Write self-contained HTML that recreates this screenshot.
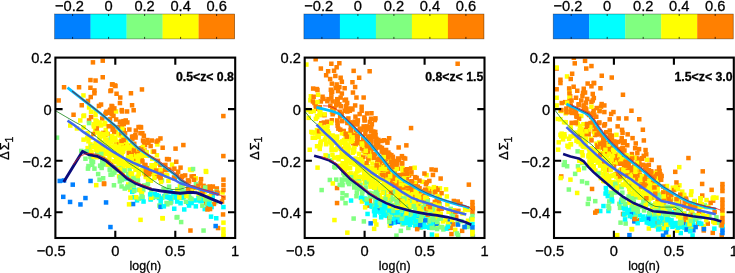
<!DOCTYPE html><html><head><meta charset="utf-8"><title>fig</title><style>
html,body{margin:0;padding:0;background:#fff}body{width:735px;height:273px;position:relative;overflow:hidden}
svg text{font-family:"Liberation Sans",sans-serif;fill:#000;stroke:#000;stroke-width:0.3px}
.t{font-size:14.7px}.z{font-size:12.3px;font-weight:bold}.yl{font-size:13px}.xl{font-size:12.4px}
</style></head><body>
<svg width="735" height="273" viewBox="0 0 735 273" style="position:absolute;left:0;top:0;will-change:transform;opacity:0.9999">
<defs>
<clipPath id="cp0"><rect x="55.4" y="57.6" width="179.8" height="180.4"/></clipPath>
<clipPath id="cp1"><rect x="304.7" y="57.6" width="179.8" height="180.4"/></clipPath>
<clipPath id="cp2"><rect x="554.0" y="57.6" width="179.8" height="180.4"/></clipPath>
</defs>
<rect x="54.6" y="14.0" width="36.2" height="24.9" fill="#0080ff"/>
<rect x="90.6" y="14.0" width="36.2" height="24.9" fill="#00ffff"/>
<rect x="126.6" y="14.0" width="36.2" height="24.9" fill="#80ff80"/>
<rect x="162.6" y="14.0" width="36.2" height="24.9" fill="#ffff00"/>
<rect x="198.6" y="14.0" width="36.2" height="24.9" fill="#ff8000"/>
<rect x="54.6" y="14.0" width="180" height="24.9" fill="none" stroke="#000" stroke-opacity="0.45" stroke-width="0.7"/>
<path d="M72.6 14.0v2M72.6 38.9v-2" stroke="#000" stroke-width="0.7"/>
<path d="M108.6 14.0v2M108.6 38.9v-2" stroke="#000" stroke-width="0.7"/>
<path d="M144.6 14.0v2M144.6 38.9v-2" stroke="#000" stroke-width="0.7"/>
<path d="M180.6 14.0v2M180.6 38.9v-2" stroke="#000" stroke-width="0.7"/>
<path d="M216.6 14.0v2M216.6 38.9v-2" stroke="#000" stroke-width="0.7"/>
<g clip-path="url(#cp0)" shape-rendering="auto">
<rect x="86.8" y="118.2" width="4.5" height="4.5" fill="#ff8000"/>
<rect x="117.7" y="120.1" width="4.5" height="4.5" fill="#ff8000"/>
<rect x="208.5" y="188.0" width="4.5" height="4.5" fill="#ff8000"/>
<rect x="110.3" y="82.2" width="4.5" height="4.5" fill="#ff8000"/>
<rect x="138.8" y="157.0" width="4.5" height="4.5" fill="#ff8000"/>
<rect x="92.9" y="127.9" width="4.5" height="4.5" fill="#ffff00"/>
<rect x="106.2" y="141.9" width="4.5" height="4.5" fill="#ffff00"/>
<rect x="168.5" y="197.7" width="4.5" height="4.5" fill="#80ff80"/>
<rect x="221.2" y="195.4" width="4.5" height="4.5" fill="#ff8000"/>
<rect x="95.1" y="145.0" width="4.5" height="4.5" fill="#ffff00"/>
<rect x="97.6" y="148.2" width="4.5" height="4.5" fill="#ffff00"/>
<rect x="175.1" y="187.2" width="4.5" height="4.5" fill="#80ff80"/>
<rect x="198.8" y="176.9" width="4.5" height="4.5" fill="#ff8000"/>
<rect x="210.6" y="184.3" width="4.5" height="4.5" fill="#ff8000"/>
<rect x="201.3" y="197.4" width="4.5" height="4.5" fill="#ff8000"/>
<rect x="110.0" y="108.5" width="4.5" height="4.5" fill="#ff8000"/>
<rect x="87.4" y="148.5" width="4.5" height="4.5" fill="#ffff00"/>
<rect x="148.6" y="178.5" width="4.5" height="4.5" fill="#ffff00"/>
<rect x="127.6" y="153.3" width="4.5" height="4.5" fill="#ffff00"/>
<rect x="118.5" y="143.3" width="4.5" height="4.5" fill="#ffff00"/>
<rect x="131.7" y="183.4" width="4.5" height="4.5" fill="#80ff80"/>
<rect x="167.2" y="167.3" width="4.5" height="4.5" fill="#ff8000"/>
<rect x="94.1" y="147.8" width="4.5" height="4.5" fill="#ffff00"/>
<rect x="85.0" y="136.1" width="4.5" height="4.5" fill="#ffff00"/>
<rect x="180.4" y="182.7" width="4.5" height="4.5" fill="#ffff00"/>
<rect x="141.0" y="187.8" width="4.5" height="4.5" fill="#80ff80"/>
<rect x="107.5" y="108.5" width="4.5" height="4.5" fill="#ff8000"/>
<rect x="127.8" y="142.8" width="4.5" height="4.5" fill="#ffff00"/>
<rect x="209.4" y="204.8" width="4.5" height="4.5" fill="#00ffff"/>
<rect x="119.2" y="163.9" width="4.5" height="4.5" fill="#ffff00"/>
<rect x="122.6" y="167.8" width="4.5" height="4.5" fill="#ffff00"/>
<rect x="113.9" y="168.1" width="4.5" height="4.5" fill="#80ff80"/>
<rect x="144.8" y="165.9" width="4.5" height="4.5" fill="#ff8000"/>
<rect x="114.3" y="91.5" width="4.5" height="4.5" fill="#ff8000"/>
<rect x="85.3" y="131.1" width="4.5" height="4.5" fill="#ffff00"/>
<rect x="197.2" y="194.4" width="4.5" height="4.5" fill="#ffff00"/>
<rect x="121.2" y="130.8" width="4.5" height="4.5" fill="#ff8000"/>
<rect x="198.3" y="181.1" width="4.5" height="4.5" fill="#ff8000"/>
<rect x="148.9" y="189.1" width="4.5" height="4.5" fill="#80ff80"/>
<rect x="174.4" y="215.2" width="4.5" height="4.5" fill="#80ff80"/>
<rect x="112.2" y="150.3" width="4.5" height="4.5" fill="#ffff00"/>
<rect x="117.2" y="144.1" width="4.5" height="4.5" fill="#ffff00"/>
<rect x="61.8" y="85.0" width="4.5" height="4.5" fill="#ff8000"/>
<rect x="94.4" y="146.4" width="4.5" height="4.5" fill="#ffff00"/>
<rect x="143.6" y="150.8" width="4.5" height="4.5" fill="#ff8000"/>
<rect x="93.5" y="121.9" width="4.5" height="4.5" fill="#ffff00"/>
<rect x="148.6" y="196.2" width="4.5" height="4.5" fill="#80ff80"/>
<rect x="139.2" y="189.7" width="4.5" height="4.5" fill="#80ff80"/>
<rect x="199.1" y="198.1" width="4.5" height="4.5" fill="#00ffff"/>
<rect x="179.0" y="192.6" width="4.5" height="4.5" fill="#00ffff"/>
<rect x="139.0" y="158.3" width="4.5" height="4.5" fill="#ff8000"/>
<rect x="114.8" y="157.6" width="4.5" height="4.5" fill="#ffff00"/>
<rect x="203.9" y="200.8" width="4.5" height="4.5" fill="#ff8000"/>
<rect x="122.5" y="186.3" width="4.5" height="4.5" fill="#80ff80"/>
<rect x="100.0" y="116.3" width="4.5" height="4.5" fill="#ff8000"/>
<rect x="163.2" y="193.5" width="4.5" height="4.5" fill="#00ffff"/>
<rect x="175.0" y="187.5" width="4.5" height="4.5" fill="#00ffff"/>
<rect x="137.9" y="154.0" width="4.5" height="4.5" fill="#ffff00"/>
<rect x="169.8" y="162.4" width="4.5" height="4.5" fill="#ffff00"/>
<rect x="121.5" y="127.8" width="4.5" height="4.5" fill="#ff8000"/>
<rect x="182.9" y="173.2" width="4.5" height="4.5" fill="#ff8000"/>
<rect x="112.2" y="165.3" width="4.5" height="4.5" fill="#80ff80"/>
<rect x="171.8" y="175.2" width="4.5" height="4.5" fill="#ff8000"/>
<rect x="205.3" y="203.4" width="4.5" height="4.5" fill="#00ffff"/>
<rect x="135.1" y="148.6" width="4.5" height="4.5" fill="#ff8000"/>
<rect x="113.8" y="130.1" width="4.5" height="4.5" fill="#ffff00"/>
<rect x="121.4" y="138.4" width="4.5" height="4.5" fill="#ffff00"/>
<rect x="88.2" y="154.7" width="4.5" height="4.5" fill="#80ff80"/>
<rect x="140.1" y="131.0" width="4.5" height="4.5" fill="#ff8000"/>
<rect x="163.9" y="187.6" width="4.5" height="4.5" fill="#00ffff"/>
<rect x="124.0" y="140.9" width="4.5" height="4.5" fill="#ffff00"/>
<rect x="125.1" y="120.2" width="4.5" height="4.5" fill="#ff8000"/>
<rect x="142.6" y="165.9" width="4.5" height="4.5" fill="#ffff00"/>
<rect x="116.4" y="139.6" width="4.5" height="4.5" fill="#ffff00"/>
<rect x="99.4" y="165.7" width="4.5" height="4.5" fill="#80ff80"/>
<rect x="134.4" y="166.1" width="4.5" height="4.5" fill="#80ff80"/>
<rect x="113.9" y="117.2" width="4.5" height="4.5" fill="#ff8000"/>
<rect x="201.2" y="186.0" width="4.5" height="4.5" fill="#ff8000"/>
<rect x="88.3" y="135.3" width="4.5" height="4.5" fill="#ffff00"/>
<rect x="102.9" y="122.0" width="4.5" height="4.5" fill="#ffff00"/>
<rect x="97.9" y="152.0" width="4.5" height="4.5" fill="#ffff00"/>
<rect x="108.2" y="88.8" width="4.5" height="4.5" fill="#ff8000"/>
<rect x="142.1" y="147.9" width="4.5" height="4.5" fill="#ff8000"/>
<rect x="206.1" y="203.3" width="4.5" height="4.5" fill="#ff8000"/>
<rect x="162.1" y="194.1" width="4.5" height="4.5" fill="#00ffff"/>
<rect x="213.2" y="199.9" width="4.5" height="4.5" fill="#80ff80"/>
<rect x="193.1" y="185.9" width="4.5" height="4.5" fill="#ffff00"/>
<rect x="112.0" y="129.6" width="4.5" height="4.5" fill="#ff8000"/>
<rect x="128.0" y="162.8" width="4.5" height="4.5" fill="#ffff00"/>
<rect x="154.7" y="153.0" width="4.5" height="4.5" fill="#ffff00"/>
<rect x="204.5" y="186.7" width="4.5" height="4.5" fill="#ff8000"/>
<rect x="150.0" y="156.6" width="4.5" height="4.5" fill="#ffff00"/>
<rect x="132.1" y="150.9" width="4.5" height="4.5" fill="#ff8000"/>
<rect x="193.7" y="181.8" width="4.5" height="4.5" fill="#80ff80"/>
<rect x="159.7" y="178.2" width="4.5" height="4.5" fill="#80ff80"/>
<rect x="165.8" y="194.8" width="4.5" height="4.5" fill="#00ffff"/>
<rect x="169.0" y="199.3" width="4.5" height="4.5" fill="#00ffff"/>
<rect x="136.6" y="187.4" width="4.5" height="4.5" fill="#80ff80"/>
<rect x="127.2" y="143.9" width="4.5" height="4.5" fill="#ffff00"/>
<rect x="120.0" y="144.9" width="4.5" height="4.5" fill="#ffff00"/>
<rect x="103.2" y="133.1" width="4.5" height="4.5" fill="#ffff00"/>
<rect x="131.6" y="145.6" width="4.5" height="4.5" fill="#ffff00"/>
<rect x="110.0" y="104.2" width="4.5" height="4.5" fill="#ff8000"/>
<rect x="134.5" y="165.0" width="4.5" height="4.5" fill="#ffff00"/>
<rect x="98.8" y="123.2" width="4.5" height="4.5" fill="#ffff00"/>
<rect x="85.7" y="166.4" width="4.5" height="4.5" fill="#80ff80"/>
<rect x="134.8" y="198.1" width="4.5" height="4.5" fill="#00ffff"/>
<rect x="98.3" y="149.7" width="4.5" height="4.5" fill="#ffff00"/>
<rect x="183.2" y="192.5" width="4.5" height="4.5" fill="#00ffff"/>
<rect x="136.6" y="196.4" width="4.5" height="4.5" fill="#80ff80"/>
<rect x="142.8" y="142.8" width="4.5" height="4.5" fill="#ff8000"/>
<rect x="107.5" y="137.4" width="4.5" height="4.5" fill="#ffff00"/>
<rect x="126.0" y="182.2" width="4.5" height="4.5" fill="#ffff00"/>
<rect x="113.5" y="159.8" width="4.5" height="4.5" fill="#ffff00"/>
<rect x="172.0" y="206.5" width="4.5" height="4.5" fill="#00ffff"/>
<rect x="108.4" y="163.0" width="4.5" height="4.5" fill="#80ff80"/>
<rect x="172.4" y="190.8" width="4.5" height="4.5" fill="#80ff80"/>
<rect x="108.3" y="172.5" width="4.5" height="4.5" fill="#80ff80"/>
<rect x="211.7" y="201.7" width="4.5" height="4.5" fill="#ff8000"/>
<rect x="149.2" y="166.4" width="4.5" height="4.5" fill="#ffff00"/>
<rect x="74.7" y="126.2" width="4.5" height="4.5" fill="#ffff00"/>
<rect x="95.0" y="151.6" width="4.5" height="4.5" fill="#80ff80"/>
<rect x="107.9" y="167.8" width="4.5" height="4.5" fill="#80ff80"/>
<rect x="142.1" y="163.3" width="4.5" height="4.5" fill="#ffff00"/>
<rect x="127.8" y="176.5" width="4.5" height="4.5" fill="#ffff00"/>
<rect x="131.8" y="195.1" width="4.5" height="4.5" fill="#00ffff"/>
<rect x="100.5" y="75.0" width="4.5" height="4.5" fill="#ff8000"/>
<rect x="105.3" y="131.8" width="4.5" height="4.5" fill="#ff8000"/>
<rect x="127.4" y="172.0" width="4.5" height="4.5" fill="#ffff00"/>
<rect x="127.4" y="167.4" width="4.5" height="4.5" fill="#80ff80"/>
<rect x="158.4" y="176.4" width="4.5" height="4.5" fill="#ff8000"/>
<rect x="124.9" y="143.4" width="4.5" height="4.5" fill="#ffff00"/>
<rect x="67.8" y="199.7" width="4.5" height="4.5" fill="#0080ff"/>
<rect x="94.7" y="155.0" width="4.5" height="4.5" fill="#ffff00"/>
<rect x="221.2" y="177.4" width="4.5" height="4.5" fill="#ff8000"/>
<rect x="180.4" y="180.8" width="4.5" height="4.5" fill="#ffff00"/>
<rect x="128.5" y="149.4" width="4.5" height="4.5" fill="#ffff00"/>
<rect x="150.5" y="149.4" width="4.5" height="4.5" fill="#ffff00"/>
<rect x="178.9" y="219.8" width="4.5" height="4.5" fill="#80ff80"/>
<rect x="119.1" y="151.0" width="4.5" height="4.5" fill="#ffff00"/>
<rect x="196.4" y="192.7" width="4.5" height="4.5" fill="#ffff00"/>
<rect x="122.8" y="131.1" width="4.5" height="4.5" fill="#ff8000"/>
<rect x="128.7" y="184.9" width="4.5" height="4.5" fill="#80ff80"/>
<rect x="163.4" y="193.6" width="4.5" height="4.5" fill="#80ff80"/>
<rect x="214.0" y="216.0" width="4.5" height="4.5" fill="#00ffff"/>
<rect x="174.9" y="195.6" width="4.5" height="4.5" fill="#00ffff"/>
<rect x="114.8" y="153.4" width="4.5" height="4.5" fill="#ffff00"/>
<rect x="140.5" y="152.4" width="4.5" height="4.5" fill="#ffff00"/>
<rect x="129.1" y="144.4" width="4.5" height="4.5" fill="#ff8000"/>
<rect x="191.5" y="174.0" width="4.5" height="4.5" fill="#ff8000"/>
<rect x="136.0" y="146.9" width="4.5" height="4.5" fill="#ffff00"/>
<rect x="221.2" y="227.1" width="4.5" height="4.5" fill="#ffff00"/>
<rect x="127.9" y="187.6" width="4.5" height="4.5" fill="#ffff00"/>
<rect x="221.2" y="231.1" width="4.5" height="4.5" fill="#ffff00"/>
<rect x="127.6" y="146.4" width="4.5" height="4.5" fill="#ffff00"/>
<rect x="92.2" y="91.0" width="4.5" height="4.5" fill="#ff8000"/>
<rect x="105.4" y="162.6" width="4.5" height="4.5" fill="#80ff80"/>
<rect x="92.2" y="166.4" width="4.5" height="4.5" fill="#80ff80"/>
<rect x="215.3" y="190.8" width="4.5" height="4.5" fill="#ff8000"/>
<rect x="133.6" y="153.7" width="4.5" height="4.5" fill="#ffff00"/>
<rect x="90.8" y="159.5" width="4.5" height="4.5" fill="#80ff80"/>
<rect x="99.3" y="147.5" width="4.5" height="4.5" fill="#ffff00"/>
<rect x="188.7" y="188.3" width="4.5" height="4.5" fill="#ffff00"/>
<rect x="105.2" y="151.5" width="4.5" height="4.5" fill="#ffff00"/>
<rect x="196.3" y="195.9" width="4.5" height="4.5" fill="#00ffff"/>
<rect x="199.5" y="198.4" width="4.5" height="4.5" fill="#00ffff"/>
<rect x="205.2" y="184.8" width="4.5" height="4.5" fill="#ff8000"/>
<rect x="107.4" y="151.1" width="4.5" height="4.5" fill="#ffff00"/>
<rect x="139.4" y="154.9" width="4.5" height="4.5" fill="#ff8000"/>
<rect x="221.2" y="182.8" width="4.5" height="4.5" fill="#ff8000"/>
<rect x="118.9" y="160.8" width="4.5" height="4.5" fill="#ffff00"/>
<rect x="120.2" y="149.5" width="4.5" height="4.5" fill="#ffff00"/>
<rect x="135.1" y="155.8" width="4.5" height="4.5" fill="#ffff00"/>
<rect x="106.6" y="138.2" width="4.5" height="4.5" fill="#ffff00"/>
<rect x="117.8" y="133.2" width="4.5" height="4.5" fill="#ffff00"/>
<rect x="145.8" y="177.3" width="4.5" height="4.5" fill="#ffff00"/>
<rect x="124.8" y="109.2" width="4.5" height="4.5" fill="#ff8000"/>
<rect x="130.1" y="155.4" width="4.5" height="4.5" fill="#ffff00"/>
<rect x="133.2" y="167.6" width="4.5" height="4.5" fill="#ffff00"/>
<rect x="119.6" y="123.8" width="4.5" height="4.5" fill="#ff8000"/>
<rect x="160.1" y="195.6" width="4.5" height="4.5" fill="#80ff80"/>
<rect x="189.4" y="167.8" width="4.5" height="4.5" fill="#ffff00"/>
<rect x="135.7" y="160.4" width="4.5" height="4.5" fill="#ffff00"/>
<rect x="166.2" y="178.6" width="4.5" height="4.5" fill="#ffff00"/>
<rect x="125.4" y="176.7" width="4.5" height="4.5" fill="#80ff80"/>
<rect x="120.6" y="170.2" width="4.5" height="4.5" fill="#ffff00"/>
<rect x="134.6" y="164.5" width="4.5" height="4.5" fill="#ffff00"/>
<rect x="130.6" y="156.1" width="4.5" height="4.5" fill="#ffff00"/>
<rect x="158.7" y="168.5" width="4.5" height="4.5" fill="#ffff00"/>
<rect x="129.1" y="151.7" width="4.5" height="4.5" fill="#ffff00"/>
<rect x="103.1" y="151.7" width="4.5" height="4.5" fill="#ffff00"/>
<rect x="191.0" y="185.3" width="4.5" height="4.5" fill="#ff8000"/>
<rect x="167.0" y="195.3" width="4.5" height="4.5" fill="#00ffff"/>
<rect x="208.8" y="214.4" width="4.5" height="4.5" fill="#00ffff"/>
<rect x="98.4" y="143.2" width="4.5" height="4.5" fill="#ffff00"/>
<rect x="164.0" y="190.9" width="4.5" height="4.5" fill="#80ff80"/>
<rect x="97.2" y="134.2" width="4.5" height="4.5" fill="#ffff00"/>
<rect x="202.3" y="189.9" width="4.5" height="4.5" fill="#ffff00"/>
<rect x="122.4" y="136.6" width="4.5" height="4.5" fill="#ff8000"/>
<rect x="95.9" y="171.8" width="4.5" height="4.5" fill="#80ff80"/>
<rect x="129.8" y="134.5" width="4.5" height="4.5" fill="#ff8000"/>
<rect x="100.5" y="58.4" width="4.5" height="4.5" fill="#ff8000"/>
<rect x="107.2" y="158.1" width="4.5" height="4.5" fill="#ffff00"/>
<rect x="105.7" y="162.2" width="4.5" height="4.5" fill="#ffff00"/>
<rect x="189.4" y="187.5" width="4.5" height="4.5" fill="#ff8000"/>
<rect x="181.4" y="194.7" width="4.5" height="4.5" fill="#00ffff"/>
<rect x="86.2" y="163.8" width="4.5" height="4.5" fill="#80ff80"/>
<rect x="127.1" y="127.3" width="4.5" height="4.5" fill="#ff8000"/>
<rect x="123.2" y="140.2" width="4.5" height="4.5" fill="#ff8000"/>
<rect x="202.5" y="206.8" width="4.5" height="4.5" fill="#00ffff"/>
<rect x="132.0" y="141.6" width="4.5" height="4.5" fill="#ff8000"/>
<rect x="219.8" y="199.3" width="4.5" height="4.5" fill="#ff8000"/>
<rect x="120.1" y="126.4" width="4.5" height="4.5" fill="#ffff00"/>
<rect x="198.5" y="188.8" width="4.5" height="4.5" fill="#ff8000"/>
<rect x="173.3" y="146.4" width="4.5" height="4.5" fill="#ff8000"/>
<rect x="133.4" y="155.1" width="4.5" height="4.5" fill="#ffff00"/>
<rect x="122.2" y="162.3" width="4.5" height="4.5" fill="#ffff00"/>
<rect x="158.4" y="200.8" width="4.5" height="4.5" fill="#00ffff"/>
<rect x="79.0" y="148.7" width="4.5" height="4.5" fill="#80ff80"/>
<rect x="133.1" y="133.0" width="4.5" height="4.5" fill="#ff8000"/>
<rect x="142.4" y="162.8" width="4.5" height="4.5" fill="#ff8000"/>
<rect x="113.9" y="142.2" width="4.5" height="4.5" fill="#ff8000"/>
<rect x="105.6" y="158.2" width="4.5" height="4.5" fill="#ffff00"/>
<rect x="130.8" y="201.8" width="4.5" height="4.5" fill="#0080ff"/>
<rect x="119.1" y="146.8" width="4.5" height="4.5" fill="#ffff00"/>
<rect x="139.7" y="191.1" width="4.5" height="4.5" fill="#ffff00"/>
<rect x="105.2" y="139.0" width="4.5" height="4.5" fill="#ffff00"/>
<rect x="131.7" y="149.2" width="4.5" height="4.5" fill="#ffff00"/>
<rect x="54.8" y="135.4" width="4.5" height="4.5" fill="#80ff80"/>
<rect x="113.4" y="145.1" width="4.5" height="4.5" fill="#ffff00"/>
<rect x="107.5" y="167.3" width="4.5" height="4.5" fill="#80ff80"/>
<rect x="119.6" y="177.8" width="4.5" height="4.5" fill="#80ff80"/>
<rect x="81.3" y="137.4" width="4.5" height="4.5" fill="#ffff00"/>
<rect x="107.1" y="137.9" width="4.5" height="4.5" fill="#ffff00"/>
<rect x="110.1" y="151.5" width="4.5" height="4.5" fill="#ffff00"/>
<rect x="98.8" y="102.3" width="4.5" height="4.5" fill="#ff8000"/>
<rect x="207.7" y="199.1" width="4.5" height="4.5" fill="#80ff80"/>
<rect x="147.0" y="168.1" width="4.5" height="4.5" fill="#ffff00"/>
<rect x="150.6" y="171.8" width="4.5" height="4.5" fill="#ffff00"/>
<rect x="109.8" y="82.2" width="4.5" height="4.5" fill="#ff8000"/>
<rect x="179.0" y="195.8" width="4.5" height="4.5" fill="#80ff80"/>
<rect x="126.5" y="146.0" width="4.5" height="4.5" fill="#ffff00"/>
<rect x="109.8" y="133.8" width="4.5" height="4.5" fill="#ffff00"/>
<rect x="85.9" y="148.3" width="4.5" height="4.5" fill="#ffff00"/>
<rect x="109.3" y="103.7" width="4.5" height="4.5" fill="#ff8000"/>
<rect x="94.0" y="182.9" width="4.5" height="4.5" fill="#ffff00"/>
<rect x="117.8" y="159.7" width="4.5" height="4.5" fill="#ffff00"/>
<rect x="117.7" y="100.8" width="4.5" height="4.5" fill="#ff8000"/>
<rect x="95.1" y="145.9" width="4.5" height="4.5" fill="#ffff00"/>
<rect x="140.1" y="195.4" width="4.5" height="4.5" fill="#00ffff"/>
<rect x="119.7" y="156.1" width="4.5" height="4.5" fill="#ffff00"/>
<rect x="111.5" y="137.2" width="4.5" height="4.5" fill="#ffff00"/>
<rect x="135.4" y="174.4" width="4.5" height="4.5" fill="#ffff00"/>
<rect x="189.4" y="174.2" width="4.5" height="4.5" fill="#ff8000"/>
<rect x="198.3" y="198.9" width="4.5" height="4.5" fill="#00ffff"/>
<rect x="178.3" y="165.4" width="4.5" height="4.5" fill="#ff8000"/>
<rect x="214.6" y="186.2" width="4.5" height="4.5" fill="#ff8000"/>
<rect x="191.8" y="198.2" width="4.5" height="4.5" fill="#00ffff"/>
<rect x="205.0" y="201.2" width="4.5" height="4.5" fill="#80ff80"/>
<rect x="96.1" y="144.2" width="4.5" height="4.5" fill="#ffff00"/>
<rect x="108.4" y="144.4" width="4.5" height="4.5" fill="#ffff00"/>
<rect x="130.7" y="150.0" width="4.5" height="4.5" fill="#ff8000"/>
<rect x="103.5" y="127.7" width="4.5" height="4.5" fill="#ffff00"/>
<rect x="112.7" y="153.3" width="4.5" height="4.5" fill="#ffff00"/>
<rect x="209.2" y="190.2" width="4.5" height="4.5" fill="#ff8000"/>
<rect x="113.2" y="83.8" width="4.5" height="4.5" fill="#ff8000"/>
<rect x="125.9" y="185.3" width="4.5" height="4.5" fill="#80ff80"/>
<rect x="145.2" y="137.8" width="4.5" height="4.5" fill="#ff8000"/>
<rect x="174.8" y="172.9" width="4.5" height="4.5" fill="#ff8000"/>
<rect x="139.4" y="167.7" width="4.5" height="4.5" fill="#ffff00"/>
<rect x="146.5" y="172.9" width="4.5" height="4.5" fill="#ffff00"/>
<rect x="98.3" y="163.7" width="4.5" height="4.5" fill="#80ff80"/>
<rect x="139.5" y="146.4" width="4.5" height="4.5" fill="#ffff00"/>
<rect x="165.1" y="194.8" width="4.5" height="4.5" fill="#00ffff"/>
<rect x="172.1" y="166.4" width="4.5" height="4.5" fill="#ff8000"/>
<rect x="93.4" y="141.0" width="4.5" height="4.5" fill="#ffff00"/>
<rect x="108.0" y="107.5" width="4.5" height="4.5" fill="#ff8000"/>
<rect x="101.4" y="134.1" width="4.5" height="4.5" fill="#ffff00"/>
<rect x="178.9" y="190.0" width="4.5" height="4.5" fill="#80ff80"/>
<rect x="164.9" y="173.4" width="4.5" height="4.5" fill="#ffff00"/>
<rect x="85.4" y="145.9" width="4.5" height="4.5" fill="#ffff00"/>
<rect x="138.3" y="124.8" width="4.5" height="4.5" fill="#ff8000"/>
<rect x="141.4" y="148.1" width="4.5" height="4.5" fill="#ffff00"/>
<rect x="220.8" y="212.2" width="4.5" height="4.5" fill="#ff8000"/>
<rect x="148.4" y="143.8" width="4.5" height="4.5" fill="#ff8000"/>
<rect x="131.1" y="164.4" width="4.5" height="4.5" fill="#ffff00"/>
<rect x="109.1" y="152.5" width="4.5" height="4.5" fill="#ffff00"/>
<rect x="123.6" y="141.0" width="4.5" height="4.5" fill="#ffff00"/>
<rect x="109.5" y="112.0" width="4.5" height="4.5" fill="#ff8000"/>
<rect x="88.3" y="178.7" width="4.5" height="4.5" fill="#0080ff"/>
<rect x="128.4" y="180.7" width="4.5" height="4.5" fill="#80ff80"/>
<rect x="120.6" y="142.3" width="4.5" height="4.5" fill="#ff8000"/>
<rect x="131.7" y="134.4" width="4.5" height="4.5" fill="#ff8000"/>
<rect x="70.5" y="182.4" width="4.5" height="4.5" fill="#0080ff"/>
<rect x="121.3" y="118.9" width="4.5" height="4.5" fill="#ff8000"/>
<rect x="134.3" y="176.5" width="4.5" height="4.5" fill="#ffff00"/>
<rect x="123.6" y="159.7" width="4.5" height="4.5" fill="#ffff00"/>
<rect x="130.7" y="175.5" width="4.5" height="4.5" fill="#ffff00"/>
<rect x="117.6" y="179.2" width="4.5" height="4.5" fill="#80ff80"/>
<rect x="100.8" y="142.5" width="4.5" height="4.5" fill="#ffff00"/>
<rect x="118.0" y="95.3" width="4.5" height="4.5" fill="#ff8000"/>
<rect x="143.6" y="174.2" width="4.5" height="4.5" fill="#ffff00"/>
<rect x="129.7" y="171.6" width="4.5" height="4.5" fill="#ffff00"/>
<rect x="97.9" y="163.5" width="4.5" height="4.5" fill="#80ff80"/>
<rect x="108.8" y="144.4" width="4.5" height="4.5" fill="#ffff00"/>
<rect x="200.4" y="188.7" width="4.5" height="4.5" fill="#ff8000"/>
<rect x="121.4" y="130.9" width="4.5" height="4.5" fill="#ff8000"/>
<rect x="118.3" y="119.4" width="4.5" height="4.5" fill="#ff8000"/>
<rect x="130.5" y="156.0" width="4.5" height="4.5" fill="#ffff00"/>
<rect x="199.0" y="187.7" width="4.5" height="4.5" fill="#80ff80"/>
<rect x="126.8" y="202.1" width="4.5" height="4.5" fill="#ffff00"/>
<rect x="179.5" y="188.4" width="4.5" height="4.5" fill="#80ff80"/>
<rect x="164.2" y="173.4" width="4.5" height="4.5" fill="#ffff00"/>
<rect x="135.5" y="175.3" width="4.5" height="4.5" fill="#ffff00"/>
<rect x="110.8" y="107.3" width="4.5" height="4.5" fill="#ff8000"/>
<rect x="133.5" y="157.6" width="4.5" height="4.5" fill="#ffff00"/>
<rect x="175.1" y="214.8" width="4.5" height="4.5" fill="#80ff80"/>
<rect x="177.9" y="195.5" width="4.5" height="4.5" fill="#80ff80"/>
<rect x="122.3" y="136.1" width="4.5" height="4.5" fill="#ff8000"/>
<rect x="178.3" y="194.4" width="4.5" height="4.5" fill="#00ffff"/>
<rect x="203.9" y="169.6" width="4.5" height="4.5" fill="#ffff00"/>
<rect x="130.2" y="142.1" width="4.5" height="4.5" fill="#ff8000"/>
<rect x="90.7" y="60.1" width="4.5" height="4.5" fill="#ff8000"/>
<rect x="113.8" y="109.2" width="4.5" height="4.5" fill="#ffff00"/>
<rect x="61.8" y="178.2" width="4.5" height="4.5" fill="#0080ff"/>
<rect x="107.7" y="117.1" width="4.5" height="4.5" fill="#ff8000"/>
<rect x="220.3" y="190.2" width="4.5" height="4.5" fill="#ffff00"/>
<rect x="207.2" y="187.8" width="4.5" height="4.5" fill="#ff8000"/>
<rect x="92.2" y="143.4" width="4.5" height="4.5" fill="#ffff00"/>
<rect x="214.4" y="189.4" width="4.5" height="4.5" fill="#80ff80"/>
<rect x="81.2" y="113.8" width="4.5" height="4.5" fill="#ffff00"/>
<rect x="130.8" y="134.5" width="4.5" height="4.5" fill="#ff8000"/>
<rect x="174.9" y="199.3" width="4.5" height="4.5" fill="#00ffff"/>
<rect x="140.1" y="194.9" width="4.5" height="4.5" fill="#80ff80"/>
<rect x="164.8" y="156.8" width="4.5" height="4.5" fill="#ff8000"/>
<rect x="103.1" y="137.4" width="4.5" height="4.5" fill="#ffff00"/>
<rect x="100.1" y="160.0" width="4.5" height="4.5" fill="#80ff80"/>
<rect x="111.7" y="183.0" width="4.5" height="4.5" fill="#80ff80"/>
<rect x="132.7" y="155.5" width="4.5" height="4.5" fill="#ff8000"/>
<rect x="127.2" y="149.5" width="4.5" height="4.5" fill="#ffff00"/>
<rect x="130.0" y="189.6" width="4.5" height="4.5" fill="#00ffff"/>
<rect x="119.6" y="140.6" width="4.5" height="4.5" fill="#ffff00"/>
<rect x="136.5" y="170.1" width="4.5" height="4.5" fill="#ffff00"/>
<rect x="165.3" y="167.6" width="4.5" height="4.5" fill="#ff8000"/>
<rect x="157.2" y="203.3" width="4.5" height="4.5" fill="#80ff80"/>
<rect x="121.8" y="175.9" width="4.5" height="4.5" fill="#80ff80"/>
<rect x="105.5" y="110.4" width="4.5" height="4.5" fill="#ff8000"/>
<rect x="90.0" y="162.5" width="4.5" height="4.5" fill="#80ff80"/>
<rect x="201.5" y="187.8" width="4.5" height="4.5" fill="#ffff00"/>
<rect x="144.4" y="153.3" width="4.5" height="4.5" fill="#ff8000"/>
<rect x="157.7" y="167.6" width="4.5" height="4.5" fill="#ffff00"/>
<rect x="88.5" y="94.8" width="4.5" height="4.5" fill="#ff8000"/>
<rect x="132.9" y="156.8" width="4.5" height="4.5" fill="#ff8000"/>
<rect x="210.4" y="193.6" width="4.5" height="4.5" fill="#ff8000"/>
<rect x="155.1" y="159.2" width="4.5" height="4.5" fill="#ff8000"/>
<rect x="153.9" y="161.3" width="4.5" height="4.5" fill="#ffff00"/>
<rect x="88.8" y="109.5" width="4.5" height="4.5" fill="#ffff00"/>
<rect x="152.3" y="193.2" width="4.5" height="4.5" fill="#80ff80"/>
<rect x="88.2" y="142.1" width="4.5" height="4.5" fill="#ffff00"/>
<rect x="186.8" y="193.7" width="4.5" height="4.5" fill="#80ff80"/>
<rect x="101.8" y="181.2" width="4.5" height="4.5" fill="#ff8000"/>
<rect x="149.6" y="138.3" width="4.5" height="4.5" fill="#ff8000"/>
<rect x="108.2" y="224.8" width="4.5" height="4.5" fill="#0080ff"/>
<rect x="181.1" y="142.8" width="4.5" height="4.5" fill="#ff8000"/>
<rect x="123.5" y="118.2" width="4.5" height="4.5" fill="#ff8000"/>
<rect x="100.9" y="162.3" width="4.5" height="4.5" fill="#80ff80"/>
<rect x="86.8" y="105.2" width="4.5" height="4.5" fill="#ffff00"/>
<rect x="97.4" y="120.2" width="4.5" height="4.5" fill="#ffff00"/>
<rect x="121.1" y="165.0" width="4.5" height="4.5" fill="#ffff00"/>
<rect x="131.5" y="177.8" width="4.5" height="4.5" fill="#80ff80"/>
<rect x="132.4" y="153.3" width="4.5" height="4.5" fill="#ffff00"/>
<rect x="92.2" y="88.2" width="4.5" height="4.5" fill="#ff8000"/>
<rect x="93.3" y="118.2" width="4.5" height="4.5" fill="#ffff00"/>
<rect x="113.2" y="166.4" width="4.5" height="4.5" fill="#ffff00"/>
<rect x="199.7" y="193.5" width="4.5" height="4.5" fill="#80ff80"/>
<rect x="101.5" y="149.7" width="4.5" height="4.5" fill="#ffff00"/>
<rect x="149.3" y="163.0" width="4.5" height="4.5" fill="#ffff00"/>
<rect x="144.4" y="149.9" width="4.5" height="4.5" fill="#ffff00"/>
<rect x="120.6" y="133.1" width="4.5" height="4.5" fill="#ff8000"/>
<rect x="61.0" y="194.6" width="4.5" height="4.5" fill="#0080ff"/>
<rect x="158.8" y="179.7" width="4.5" height="4.5" fill="#ffff00"/>
<rect x="160.4" y="145.5" width="4.5" height="4.5" fill="#ff8000"/>
<rect x="126.5" y="150.8" width="4.5" height="4.5" fill="#ff8000"/>
<rect x="129.6" y="152.4" width="4.5" height="4.5" fill="#ff8000"/>
<rect x="210.4" y="195.2" width="4.5" height="4.5" fill="#00ffff"/>
<rect x="117.3" y="157.8" width="4.5" height="4.5" fill="#ffff00"/>
<rect x="121.1" y="176.7" width="4.5" height="4.5" fill="#80ff80"/>
<rect x="102.3" y="120.6" width="4.5" height="4.5" fill="#ffff00"/>
<rect x="119.3" y="184.2" width="4.5" height="4.5" fill="#80ff80"/>
<rect x="131.9" y="188.0" width="4.5" height="4.5" fill="#00ffff"/>
<rect x="124.9" y="159.2" width="4.5" height="4.5" fill="#ffff00"/>
<rect x="117.1" y="145.9" width="4.5" height="4.5" fill="#ffff00"/>
<rect x="119.5" y="107.9" width="4.5" height="4.5" fill="#ff8000"/>
<rect x="174.0" y="159.5" width="4.5" height="4.5" fill="#ff8000"/>
<rect x="215.8" y="225.8" width="4.5" height="4.5" fill="#ff8000"/>
<rect x="139.0" y="154.4" width="4.5" height="4.5" fill="#ff8000"/>
<rect x="99.3" y="145.7" width="4.5" height="4.5" fill="#ffff00"/>
<rect x="150.6" y="195.4" width="4.5" height="4.5" fill="#00ffff"/>
<rect x="134.0" y="150.2" width="4.5" height="4.5" fill="#ffff00"/>
<rect x="125.9" y="172.0" width="4.5" height="4.5" fill="#80ff80"/>
<rect x="200.1" y="203.4" width="4.5" height="4.5" fill="#80ff80"/>
<rect x="143.7" y="174.8" width="4.5" height="4.5" fill="#ffff00"/>
<rect x="203.6" y="168.8" width="4.5" height="4.5" fill="#ffff00"/>
<rect x="131.7" y="148.4" width="4.5" height="4.5" fill="#ff8000"/>
<rect x="196.1" y="183.6" width="4.5" height="4.5" fill="#ff8000"/>
<rect x="125.7" y="163.6" width="4.5" height="4.5" fill="#ffff00"/>
<rect x="143.5" y="153.5" width="4.5" height="4.5" fill="#ffff00"/>
<rect x="116.3" y="132.1" width="4.5" height="4.5" fill="#ffff00"/>
<rect x="101.0" y="130.7" width="4.5" height="4.5" fill="#ff8000"/>
<rect x="187.8" y="167.3" width="4.5" height="4.5" fill="#ffff00"/>
<rect x="137.1" y="146.6" width="4.5" height="4.5" fill="#ff8000"/>
<rect x="78.0" y="118.2" width="4.5" height="4.5" fill="#ffff00"/>
<rect x="221.1" y="153.8" width="4.5" height="4.5" fill="#ff8000"/>
<rect x="141.8" y="171.0" width="4.5" height="4.5" fill="#ffff00"/>
<rect x="119.3" y="153.2" width="4.5" height="4.5" fill="#ffff00"/>
<rect x="172.5" y="176.0" width="4.5" height="4.5" fill="#ff8000"/>
<rect x="108.8" y="136.2" width="4.5" height="4.5" fill="#80ff80"/>
<rect x="187.9" y="195.9" width="4.5" height="4.5" fill="#80ff80"/>
<rect x="156.5" y="193.8" width="4.5" height="4.5" fill="#00ffff"/>
<rect x="93.3" y="78.3" width="4.5" height="4.5" fill="#ff8000"/>
<rect x="158.2" y="175.2" width="4.5" height="4.5" fill="#ff8000"/>
<rect x="135.7" y="178.3" width="4.5" height="4.5" fill="#80ff80"/>
<rect x="100.5" y="153.9" width="4.5" height="4.5" fill="#ffff00"/>
<rect x="100.7" y="131.8" width="4.5" height="4.5" fill="#ffff00"/>
<rect x="112.1" y="106.1" width="4.5" height="4.5" fill="#ff8000"/>
<rect x="93.3" y="108.5" width="4.5" height="4.5" fill="#ffff00"/>
<rect x="105.1" y="149.9" width="4.5" height="4.5" fill="#ffff00"/>
<rect x="127.1" y="156.9" width="4.5" height="4.5" fill="#ffff00"/>
<rect x="189.1" y="189.1" width="4.5" height="4.5" fill="#ffff00"/>
<rect x="136.5" y="159.5" width="4.5" height="4.5" fill="#ffff00"/>
<rect x="165.1" y="202.1" width="4.5" height="4.5" fill="#80ff80"/>
<rect x="129.0" y="154.0" width="4.5" height="4.5" fill="#ffff00"/>
<rect x="136.3" y="124.8" width="4.5" height="4.5" fill="#ff8000"/>
<rect x="201.3" y="228.3" width="4.5" height="4.5" fill="#80ff80"/>
<rect x="129.0" y="157.8" width="4.5" height="4.5" fill="#ffff00"/>
<rect x="183.1" y="189.3" width="4.5" height="4.5" fill="#80ff80"/>
<rect x="71.3" y="112.5" width="4.5" height="4.5" fill="#ff8000"/>
<rect x="208.2" y="204.2" width="4.5" height="4.5" fill="#00ffff"/>
<rect x="214.6" y="190.2" width="4.5" height="4.5" fill="#ff8000"/>
<rect x="175.1" y="187.8" width="4.5" height="4.5" fill="#ffff00"/>
<rect x="131.4" y="108.0" width="4.5" height="4.5" fill="#ff8000"/>
<rect x="122.0" y="168.4" width="4.5" height="4.5" fill="#80ff80"/>
<rect x="173.2" y="193.0" width="4.5" height="4.5" fill="#80ff80"/>
<rect x="115.0" y="147.6" width="4.5" height="4.5" fill="#ffff00"/>
<rect x="155.7" y="158.6" width="4.5" height="4.5" fill="#ff8000"/>
<rect x="143.9" y="172.1" width="4.5" height="4.5" fill="#ff8000"/>
<rect x="100.9" y="176.0" width="4.5" height="4.5" fill="#80ff80"/>
<rect x="121.8" y="145.2" width="4.5" height="4.5" fill="#ffff00"/>
<rect x="116.6" y="154.7" width="4.5" height="4.5" fill="#ffff00"/>
<rect x="106.5" y="124.0" width="4.5" height="4.5" fill="#ff8000"/>
<rect x="151.8" y="149.3" width="4.5" height="4.5" fill="#ff8000"/>
<rect x="169.1" y="195.4" width="4.5" height="4.5" fill="#00ffff"/>
<rect x="136.2" y="157.5" width="4.5" height="4.5" fill="#ffff00"/>
<rect x="185.9" y="186.4" width="4.5" height="4.5" fill="#ff8000"/>
<rect x="180.5" y="192.6" width="4.5" height="4.5" fill="#80ff80"/>
<rect x="101.3" y="145.7" width="4.5" height="4.5" fill="#ffff00"/>
<rect x="114.9" y="144.9" width="4.5" height="4.5" fill="#ffff00"/>
<rect x="207.2" y="194.3" width="4.5" height="4.5" fill="#ffff00"/>
<rect x="102.4" y="157.4" width="4.5" height="4.5" fill="#ffff00"/>
<rect x="123.0" y="139.6" width="4.5" height="4.5" fill="#ffff00"/>
<rect x="189.4" y="200.8" width="4.5" height="4.5" fill="#00ffff"/>
<rect x="93.3" y="112.8" width="4.5" height="4.5" fill="#ffff00"/>
<rect x="78.2" y="202.2" width="4.5" height="4.5" fill="#0080ff"/>
<rect x="112.8" y="153.3" width="4.5" height="4.5" fill="#ffff00"/>
<rect x="131.2" y="176.2" width="4.5" height="4.5" fill="#80ff80"/>
<rect x="83.2" y="156.5" width="4.5" height="4.5" fill="#80ff80"/>
<rect x="121.5" y="121.8" width="4.5" height="4.5" fill="#ff8000"/>
<rect x="140.2" y="159.2" width="4.5" height="4.5" fill="#ff8000"/>
<rect x="213.4" y="223.8" width="4.5" height="4.5" fill="#0080ff"/>
<rect x="86.8" y="120.8" width="4.5" height="4.5" fill="#80ff80"/>
<rect x="124.3" y="175.8" width="4.5" height="4.5" fill="#00ffff"/>
<rect x="97.3" y="177.4" width="4.5" height="4.5" fill="#80ff80"/>
<rect x="118.9" y="172.2" width="4.5" height="4.5" fill="#ffff00"/>
<rect x="119.3" y="138.6" width="4.5" height="4.5" fill="#ff8000"/>
<rect x="148.4" y="197.3" width="4.5" height="4.5" fill="#00ffff"/>
<rect x="188.2" y="228.3" width="4.5" height="4.5" fill="#ff8000"/>
<rect x="185.7" y="178.1" width="4.5" height="4.5" fill="#ff8000"/>
<rect x="112.1" y="137.3" width="4.5" height="4.5" fill="#ffff00"/>
<rect x="155.8" y="138.3" width="4.5" height="4.5" fill="#ff8000"/>
<rect x="141.3" y="199.3" width="4.5" height="4.5" fill="#00ffff"/>
<rect x="137.6" y="187.9" width="4.5" height="4.5" fill="#ffff00"/>
<rect x="110.4" y="127.4" width="4.5" height="4.5" fill="#ff8000"/>
<rect x="117.2" y="144.6" width="4.5" height="4.5" fill="#ffff00"/>
<rect x="205.2" y="207.2" width="4.5" height="4.5" fill="#ff8000"/>
<rect x="112.7" y="83.2" width="4.5" height="4.5" fill="#ff8000"/>
<rect x="152.5" y="163.0" width="4.5" height="4.5" fill="#ffff00"/>
<rect x="84.4" y="149.2" width="4.5" height="4.5" fill="#80ff80"/>
<rect x="125.8" y="155.1" width="4.5" height="4.5" fill="#ffff00"/>
<rect x="171.2" y="193.0" width="4.5" height="4.5" fill="#00ffff"/>
<rect x="133.6" y="128.3" width="4.5" height="4.5" fill="#ff8000"/>
<rect x="126.5" y="158.2" width="4.5" height="4.5" fill="#ffff00"/>
<rect x="139.7" y="87.2" width="4.5" height="4.5" fill="#ff8000"/>
<rect x="118.4" y="165.7" width="4.5" height="4.5" fill="#80ff80"/>
<rect x="186.8" y="203.3" width="4.5" height="4.5" fill="#00ffff"/>
<rect x="170.5" y="195.5" width="4.5" height="4.5" fill="#80ff80"/>
<rect x="105.9" y="147.6" width="4.5" height="4.5" fill="#ffff00"/>
<rect x="158.2" y="136.2" width="4.5" height="4.5" fill="#ff8000"/>
<rect x="83.2" y="195.8" width="4.5" height="4.5" fill="#0080ff"/>
<rect x="121.0" y="148.7" width="4.5" height="4.5" fill="#ffff00"/>
<rect x="119.8" y="109.2" width="4.5" height="4.5" fill="#ff8000"/>
<rect x="158.5" y="196.5" width="4.5" height="4.5" fill="#00ffff"/>
<rect x="89.3" y="149.6" width="4.5" height="4.5" fill="#ffff00"/>
<rect x="99.3" y="140.6" width="4.5" height="4.5" fill="#ffff00"/>
<rect x="180.8" y="195.2" width="4.5" height="4.5" fill="#00ffff"/>
<rect x="125.6" y="145.0" width="4.5" height="4.5" fill="#ffff00"/>
<rect x="221.2" y="204.8" width="4.5" height="4.5" fill="#00ffff"/>
<rect x="148.0" y="169.6" width="4.5" height="4.5" fill="#ff8000"/>
<rect x="151.0" y="194.7" width="4.5" height="4.5" fill="#80ff80"/>
<rect x="116.3" y="161.7" width="4.5" height="4.5" fill="#ffff00"/>
<rect x="201.3" y="183.6" width="4.5" height="4.5" fill="#ff8000"/>
<rect x="121.7" y="161.5" width="4.5" height="4.5" fill="#ffff00"/>
<rect x="101.8" y="181.8" width="4.5" height="4.5" fill="#ff8000"/>
<rect x="139.4" y="193.9" width="4.5" height="4.5" fill="#80ff80"/>
<rect x="119.2" y="168.8" width="4.5" height="4.5" fill="#80ff80"/>
<rect x="141.8" y="140.1" width="4.5" height="4.5" fill="#ff8000"/>
<rect x="91.2" y="131.8" width="4.5" height="4.5" fill="#ff8000"/>
<rect x="129.8" y="143.2" width="4.5" height="4.5" fill="#ffff00"/>
<rect x="180.2" y="173.8" width="4.5" height="4.5" fill="#ff8000"/>
<rect x="138.7" y="146.2" width="4.5" height="4.5" fill="#ff8000"/>
<rect x="164.3" y="200.8" width="4.5" height="4.5" fill="#80ff80"/>
<rect x="91.4" y="154.4" width="4.5" height="4.5" fill="#ffff00"/>
<rect x="203.3" y="196.7" width="4.5" height="4.5" fill="#ffff00"/>
<rect x="76.8" y="85.0" width="4.5" height="4.5" fill="#ff8000"/>
<rect x="186.8" y="179.2" width="4.5" height="4.5" fill="#ff8000"/>
<rect x="115.4" y="150.7" width="4.5" height="4.5" fill="#ffff00"/>
<rect x="88.2" y="85.5" width="4.5" height="4.5" fill="#ff8000"/>
<rect x="98.6" y="154.0" width="4.5" height="4.5" fill="#ffff00"/>
<rect x="95.6" y="148.3" width="4.5" height="4.5" fill="#ffff00"/>
<rect x="155.1" y="142.2" width="4.5" height="4.5" fill="#ffff00"/>
<rect x="130.1" y="136.8" width="4.5" height="4.5" fill="#ff8000"/>
<rect x="154.8" y="174.2" width="4.5" height="4.5" fill="#ff8000"/>
<rect x="115.4" y="150.2" width="4.5" height="4.5" fill="#ffff00"/>
<rect x="112.7" y="143.3" width="4.5" height="4.5" fill="#ffff00"/>
<rect x="100.2" y="157.9" width="4.5" height="4.5" fill="#80ff80"/>
<rect x="94.8" y="123.9" width="4.5" height="4.5" fill="#ffff00"/>
<rect x="193.5" y="176.1" width="4.5" height="4.5" fill="#ffff00"/>
<rect x="112.4" y="138.2" width="4.5" height="4.5" fill="#ffff00"/>
<rect x="152.5" y="191.9" width="4.5" height="4.5" fill="#00ffff"/>
<rect x="109.1" y="139.8" width="4.5" height="4.5" fill="#ffff00"/>
<rect x="117.1" y="156.8" width="4.5" height="4.5" fill="#ffff00"/>
<rect x="166.8" y="184.4" width="4.5" height="4.5" fill="#80ff80"/>
<rect x="119.2" y="131.3" width="4.5" height="4.5" fill="#ff8000"/>
<rect x="123.2" y="145.9" width="4.5" height="4.5" fill="#ffff00"/>
<rect x="204.1" y="197.3" width="4.5" height="4.5" fill="#80ff80"/>
<rect x="135.8" y="161.9" width="4.5" height="4.5" fill="#ffff00"/>
<rect x="152.4" y="166.3" width="4.5" height="4.5" fill="#ffff00"/>
<rect x="81.3" y="125.2" width="4.5" height="4.5" fill="#ffff00"/>
<rect x="115.1" y="149.5" width="4.5" height="4.5" fill="#ffff00"/>
<rect x="115.7" y="124.9" width="4.5" height="4.5" fill="#ff8000"/>
<rect x="207.5" y="184.3" width="4.5" height="4.5" fill="#ff8000"/>
<rect x="128.4" y="171.2" width="4.5" height="4.5" fill="#ffff00"/>
<rect x="158.3" y="204.6" width="4.5" height="4.5" fill="#0080ff"/>
<rect x="86.6" y="135.5" width="4.5" height="4.5" fill="#ffff00"/>
<rect x="164.1" y="172.7" width="4.5" height="4.5" fill="#ffff00"/>
<rect x="133.9" y="195.0" width="4.5" height="4.5" fill="#ffff00"/>
<rect x="128.2" y="195.4" width="4.5" height="4.5" fill="#ffff00"/>
<rect x="221.2" y="233.8" width="4.5" height="4.5" fill="#ffff00"/>
<rect x="109.8" y="123.2" width="4.5" height="4.5" fill="#ff8000"/>
<rect x="145.7" y="182.0" width="4.5" height="4.5" fill="#80ff80"/>
<rect x="128.7" y="91.0" width="4.5" height="4.5" fill="#ff8000"/>
<rect x="162.8" y="167.7" width="4.5" height="4.5" fill="#ff8000"/>
<rect x="113.7" y="166.3" width="4.5" height="4.5" fill="#80ff80"/>
<rect x="200.1" y="190.2" width="4.5" height="4.5" fill="#ff8000"/>
<rect x="146.8" y="171.8" width="4.5" height="4.5" fill="#ff8000"/>
<rect x="86.2" y="139.0" width="4.5" height="4.5" fill="#ffff00"/>
<rect x="109.7" y="135.6" width="4.5" height="4.5" fill="#ffff00"/>
<rect x="160.4" y="216.1" width="4.5" height="4.5" fill="#ffff00"/>
<rect x="103.8" y="200.2" width="4.5" height="4.5" fill="#0080ff"/>
<rect x="140.4" y="146.3" width="4.5" height="4.5" fill="#ff8000"/>
<rect x="161.3" y="186.7" width="4.5" height="4.5" fill="#80ff80"/>
<rect x="95.2" y="130.3" width="4.5" height="4.5" fill="#ffff00"/>
<rect x="138.8" y="125.2" width="4.5" height="4.5" fill="#ff8000"/>
<rect x="110.2" y="172.2" width="4.5" height="4.5" fill="#80ff80"/>
<rect x="89.2" y="159.0" width="4.5" height="4.5" fill="#80ff80"/>
<rect x="173.8" y="194.8" width="4.5" height="4.5" fill="#00ffff"/>
<rect x="158.1" y="162.7" width="4.5" height="4.5" fill="#ff8000"/>
<rect x="138.3" y="217.6" width="4.5" height="4.5" fill="#ffff00"/>
<rect x="91.5" y="122.1" width="4.5" height="4.5" fill="#ffff00"/>
<rect x="102.6" y="142.8" width="4.5" height="4.5" fill="#ffff00"/>
<rect x="207.8" y="206.8" width="4.5" height="4.5" fill="#ff8000"/>
<rect x="68.0" y="123.3" width="4.5" height="4.5" fill="#ffff00"/>
<rect x="112.1" y="170.4" width="4.5" height="4.5" fill="#80ff80"/>
<rect x="221.1" y="113.8" width="4.5" height="4.5" fill="#ff8000"/>
<rect x="182.0" y="207.2" width="4.5" height="4.5" fill="#00ffff"/>
<rect x="120.7" y="134.7" width="4.5" height="4.5" fill="#ffff00"/>
<rect x="89.5" y="144.5" width="4.5" height="4.5" fill="#80ff80"/>
<rect x="137.5" y="152.2" width="4.5" height="4.5" fill="#ffff00"/>
<rect x="184.2" y="194.0" width="4.5" height="4.5" fill="#ffff00"/>
<rect x="149.9" y="163.9" width="4.5" height="4.5" fill="#ffff00"/>
<rect x="156.7" y="195.7" width="4.5" height="4.5" fill="#00ffff"/>
<rect x="136.7" y="172.0" width="4.5" height="4.5" fill="#ffff00"/>
<rect x="117.9" y="167.0" width="4.5" height="4.5" fill="#ffff00"/>
<rect x="161.6" y="204.1" width="4.5" height="4.5" fill="#00ffff"/>
<rect x="177.7" y="184.2" width="4.5" height="4.5" fill="#ffff00"/>
<rect x="149.0" y="195.6" width="4.5" height="4.5" fill="#ffff00"/>
<rect x="141.6" y="133.5" width="4.5" height="4.5" fill="#ff8000"/>
<rect x="111.6" y="159.1" width="4.5" height="4.5" fill="#ffff00"/>
<rect x="134.0" y="161.0" width="4.5" height="4.5" fill="#ffff00"/>
<rect x="135.4" y="157.3" width="4.5" height="4.5" fill="#ffff00"/>
<rect x="114.0" y="155.9" width="4.5" height="4.5" fill="#ffff00"/>
<rect x="138.2" y="130.9" width="4.5" height="4.5" fill="#ff8000"/>
<rect x="140.6" y="144.8" width="4.5" height="4.5" fill="#ffff00"/>
<rect x="177.1" y="195.1" width="4.5" height="4.5" fill="#ffff00"/>
<rect x="163.8" y="188.4" width="4.5" height="4.5" fill="#80ff80"/>
<rect x="168.3" y="200.8" width="4.5" height="4.5" fill="#80ff80"/>
<rect x="193.6" y="204.1" width="4.5" height="4.5" fill="#00ffff"/>
<rect x="122.1" y="146.1" width="4.5" height="4.5" fill="#ffff00"/>
<rect x="56.4" y="98.2" width="4.5" height="4.5" fill="#ff8000"/>
<rect x="140.8" y="138.3" width="4.5" height="4.5" fill="#ff8000"/>
<rect x="116.9" y="174.1" width="4.5" height="4.5" fill="#ffff00"/>
<rect x="221.2" y="220.4" width="4.5" height="4.5" fill="#ffff00"/>
<rect x="159.4" y="171.6" width="4.5" height="4.5" fill="#ff8000"/>
<rect x="186.0" y="200.6" width="4.5" height="4.5" fill="#00ffff"/>
<rect x="103.2" y="111.5" width="4.5" height="4.5" fill="#ff8000"/>
<rect x="152.2" y="175.7" width="4.5" height="4.5" fill="#ffff00"/>
<rect x="129.8" y="103.0" width="4.5" height="4.5" fill="#ff8000"/>
<rect x="135.2" y="151.6" width="4.5" height="4.5" fill="#ff8000"/>
<rect x="104.8" y="131.5" width="4.5" height="4.5" fill="#ffff00"/>
<rect x="129.9" y="162.2" width="4.5" height="4.5" fill="#ffff00"/>
<rect x="206.9" y="201.6" width="4.5" height="4.5" fill="#00ffff"/>
<rect x="183.7" y="199.5" width="4.5" height="4.5" fill="#80ff80"/>
<rect x="137.2" y="168.5" width="4.5" height="4.5" fill="#ffff00"/>
<rect x="179.1" y="184.1" width="4.5" height="4.5" fill="#80ff80"/>
<rect x="136.4" y="153.2" width="4.5" height="4.5" fill="#ffff00"/>
<rect x="111.2" y="113.6" width="4.5" height="4.5" fill="#ff8000"/>
<rect x="107.2" y="153.8" width="4.5" height="4.5" fill="#ffff00"/>
<rect x="104.3" y="110.5" width="4.5" height="4.5" fill="#ff8000"/>
<rect x="120.4" y="149.6" width="4.5" height="4.5" fill="#ffff00"/>
<rect x="129.6" y="157.1" width="4.5" height="4.5" fill="#ffff00"/>
<rect x="133.9" y="154.3" width="4.5" height="4.5" fill="#ffff00"/>
<rect x="88.2" y="77.8" width="4.5" height="4.5" fill="#ff8000"/>
<rect x="84.5" y="149.3" width="4.5" height="4.5" fill="#80ff80"/>
<rect x="133.3" y="135.3" width="4.5" height="4.5" fill="#ff8000"/>
<rect x="94.4" y="119.1" width="4.5" height="4.5" fill="#ffff00"/>
<rect x="189.3" y="196.7" width="4.5" height="4.5" fill="#80ff80"/>
<rect x="112.4" y="145.9" width="4.5" height="4.5" fill="#ffff00"/>
<rect x="196.1" y="198.1" width="4.5" height="4.5" fill="#00ffff"/>
<rect x="143.2" y="162.8" width="4.5" height="4.5" fill="#ff8000"/>
<rect x="121.3" y="162.3" width="4.5" height="4.5" fill="#ffff00"/>
<rect x="191.8" y="177.5" width="4.5" height="4.5" fill="#ff8000"/>
<rect x="117.8" y="175.1" width="4.5" height="4.5" fill="#80ff80"/>
<rect x="131.8" y="188.7" width="4.5" height="4.5" fill="#80ff80"/>
<rect x="101.2" y="152.0" width="4.5" height="4.5" fill="#ffff00"/>
<rect x="203.0" y="185.3" width="4.5" height="4.5" fill="#80ff80"/>
<rect x="141.9" y="183.2" width="4.5" height="4.5" fill="#80ff80"/>
<rect x="99.0" y="151.7" width="4.5" height="4.5" fill="#80ff80"/>
<rect x="94.5" y="126.2" width="4.5" height="4.5" fill="#ff8000"/>
<rect x="85.7" y="98.7" width="4.5" height="4.5" fill="#ff8000"/>
<rect x="121.4" y="137.7" width="4.5" height="4.5" fill="#ff8000"/>
<rect x="81.2" y="93.2" width="4.5" height="4.5" fill="#ffff00"/>
<rect x="96.7" y="103.7" width="4.5" height="4.5" fill="#ff8000"/>
<rect x="163.1" y="162.7" width="4.5" height="4.5" fill="#ff8000"/>
<rect x="57.5" y="178.7" width="4.5" height="4.5" fill="#0080ff"/>
<rect x="98.4" y="139.8" width="4.5" height="4.5" fill="#ffff00"/>
<rect x="125.1" y="184.3" width="4.5" height="4.5" fill="#80ff80"/>
<rect x="139.0" y="147.3" width="4.5" height="4.5" fill="#ff8000"/>
<rect x="221.2" y="187.8" width="4.5" height="4.5" fill="#ff8000"/>
<rect x="143.6" y="168.3" width="4.5" height="4.5" fill="#ff8000"/>
<rect x="121.0" y="158.8" width="4.5" height="4.5" fill="#ffff00"/>
<rect x="79.5" y="103.0" width="4.5" height="4.5" fill="#ff8000"/>
<rect x="81.8" y="113.3" width="4.5" height="4.5" fill="#ffff00"/>
<rect x="97.5" y="136.5" width="4.5" height="4.5" fill="#ffff00"/>
<rect x="175.9" y="169.4" width="4.5" height="4.5" fill="#ff8000"/>
<rect x="197.1" y="196.0" width="4.5" height="4.5" fill="#80ff80"/>
<rect x="111.0" y="125.5" width="4.5" height="4.5" fill="#ff8000"/>
<rect x="154.9" y="194.6" width="4.5" height="4.5" fill="#80ff80"/>
<rect x="88.8" y="114.8" width="4.5" height="4.5" fill="#ff8000"/>
<rect x="101.0" y="160.8" width="4.5" height="4.5" fill="#80ff80"/>
<rect x="152.4" y="170.5" width="4.5" height="4.5" fill="#ffff00"/>
<rect x="98.1" y="131.4" width="4.5" height="4.5" fill="#ffff00"/>
<rect x="168.2" y="189.7" width="4.5" height="4.5" fill="#00ffff"/>
<rect x="108.8" y="88.2" width="4.5" height="4.5" fill="#ff8000"/>
<rect x="90.3" y="144.8" width="4.5" height="4.5" fill="#ffff00"/>
<rect x="91.6" y="124.2" width="4.5" height="4.5" fill="#ffff00"/>
<rect x="190.8" y="166.8" width="4.5" height="4.5" fill="#80ff80"/>
<rect x="178.3" y="201.0" width="4.5" height="4.5" fill="#00ffff"/>
<rect x="104.2" y="109.5" width="4.5" height="4.5" fill="#ff8000"/>
<rect x="122.2" y="175.0" width="4.5" height="4.5" fill="#80ff80"/>
<rect x="113.1" y="135.5" width="4.5" height="4.5" fill="#ffff00"/>
<rect x="160.3" y="215.9" width="4.5" height="4.5" fill="#ffff00"/>
<rect x="166.6" y="157.1" width="4.5" height="4.5" fill="#ff8000"/>
<rect x="139.7" y="153.8" width="4.5" height="4.5" fill="#ffff00"/>
<rect x="147.9" y="192.2" width="4.5" height="4.5" fill="#00ffff"/>
<rect x="154.3" y="139.3" width="4.5" height="4.5" fill="#ff8000"/>
<rect x="153.9" y="168.3" width="4.5" height="4.5" fill="#ff8000"/>
<rect x="146.2" y="140.5" width="4.5" height="4.5" fill="#ff8000"/>
<rect x="179.5" y="174.9" width="4.5" height="4.5" fill="#ff8000"/>
<rect x="168.1" y="195.4" width="4.5" height="4.5" fill="#00ffff"/>
<rect x="154.6" y="192.8" width="4.5" height="4.5" fill="#00ffff"/>
</g>
<g fill="none" stroke-linejoin="round" stroke-linecap="butt" clip-path="url(#cp0)">
<path d="M56.0 111.0 L65.9 116.8 L75.8 122.5 L80.7 125.0 L88.9 130.8 L97.2 137.4 L105.4 143.9 L113.7 150.5 L121.9 157.1 L128.5 162.9 L133.4 166.0 L141.7 171.6 L149.9 178.2 L158.1 183.9 L166.4 188.1 L172.0 189.5 L180.0 189.3 L186.0 187.5 L190.2 186.5 L200.3 189.5 L212.4 193.0 L218.5 195.0" stroke="#2f8f2f" stroke-width="0.9"/>
<path d="M67.5 87.6 L77.4 95.4 L88.9 104.4 L100.5 113.5 L110.4 121.7 L116.0 126.5 L121.9 132.7 L130.1 140.8 L138.4 148.4 L148.3 155.5 L158.1 161.7 L163.1 166.0 L171.3 172.0 L176.0 175.5 L180.2 179.8 L190.2 186.0 L200.3 189.3 L210.4 192.0 L218.5 194.4" stroke="#00beff" stroke-width="2.7"/>
<path d="M72.0 91.1 L77.4 95.4 L88.9 104.4 L100.5 113.5 L110.4 121.7 L116.0 126.5 L121.9 132.7 L130.1 140.8 L138.4 148.4 L148.3 155.5 L158.1 161.7 L163.1 166.0 L171.3 172.0 L176.0 175.5 L180.2 179.8 L190.2 186.0 L200.3 189.3 L210.4 192.0 L218.5 194.4" stroke="#54405a" stroke-width="1.1" transform="translate(0.1 -0.1)"/>
<path d="M67.5 120.6 L74.1 125.0 L84.0 132.4 L93.9 139.0 L103.8 145.6 L113.7 152.2 L123.5 157.9 L133.4 162.9 L138.4 165.0 L148.3 169.1 L158.1 173.2 L168.0 177.4 L176.0 180.7 L180.2 183.3 L190.2 186.3 L200.3 189.3 L212.4 192.7 L218.5 194.8" stroke="#4068ee" stroke-width="2.5"/>
<path d="M63.7 182.0 L74.1 165.0 L82.4 151.4 L88.9 154.7 L97.2 156.3 L105.4 160.4 L110.4 164.5 L118.6 171.0 L126.8 178.2 L135.1 183.1 L143.3 186.4 L151.6 189.4 L161.4 191.0 L171.3 192.2 L180.2 193.3 L190.2 192.3 L196.3 192.7 L204.4 195.8 L214.4 200.2 L222.5 203.5" stroke="#0b0b7c" stroke-width="2.9"/>
<path d="M140.0 149.0 L148.3 154.5 L158.1 160.2 L163.1 164.0 L171.3 169.8 L176.0 173.5 L180.2 178.0 L190.2 185.0 L200.3 188.6 L210.4 191.5 L220.5 195.4 L224.5 197.4" stroke="#e02020" stroke-width="0.8"/>
<path d="M73.3 164.5 L75.8 161.0 L78.3 158.2 L81.2 155.8 L84.5 154.3 L88.9 153.3 L97.2 154.3 L105.4 158.0 L113.7 164.5 L118.6 169.5 L126.8 176.8 L135.1 181.9 L143.3 185.2 L151.6 188.2" stroke="#e02020" stroke-width="0.8"/>
</g>
<rect x="55.4" y="57.6" width="179.8" height="180.4" fill="none" stroke="#000" stroke-width="2.1"/>
<path d="M115.3 57.6v7.2M115.3 238v-7.2M175.3 57.6v7.2M175.3 238v-7.2M55.4 109.1h7.2M235.20000000000002 109.1h-7.2M55.4 160.7h7.2M235.20000000000002 160.7h-7.2M55.4 212.2h7.2M235.20000000000002 212.2h-7.2" stroke="#000" stroke-width="2.1"/>
<rect x="303.9" y="14.0" width="36.2" height="24.9" fill="#0080ff"/>
<rect x="339.9" y="14.0" width="36.2" height="24.9" fill="#00ffff"/>
<rect x="375.9" y="14.0" width="36.2" height="24.9" fill="#80ff80"/>
<rect x="411.9" y="14.0" width="36.2" height="24.9" fill="#ffff00"/>
<rect x="447.9" y="14.0" width="36.2" height="24.9" fill="#ff8000"/>
<rect x="303.9" y="14.0" width="180" height="24.9" fill="none" stroke="#000" stroke-opacity="0.45" stroke-width="0.7"/>
<path d="M321.9 14.0v2M321.9 38.9v-2" stroke="#000" stroke-width="0.7"/>
<path d="M357.9 14.0v2M357.9 38.9v-2" stroke="#000" stroke-width="0.7"/>
<path d="M393.9 14.0v2M393.9 38.9v-2" stroke="#000" stroke-width="0.7"/>
<path d="M429.9 14.0v2M429.9 38.9v-2" stroke="#000" stroke-width="0.7"/>
<path d="M465.9 14.0v2M465.9 38.9v-2" stroke="#000" stroke-width="0.7"/>
<g clip-path="url(#cp1)" shape-rendering="auto">
<rect x="346.0" y="157.2" width="4.5" height="4.5" fill="#ffff00"/>
<rect x="417.3" y="185.9" width="4.5" height="4.5" fill="#ff8000"/>
<rect x="384.7" y="178.2" width="4.5" height="4.5" fill="#ffff00"/>
<rect x="388.5" y="198.0" width="4.5" height="4.5" fill="#ffff00"/>
<rect x="431.2" y="189.9" width="4.5" height="4.5" fill="#ff8000"/>
<rect x="386.7" y="173.2" width="4.5" height="4.5" fill="#ffff00"/>
<rect x="427.5" y="202.3" width="4.5" height="4.5" fill="#ffff00"/>
<rect x="420.2" y="179.6" width="4.5" height="4.5" fill="#ffff00"/>
<rect x="367.5" y="195.4" width="4.5" height="4.5" fill="#80ff80"/>
<rect x="427.2" y="219.8" width="4.5" height="4.5" fill="#0080ff"/>
<rect x="368.6" y="151.5" width="4.5" height="4.5" fill="#ff8000"/>
<rect x="418.3" y="225.5" width="4.5" height="4.5" fill="#80ff80"/>
<rect x="335.2" y="145.7" width="4.5" height="4.5" fill="#ffff00"/>
<rect x="438.4" y="176.3" width="4.5" height="4.5" fill="#ff8000"/>
<rect x="406.4" y="213.9" width="4.5" height="4.5" fill="#ffff00"/>
<rect x="355.2" y="165.4" width="4.5" height="4.5" fill="#ffff00"/>
<rect x="404.9" y="216.5" width="4.5" height="4.5" fill="#00ffff"/>
<rect x="400.1" y="212.3" width="4.5" height="4.5" fill="#ffff00"/>
<rect x="394.2" y="178.5" width="4.5" height="4.5" fill="#ffff00"/>
<rect x="454.0" y="214.7" width="4.5" height="4.5" fill="#ff8000"/>
<rect x="384.8" y="211.8" width="4.5" height="4.5" fill="#00ffff"/>
<rect x="397.3" y="212.7" width="4.5" height="4.5" fill="#00ffff"/>
<rect x="359.9" y="192.0" width="4.5" height="4.5" fill="#80ff80"/>
<rect x="333.2" y="139.7" width="4.5" height="4.5" fill="#ffff00"/>
<rect x="352.9" y="177.6" width="4.5" height="4.5" fill="#ffff00"/>
<rect x="345.6" y="180.0" width="4.5" height="4.5" fill="#80ff80"/>
<rect x="429.1" y="203.0" width="4.5" height="4.5" fill="#ff8000"/>
<rect x="416.9" y="193.4" width="4.5" height="4.5" fill="#ff8000"/>
<rect x="370.3" y="183.6" width="4.5" height="4.5" fill="#80ff80"/>
<rect x="340.3" y="160.9" width="4.5" height="4.5" fill="#ffff00"/>
<rect x="395.4" y="213.3" width="4.5" height="4.5" fill="#ff8000"/>
<rect x="423.0" y="204.8" width="4.5" height="4.5" fill="#ffff00"/>
<rect x="389.5" y="216.9" width="4.5" height="4.5" fill="#00ffff"/>
<rect x="343.6" y="177.3" width="4.5" height="4.5" fill="#80ff80"/>
<rect x="352.3" y="158.6" width="4.5" height="4.5" fill="#ffff00"/>
<rect x="392.0" y="184.3" width="4.5" height="4.5" fill="#ffff00"/>
<rect x="439.0" y="216.4" width="4.5" height="4.5" fill="#80ff80"/>
<rect x="384.3" y="186.0" width="4.5" height="4.5" fill="#ffff00"/>
<rect x="355.2" y="137.6" width="4.5" height="4.5" fill="#ff8000"/>
<rect x="354.3" y="162.3" width="4.5" height="4.5" fill="#ffff00"/>
<rect x="419.9" y="199.8" width="4.5" height="4.5" fill="#ffff00"/>
<rect x="387.8" y="168.7" width="4.5" height="4.5" fill="#ffff00"/>
<rect x="466.3" y="223.6" width="4.5" height="4.5" fill="#80ff80"/>
<rect x="406.2" y="189.8" width="4.5" height="4.5" fill="#ff8000"/>
<rect x="367.9" y="176.8" width="4.5" height="4.5" fill="#ffff00"/>
<rect x="370.4" y="176.3" width="4.5" height="4.5" fill="#ffff00"/>
<rect x="340.3" y="182.9" width="4.5" height="4.5" fill="#80ff80"/>
<rect x="385.0" y="193.6" width="4.5" height="4.5" fill="#80ff80"/>
<rect x="382.9" y="172.9" width="4.5" height="4.5" fill="#ffff00"/>
<rect x="316.0" y="134.5" width="4.5" height="4.5" fill="#ffff00"/>
<rect x="380.9" y="182.7" width="4.5" height="4.5" fill="#ffff00"/>
<rect x="332.7" y="138.5" width="4.5" height="4.5" fill="#ffff00"/>
<rect x="379.3" y="138.7" width="4.5" height="4.5" fill="#ff8000"/>
<rect x="384.8" y="213.6" width="4.5" height="4.5" fill="#00ffff"/>
<rect x="371.9" y="175.6" width="4.5" height="4.5" fill="#ffff00"/>
<rect x="431.8" y="189.7" width="4.5" height="4.5" fill="#80ff80"/>
<rect x="376.5" y="204.8" width="4.5" height="4.5" fill="#80ff80"/>
<rect x="367.7" y="126.5" width="4.5" height="4.5" fill="#ff8000"/>
<rect x="422.3" y="196.1" width="4.5" height="4.5" fill="#80ff80"/>
<rect x="427.0" y="218.7" width="4.5" height="4.5" fill="#80ff80"/>
<rect x="353.3" y="156.3" width="4.5" height="4.5" fill="#ffff00"/>
<rect x="343.3" y="139.5" width="4.5" height="4.5" fill="#ffff00"/>
<rect x="426.8" y="215.8" width="4.5" height="4.5" fill="#80ff80"/>
<rect x="397.4" y="177.7" width="4.5" height="4.5" fill="#ff8000"/>
<rect x="370.8" y="192.5" width="4.5" height="4.5" fill="#80ff80"/>
<rect x="427.1" y="204.3" width="4.5" height="4.5" fill="#80ff80"/>
<rect x="365.5" y="140.1" width="4.5" height="4.5" fill="#ff8000"/>
<rect x="382.3" y="164.2" width="4.5" height="4.5" fill="#ff8000"/>
<rect x="342.4" y="86.0" width="4.5" height="4.5" fill="#ff8000"/>
<rect x="382.9" y="160.5" width="4.5" height="4.5" fill="#ff8000"/>
<rect x="389.1" y="167.0" width="4.5" height="4.5" fill="#ff8000"/>
<rect x="376.7" y="156.7" width="4.5" height="4.5" fill="#ff8000"/>
<rect x="344.3" y="161.6" width="4.5" height="4.5" fill="#ffff00"/>
<rect x="374.3" y="175.5" width="4.5" height="4.5" fill="#ffff00"/>
<rect x="398.2" y="206.1" width="4.5" height="4.5" fill="#80ff80"/>
<rect x="360.9" y="136.6" width="4.5" height="4.5" fill="#ff8000"/>
<rect x="380.6" y="177.2" width="4.5" height="4.5" fill="#ff8000"/>
<rect x="397.4" y="194.1" width="4.5" height="4.5" fill="#ff8000"/>
<rect x="361.9" y="169.9" width="4.5" height="4.5" fill="#ffff00"/>
<rect x="356.7" y="181.0" width="4.5" height="4.5" fill="#ffff00"/>
<rect x="378.3" y="204.7" width="4.5" height="4.5" fill="#00ffff"/>
<rect x="444.4" y="225.7" width="4.5" height="4.5" fill="#ffff00"/>
<rect x="380.5" y="199.7" width="4.5" height="4.5" fill="#80ff80"/>
<rect x="312.7" y="130.3" width="4.5" height="4.5" fill="#ffff00"/>
<rect x="413.0" y="200.8" width="4.5" height="4.5" fill="#ffff00"/>
<rect x="356.9" y="75.5" width="4.5" height="4.5" fill="#ff8000"/>
<rect x="400.8" y="185.6" width="4.5" height="4.5" fill="#ffff00"/>
<rect x="384.1" y="194.5" width="4.5" height="4.5" fill="#80ff80"/>
<rect x="375.5" y="177.1" width="4.5" height="4.5" fill="#ffff00"/>
<rect x="375.8" y="178.2" width="4.5" height="4.5" fill="#ffff00"/>
<rect x="335.0" y="118.2" width="4.5" height="4.5" fill="#ff8000"/>
<rect x="354.9" y="140.3" width="4.5" height="4.5" fill="#ff8000"/>
<rect x="393.3" y="165.4" width="4.5" height="4.5" fill="#ff8000"/>
<rect x="388.8" y="179.8" width="4.5" height="4.5" fill="#ff8000"/>
<rect x="392.6" y="220.3" width="4.5" height="4.5" fill="#00ffff"/>
<rect x="389.5" y="176.3" width="4.5" height="4.5" fill="#ff8000"/>
<rect x="403.6" y="171.1" width="4.5" height="4.5" fill="#ff8000"/>
<rect x="431.7" y="225.6" width="4.5" height="4.5" fill="#80ff80"/>
<rect x="348.2" y="120.2" width="4.5" height="4.5" fill="#ff8000"/>
<rect x="430.6" y="222.2" width="4.5" height="4.5" fill="#00ffff"/>
<rect x="398.2" y="174.8" width="4.5" height="4.5" fill="#ff8000"/>
<rect x="374.4" y="189.5" width="4.5" height="4.5" fill="#80ff80"/>
<rect x="380.0" y="168.4" width="4.5" height="4.5" fill="#ff8000"/>
<rect x="414.6" y="200.0" width="4.5" height="4.5" fill="#ffff00"/>
<rect x="354.9" y="119.4" width="4.5" height="4.5" fill="#ff8000"/>
<rect x="337.6" y="143.2" width="4.5" height="4.5" fill="#ffff00"/>
<rect x="372.6" y="218.9" width="4.5" height="4.5" fill="#ffff00"/>
<rect x="347.8" y="165.9" width="4.5" height="4.5" fill="#ffff00"/>
<rect x="378.0" y="161.5" width="4.5" height="4.5" fill="#ffff00"/>
<rect x="390.8" y="203.1" width="4.5" height="4.5" fill="#80ff80"/>
<rect x="378.5" y="168.4" width="4.5" height="4.5" fill="#ff8000"/>
<rect x="347.6" y="157.8" width="4.5" height="4.5" fill="#ffff00"/>
<rect x="393.8" y="207.4" width="4.5" height="4.5" fill="#80ff80"/>
<rect x="334.0" y="102.9" width="4.5" height="4.5" fill="#ff8000"/>
<rect x="391.0" y="163.2" width="4.5" height="4.5" fill="#ffff00"/>
<rect x="357.3" y="140.0" width="4.5" height="4.5" fill="#ff8000"/>
<rect x="405.5" y="212.1" width="4.5" height="4.5" fill="#80ff80"/>
<rect x="413.7" y="214.2" width="4.5" height="4.5" fill="#00ffff"/>
<rect x="411.4" y="187.6" width="4.5" height="4.5" fill="#ffff00"/>
<rect x="410.7" y="204.6" width="4.5" height="4.5" fill="#ffff00"/>
<rect x="428.5" y="186.6" width="4.5" height="4.5" fill="#ffff00"/>
<rect x="330.2" y="152.8" width="4.5" height="4.5" fill="#ffff00"/>
<rect x="437.2" y="215.8" width="4.5" height="4.5" fill="#80ff80"/>
<rect x="330.4" y="99.2" width="4.5" height="4.5" fill="#ff8000"/>
<rect x="390.0" y="210.0" width="4.5" height="4.5" fill="#00ffff"/>
<rect x="350.2" y="107.2" width="4.5" height="4.5" fill="#ff8000"/>
<rect x="465.8" y="218.5" width="4.5" height="4.5" fill="#ffff00"/>
<rect x="371.2" y="156.0" width="4.5" height="4.5" fill="#ffff00"/>
<rect x="409.3" y="198.8" width="4.5" height="4.5" fill="#ffff00"/>
<rect x="363.7" y="124.8" width="4.5" height="4.5" fill="#ff8000"/>
<rect x="415.3" y="214.8" width="4.5" height="4.5" fill="#80ff80"/>
<rect x="386.9" y="175.7" width="4.5" height="4.5" fill="#ff8000"/>
<rect x="397.6" y="217.7" width="4.5" height="4.5" fill="#00ffff"/>
<rect x="412.8" y="190.6" width="4.5" height="4.5" fill="#ffff00"/>
<rect x="435.4" y="202.1" width="4.5" height="4.5" fill="#ff8000"/>
<rect x="319.9" y="112.8" width="4.5" height="4.5" fill="#ffff00"/>
<rect x="417.2" y="178.4" width="4.5" height="4.5" fill="#ff8000"/>
<rect x="401.0" y="218.7" width="4.5" height="4.5" fill="#80ff80"/>
<rect x="383.6" y="165.7" width="4.5" height="4.5" fill="#ff8000"/>
<rect x="394.2" y="205.5" width="4.5" height="4.5" fill="#80ff80"/>
<rect x="385.2" y="173.5" width="4.5" height="4.5" fill="#ffff00"/>
<rect x="376.5" y="160.8" width="4.5" height="4.5" fill="#ff8000"/>
<rect x="419.2" y="214.5" width="4.5" height="4.5" fill="#80ff80"/>
<rect x="361.4" y="95.3" width="4.5" height="4.5" fill="#ff8000"/>
<rect x="391.7" y="166.9" width="4.5" height="4.5" fill="#ffff00"/>
<rect x="364.0" y="138.8" width="4.5" height="4.5" fill="#ff8000"/>
<rect x="378.5" y="200.6" width="4.5" height="4.5" fill="#80ff80"/>
<rect x="384.8" y="162.4" width="4.5" height="4.5" fill="#ff8000"/>
<rect x="315.2" y="132.0" width="4.5" height="4.5" fill="#ffff00"/>
<rect x="353.7" y="128.6" width="4.5" height="4.5" fill="#ff8000"/>
<rect x="356.1" y="164.5" width="4.5" height="4.5" fill="#ffff00"/>
<rect x="398.9" y="185.5" width="4.5" height="4.5" fill="#ff8000"/>
<rect x="414.8" y="199.1" width="4.5" height="4.5" fill="#80ff80"/>
<rect x="402.9" y="156.3" width="4.5" height="4.5" fill="#ff8000"/>
<rect x="354.7" y="186.2" width="4.5" height="4.5" fill="#80ff80"/>
<rect x="400.3" y="170.0" width="4.5" height="4.5" fill="#ffff00"/>
<rect x="344.8" y="156.5" width="4.5" height="4.5" fill="#ffff00"/>
<rect x="398.0" y="202.9" width="4.5" height="4.5" fill="#80ff80"/>
<rect x="425.6" y="215.4" width="4.5" height="4.5" fill="#80ff80"/>
<rect x="375.8" y="188.0" width="4.5" height="4.5" fill="#ffff00"/>
<rect x="339.8" y="153.8" width="4.5" height="4.5" fill="#ffff00"/>
<rect x="455.5" y="199.3" width="4.5" height="4.5" fill="#ff8000"/>
<rect x="346.1" y="176.7" width="4.5" height="4.5" fill="#80ff80"/>
<rect x="350.7" y="132.0" width="4.5" height="4.5" fill="#ffff00"/>
<rect x="417.1" y="224.5" width="4.5" height="4.5" fill="#00ffff"/>
<rect x="387.9" y="158.9" width="4.5" height="4.5" fill="#ffff00"/>
<rect x="408.9" y="166.2" width="4.5" height="4.5" fill="#ff8000"/>
<rect x="358.9" y="141.4" width="4.5" height="4.5" fill="#ff8000"/>
<rect x="390.8" y="217.1" width="4.5" height="4.5" fill="#0080ff"/>
<rect x="371.3" y="134.3" width="4.5" height="4.5" fill="#ff8000"/>
<rect x="339.1" y="164.8" width="4.5" height="4.5" fill="#ffff00"/>
<rect x="389.5" y="190.2" width="4.5" height="4.5" fill="#ff8000"/>
<rect x="403.9" y="212.5" width="4.5" height="4.5" fill="#80ff80"/>
<rect x="347.4" y="120.8" width="4.5" height="4.5" fill="#ff8000"/>
<rect x="377.6" y="183.6" width="4.5" height="4.5" fill="#ffff00"/>
<rect x="387.4" y="201.4" width="4.5" height="4.5" fill="#80ff80"/>
<rect x="353.3" y="171.3" width="4.5" height="4.5" fill="#ffff00"/>
<rect x="392.6" y="171.1" width="4.5" height="4.5" fill="#ff8000"/>
<rect x="437.7" y="186.1" width="4.5" height="4.5" fill="#ffff00"/>
<rect x="370.7" y="134.2" width="4.5" height="4.5" fill="#ff8000"/>
<rect x="427.1" y="178.7" width="4.5" height="4.5" fill="#ff8000"/>
<rect x="323.9" y="142.0" width="4.5" height="4.5" fill="#ffff00"/>
<rect x="422.0" y="221.7" width="4.5" height="4.5" fill="#00ffff"/>
<rect x="373.6" y="182.0" width="4.5" height="4.5" fill="#ffff00"/>
<rect x="377.5" y="160.4" width="4.5" height="4.5" fill="#ff8000"/>
<rect x="348.7" y="134.4" width="4.5" height="4.5" fill="#ffff00"/>
<rect x="393.2" y="162.5" width="4.5" height="4.5" fill="#ffff00"/>
<rect x="365.6" y="164.1" width="4.5" height="4.5" fill="#ffff00"/>
<rect x="401.1" y="179.8" width="4.5" height="4.5" fill="#ffff00"/>
<rect x="413.4" y="219.9" width="4.5" height="4.5" fill="#80ff80"/>
<rect x="470.2" y="206.8" width="4.5" height="4.5" fill="#ffff00"/>
<rect x="352.2" y="144.5" width="4.5" height="4.5" fill="#ffff00"/>
<rect x="377.4" y="168.8" width="4.5" height="4.5" fill="#ff8000"/>
<rect x="408.9" y="211.9" width="4.5" height="4.5" fill="#80ff80"/>
<rect x="383.6" y="148.6" width="4.5" height="4.5" fill="#ff8000"/>
<rect x="342.4" y="98.0" width="4.5" height="4.5" fill="#ff8000"/>
<rect x="449.4" y="211.1" width="4.5" height="4.5" fill="#80ff80"/>
<rect x="381.7" y="187.0" width="4.5" height="4.5" fill="#ffff00"/>
<rect x="418.2" y="223.9" width="4.5" height="4.5" fill="#ff8000"/>
<rect x="470.6" y="234.2" width="4.5" height="4.5" fill="#0080ff"/>
<rect x="349.8" y="179.4" width="4.5" height="4.5" fill="#80ff80"/>
<rect x="465.5" y="207.1" width="4.5" height="4.5" fill="#ffff00"/>
<rect x="404.0" y="219.3" width="4.5" height="4.5" fill="#00ffff"/>
<rect x="369.7" y="180.4" width="4.5" height="4.5" fill="#ffff00"/>
<rect x="342.3" y="172.7" width="4.5" height="4.5" fill="#80ff80"/>
<rect x="392.2" y="206.5" width="4.5" height="4.5" fill="#80ff80"/>
<rect x="371.9" y="226.6" width="4.5" height="4.5" fill="#ffff00"/>
<rect x="424.8" y="190.6" width="4.5" height="4.5" fill="#ff8000"/>
<rect x="372.6" y="213.0" width="4.5" height="4.5" fill="#00ffff"/>
<rect x="392.4" y="186.0" width="4.5" height="4.5" fill="#ffff00"/>
<rect x="382.6" y="175.3" width="4.5" height="4.5" fill="#ffff00"/>
<rect x="405.0" y="185.3" width="4.5" height="4.5" fill="#ffff00"/>
<rect x="435.3" y="205.2" width="4.5" height="4.5" fill="#ffff00"/>
<rect x="345.8" y="153.8" width="4.5" height="4.5" fill="#ffff00"/>
<rect x="374.0" y="182.2" width="4.5" height="4.5" fill="#ffff00"/>
<rect x="407.4" y="204.6" width="4.5" height="4.5" fill="#ffff00"/>
<rect x="387.5" y="209.9" width="4.5" height="4.5" fill="#80ff80"/>
<rect x="308.1" y="98.0" width="4.5" height="4.5" fill="#ffff00"/>
<rect x="366.0" y="203.4" width="4.5" height="4.5" fill="#ff8000"/>
<rect x="405.3" y="203.5" width="4.5" height="4.5" fill="#80ff80"/>
<rect x="391.3" y="166.8" width="4.5" height="4.5" fill="#ffff00"/>
<rect x="369.5" y="202.8" width="4.5" height="4.5" fill="#00ffff"/>
<rect x="435.3" y="222.3" width="4.5" height="4.5" fill="#ffff00"/>
<rect x="381.4" y="167.5" width="4.5" height="4.5" fill="#ff8000"/>
<rect x="406.0" y="169.6" width="4.5" height="4.5" fill="#ff8000"/>
<rect x="391.9" y="211.5" width="4.5" height="4.5" fill="#80ff80"/>
<rect x="434.8" y="217.8" width="4.5" height="4.5" fill="#80ff80"/>
<rect x="332.5" y="137.9" width="4.5" height="4.5" fill="#ffff00"/>
<rect x="426.6" y="188.9" width="4.5" height="4.5" fill="#ff8000"/>
<rect x="371.3" y="204.5" width="4.5" height="4.5" fill="#00ffff"/>
<rect x="377.9" y="144.7" width="4.5" height="4.5" fill="#ff8000"/>
<rect x="381.7" y="171.7" width="4.5" height="4.5" fill="#ffff00"/>
<rect x="327.6" y="177.7" width="4.5" height="4.5" fill="#80ff80"/>
<rect x="408.6" y="186.0" width="4.5" height="4.5" fill="#ffff00"/>
<rect x="361.4" y="124.2" width="4.5" height="4.5" fill="#ff8000"/>
<rect x="456.2" y="208.6" width="4.5" height="4.5" fill="#ff8000"/>
<rect x="429.7" y="232.3" width="4.5" height="4.5" fill="#00ffff"/>
<rect x="373.6" y="146.2" width="4.5" height="4.5" fill="#ff8000"/>
<rect x="338.4" y="95.3" width="4.5" height="4.5" fill="#ff8000"/>
<rect x="387.6" y="184.6" width="4.5" height="4.5" fill="#ffff00"/>
<rect x="413.7" y="182.2" width="4.5" height="4.5" fill="#ff8000"/>
<rect x="333.2" y="147.2" width="4.5" height="4.5" fill="#ffff00"/>
<rect x="398.5" y="205.3" width="4.5" height="4.5" fill="#ffff00"/>
<rect x="408.8" y="200.0" width="4.5" height="4.5" fill="#ffff00"/>
<rect x="416.9" y="201.8" width="4.5" height="4.5" fill="#80ff80"/>
<rect x="432.3" y="189.7" width="4.5" height="4.5" fill="#ffff00"/>
<rect x="398.1" y="193.7" width="4.5" height="4.5" fill="#ffff00"/>
<rect x="317.2" y="112.6" width="4.5" height="4.5" fill="#ffff00"/>
<rect x="308.6" y="94.0" width="4.5" height="4.5" fill="#ffff00"/>
<rect x="333.0" y="165.2" width="4.5" height="4.5" fill="#80ff80"/>
<rect x="323.5" y="127.3" width="4.5" height="4.5" fill="#ffff00"/>
<rect x="318.6" y="99.2" width="4.5" height="4.5" fill="#ff8000"/>
<rect x="327.4" y="139.8" width="4.5" height="4.5" fill="#ffff00"/>
<rect x="412.5" y="212.6" width="4.5" height="4.5" fill="#80ff80"/>
<rect x="345.1" y="120.7" width="4.5" height="4.5" fill="#ff8000"/>
<rect x="404.7" y="194.5" width="4.5" height="4.5" fill="#ffff00"/>
<rect x="396.4" y="182.5" width="4.5" height="4.5" fill="#ffff00"/>
<rect x="374.0" y="187.1" width="4.5" height="4.5" fill="#80ff80"/>
<rect x="337.1" y="84.8" width="4.5" height="4.5" fill="#ff8000"/>
<rect x="368.7" y="129.1" width="4.5" height="4.5" fill="#ff8000"/>
<rect x="410.9" y="188.9" width="4.5" height="4.5" fill="#ff8000"/>
<rect x="382.7" y="189.3" width="4.5" height="4.5" fill="#ffff00"/>
<rect x="341.4" y="154.5" width="4.5" height="4.5" fill="#ffff00"/>
<rect x="351.2" y="148.3" width="4.5" height="4.5" fill="#ffff00"/>
<rect x="381.9" y="200.5" width="4.5" height="4.5" fill="#80ff80"/>
<rect x="422.1" y="217.6" width="4.5" height="4.5" fill="#ffff00"/>
<rect x="402.4" y="218.1" width="4.5" height="4.5" fill="#00ffff"/>
<rect x="383.4" y="195.6" width="4.5" height="4.5" fill="#80ff80"/>
<rect x="312.9" y="135.5" width="4.5" height="4.5" fill="#ffff00"/>
<rect x="404.4" y="216.6" width="4.5" height="4.5" fill="#00ffff"/>
<rect x="397.2" y="177.9" width="4.5" height="4.5" fill="#ffff00"/>
<rect x="375.7" y="169.6" width="4.5" height="4.5" fill="#ffff00"/>
<rect x="359.6" y="146.2" width="4.5" height="4.5" fill="#ff8000"/>
<rect x="383.2" y="171.2" width="4.5" height="4.5" fill="#ff8000"/>
<rect x="358.5" y="174.6" width="4.5" height="4.5" fill="#80ff80"/>
<rect x="385.0" y="170.7" width="4.5" height="4.5" fill="#ff8000"/>
<rect x="330.1" y="106.1" width="4.5" height="4.5" fill="#ff8000"/>
<rect x="350.2" y="80.0" width="4.5" height="4.5" fill="#ff8000"/>
<rect x="408.6" y="171.4" width="4.5" height="4.5" fill="#ff8000"/>
<rect x="379.2" y="168.3" width="4.5" height="4.5" fill="#ffff00"/>
<rect x="404.7" y="182.7" width="4.5" height="4.5" fill="#ff8000"/>
<rect x="378.0" y="170.9" width="4.5" height="4.5" fill="#ffff00"/>
<rect x="425.5" y="198.2" width="4.5" height="4.5" fill="#ff8000"/>
<rect x="385.2" y="177.0" width="4.5" height="4.5" fill="#ffff00"/>
<rect x="383.6" y="156.8" width="4.5" height="4.5" fill="#ff8000"/>
<rect x="378.6" y="197.8" width="4.5" height="4.5" fill="#80ff80"/>
<rect x="341.4" y="128.7" width="4.5" height="4.5" fill="#ff8000"/>
<rect x="361.4" y="148.6" width="4.5" height="4.5" fill="#ff8000"/>
<rect x="387.7" y="178.1" width="4.5" height="4.5" fill="#ffff00"/>
<rect x="400.2" y="165.8" width="4.5" height="4.5" fill="#ffff00"/>
<rect x="386.4" y="155.4" width="4.5" height="4.5" fill="#ffff00"/>
<rect x="391.4" y="182.2" width="4.5" height="4.5" fill="#ffff00"/>
<rect x="420.6" y="204.9" width="4.5" height="4.5" fill="#ffff00"/>
<rect x="381.3" y="187.9" width="4.5" height="4.5" fill="#ffff00"/>
<rect x="418.9" y="207.3" width="4.5" height="4.5" fill="#ffff00"/>
<rect x="346.4" y="145.4" width="4.5" height="4.5" fill="#ffff00"/>
<rect x="366.8" y="150.0" width="4.5" height="4.5" fill="#ff8000"/>
<rect x="409.8" y="212.8" width="4.5" height="4.5" fill="#80ff80"/>
<rect x="399.6" y="161.1" width="4.5" height="4.5" fill="#ff8000"/>
<rect x="360.7" y="162.7" width="4.5" height="4.5" fill="#ffff00"/>
<rect x="393.5" y="196.6" width="4.5" height="4.5" fill="#ff8000"/>
<rect x="391.9" y="172.4" width="4.5" height="4.5" fill="#ffff00"/>
<rect x="388.1" y="170.7" width="4.5" height="4.5" fill="#ff8000"/>
<rect x="323.9" y="73.0" width="4.5" height="4.5" fill="#ff8000"/>
<rect x="362.0" y="172.9" width="4.5" height="4.5" fill="#ffff00"/>
<rect x="400.3" y="217.1" width="4.5" height="4.5" fill="#80ff80"/>
<rect x="377.5" y="193.0" width="4.5" height="4.5" fill="#ffff00"/>
<rect x="378.4" y="199.3" width="4.5" height="4.5" fill="#00ffff"/>
<rect x="406.9" y="219.0" width="4.5" height="4.5" fill="#00ffff"/>
<rect x="413.0" y="222.8" width="4.5" height="4.5" fill="#ffff00"/>
<rect x="413.8" y="210.8" width="4.5" height="4.5" fill="#80ff80"/>
<rect x="386.1" y="150.3" width="4.5" height="4.5" fill="#ff8000"/>
<rect x="386.5" y="188.2" width="4.5" height="4.5" fill="#ffff00"/>
<rect x="424.4" y="199.0" width="4.5" height="4.5" fill="#ff8000"/>
<rect x="393.1" y="212.2" width="4.5" height="4.5" fill="#00ffff"/>
<rect x="333.1" y="73.7" width="4.5" height="4.5" fill="#ff8000"/>
<rect x="357.2" y="179.9" width="4.5" height="4.5" fill="#ffff00"/>
<rect x="362.1" y="115.2" width="4.5" height="4.5" fill="#ff8000"/>
<rect x="441.1" y="227.2" width="4.5" height="4.5" fill="#80ff80"/>
<rect x="375.4" y="185.5" width="4.5" height="4.5" fill="#80ff80"/>
<rect x="404.7" y="176.7" width="4.5" height="4.5" fill="#ff8000"/>
<rect x="399.8" y="175.8" width="4.5" height="4.5" fill="#ff8000"/>
<rect x="386.5" y="176.3" width="4.5" height="4.5" fill="#ff8000"/>
<rect x="410.7" y="194.7" width="4.5" height="4.5" fill="#ff8000"/>
<rect x="352.4" y="162.1" width="4.5" height="4.5" fill="#ffff00"/>
<rect x="362.4" y="175.7" width="4.5" height="4.5" fill="#80ff80"/>
<rect x="371.0" y="180.6" width="4.5" height="4.5" fill="#80ff80"/>
<rect x="338.4" y="75.5" width="4.5" height="4.5" fill="#ff8000"/>
<rect x="365.0" y="139.1" width="4.5" height="4.5" fill="#ff8000"/>
<rect x="387.1" y="152.5" width="4.5" height="4.5" fill="#ff8000"/>
<rect x="407.6" y="198.1" width="4.5" height="4.5" fill="#ffff00"/>
<rect x="375.0" y="160.8" width="4.5" height="4.5" fill="#ff8000"/>
<rect x="380.1" y="209.0" width="4.5" height="4.5" fill="#80ff80"/>
<rect x="347.0" y="156.4" width="4.5" height="4.5" fill="#ffff00"/>
<rect x="397.0" y="188.5" width="4.5" height="4.5" fill="#ffff00"/>
<rect x="343.0" y="154.8" width="4.5" height="4.5" fill="#ffff00"/>
<rect x="335.8" y="88.8" width="4.5" height="4.5" fill="#ff8000"/>
<rect x="368.8" y="136.0" width="4.5" height="4.5" fill="#ff8000"/>
<rect x="374.7" y="142.0" width="4.5" height="4.5" fill="#ff8000"/>
<rect x="396.2" y="185.8" width="4.5" height="4.5" fill="#ffff00"/>
<rect x="390.6" y="209.4" width="4.5" height="4.5" fill="#80ff80"/>
<rect x="366.5" y="158.2" width="4.5" height="4.5" fill="#ffff00"/>
<rect x="361.2" y="139.8" width="4.5" height="4.5" fill="#ff8000"/>
<rect x="393.9" y="194.6" width="4.5" height="4.5" fill="#ffff00"/>
<rect x="379.5" y="149.3" width="4.5" height="4.5" fill="#ff8000"/>
<rect x="419.5" y="205.9" width="4.5" height="4.5" fill="#80ff80"/>
<rect x="346.1" y="116.2" width="4.5" height="4.5" fill="#ff8000"/>
<rect x="390.6" y="162.8" width="4.5" height="4.5" fill="#ff8000"/>
<rect x="413.6" y="212.4" width="4.5" height="4.5" fill="#80ff80"/>
<rect x="396.3" y="190.7" width="4.5" height="4.5" fill="#ffff00"/>
<rect x="325.5" y="153.7" width="4.5" height="4.5" fill="#80ff80"/>
<rect x="354.6" y="190.6" width="4.5" height="4.5" fill="#80ff80"/>
<rect x="461.9" y="224.8" width="4.5" height="4.5" fill="#80ff80"/>
<rect x="389.9" y="219.9" width="4.5" height="4.5" fill="#00ffff"/>
<rect x="416.6" y="215.8" width="4.5" height="4.5" fill="#ffff00"/>
<rect x="370.5" y="178.3" width="4.5" height="4.5" fill="#ffff00"/>
<rect x="378.1" y="156.7" width="4.5" height="4.5" fill="#ff8000"/>
<rect x="392.6" y="175.6" width="4.5" height="4.5" fill="#ff8000"/>
<rect x="353.0" y="121.9" width="4.5" height="4.5" fill="#ff8000"/>
<rect x="395.8" y="177.6" width="4.5" height="4.5" fill="#ffff00"/>
<rect x="373.2" y="116.1" width="4.5" height="4.5" fill="#ff8000"/>
<rect x="390.9" y="202.8" width="4.5" height="4.5" fill="#80ff80"/>
<rect x="325.9" y="69.0" width="4.5" height="4.5" fill="#ff8000"/>
<rect x="348.6" y="106.3" width="4.5" height="4.5" fill="#ff8000"/>
<rect x="318.6" y="66.3" width="4.5" height="4.5" fill="#ff8000"/>
<rect x="430.8" y="207.9" width="4.5" height="4.5" fill="#80ff80"/>
<rect x="389.7" y="206.6" width="4.5" height="4.5" fill="#80ff80"/>
<rect x="338.1" y="139.9" width="4.5" height="4.5" fill="#ffff00"/>
<rect x="428.9" y="216.4" width="4.5" height="4.5" fill="#ffff00"/>
<rect x="455.9" y="232.9" width="4.5" height="4.5" fill="#80ff80"/>
<rect x="343.7" y="97.4" width="4.5" height="4.5" fill="#ff8000"/>
<rect x="355.6" y="118.1" width="4.5" height="4.5" fill="#ff8000"/>
<rect x="375.4" y="157.4" width="4.5" height="4.5" fill="#ff8000"/>
<rect x="378.1" y="196.9" width="4.5" height="4.5" fill="#80ff80"/>
<rect x="392.1" y="205.5" width="4.5" height="4.5" fill="#80ff80"/>
<rect x="358.7" y="195.6" width="4.5" height="4.5" fill="#00ffff"/>
<rect x="404.4" y="214.6" width="4.5" height="4.5" fill="#00ffff"/>
<rect x="413.5" y="217.5" width="4.5" height="4.5" fill="#80ff80"/>
<rect x="395.8" y="173.0" width="4.5" height="4.5" fill="#ff8000"/>
<rect x="434.6" y="233.4" width="4.5" height="4.5" fill="#ffff00"/>
<rect x="412.7" y="180.7" width="4.5" height="4.5" fill="#ffff00"/>
<rect x="427.2" y="223.9" width="4.5" height="4.5" fill="#ffff00"/>
<rect x="381.1" y="158.7" width="4.5" height="4.5" fill="#ff8000"/>
<rect x="354.2" y="194.0" width="4.5" height="4.5" fill="#80ff80"/>
<rect x="378.2" y="157.7" width="4.5" height="4.5" fill="#ff8000"/>
<rect x="447.3" y="208.9" width="4.5" height="4.5" fill="#ff8000"/>
<rect x="322.1" y="125.2" width="4.5" height="4.5" fill="#ffff00"/>
<rect x="375.0" y="191.5" width="4.5" height="4.5" fill="#80ff80"/>
<rect x="370.4" y="146.6" width="4.5" height="4.5" fill="#ff8000"/>
<rect x="385.9" y="206.4" width="4.5" height="4.5" fill="#80ff80"/>
<rect x="334.0" y="177.4" width="4.5" height="4.5" fill="#80ff80"/>
<rect x="464.8" y="223.7" width="4.5" height="4.5" fill="#0080ff"/>
<rect x="438.5" y="206.0" width="4.5" height="4.5" fill="#ff8000"/>
<rect x="424.6" y="207.9" width="4.5" height="4.5" fill="#80ff80"/>
<rect x="377.1" y="145.1" width="4.5" height="4.5" fill="#ff8000"/>
<rect x="453.0" y="227.6" width="4.5" height="4.5" fill="#ffff00"/>
<rect x="419.0" y="193.7" width="4.5" height="4.5" fill="#ff8000"/>
<rect x="394.9" y="202.7" width="4.5" height="4.5" fill="#ffff00"/>
<rect x="334.8" y="200.8" width="4.5" height="4.5" fill="#ff8000"/>
<rect x="358.8" y="158.7" width="4.5" height="4.5" fill="#ffff00"/>
<rect x="439.8" y="224.8" width="4.5" height="4.5" fill="#80ff80"/>
<rect x="356.6" y="160.2" width="4.5" height="4.5" fill="#ffff00"/>
<rect x="444.4" y="217.4" width="4.5" height="4.5" fill="#80ff80"/>
<rect x="322.3" y="112.9" width="4.5" height="4.5" fill="#ff8000"/>
<rect x="368.2" y="182.6" width="4.5" height="4.5" fill="#ffff00"/>
<rect x="393.2" y="165.7" width="4.5" height="4.5" fill="#ffff00"/>
<rect x="370.3" y="166.0" width="4.5" height="4.5" fill="#ffff00"/>
<rect x="339.8" y="118.9" width="4.5" height="4.5" fill="#ff8000"/>
<rect x="405.1" y="179.7" width="4.5" height="4.5" fill="#ff8000"/>
<rect x="399.0" y="196.2" width="4.5" height="4.5" fill="#80ff80"/>
<rect x="364.6" y="146.2" width="4.5" height="4.5" fill="#ff8000"/>
<rect x="348.8" y="198.3" width="4.5" height="4.5" fill="#00ffff"/>
<rect x="388.8" y="168.4" width="4.5" height="4.5" fill="#ff8000"/>
<rect x="335.4" y="98.3" width="4.5" height="4.5" fill="#ff8000"/>
<rect x="470.2" y="210.2" width="4.5" height="4.5" fill="#ff8000"/>
<rect x="433.4" y="167.7" width="4.5" height="4.5" fill="#ff8000"/>
<rect x="368.1" y="180.8" width="4.5" height="4.5" fill="#ffff00"/>
<rect x="368.6" y="191.3" width="4.5" height="4.5" fill="#ffff00"/>
<rect x="428.3" y="222.2" width="4.5" height="4.5" fill="#00ffff"/>
<rect x="307.5" y="147.5" width="4.5" height="4.5" fill="#ffff00"/>
<rect x="367.4" y="69.0" width="4.5" height="4.5" fill="#ff8000"/>
<rect x="357.2" y="168.0" width="4.5" height="4.5" fill="#ffff00"/>
<rect x="325.3" y="123.5" width="4.5" height="4.5" fill="#ffff00"/>
<rect x="359.4" y="108.5" width="4.5" height="4.5" fill="#ff8000"/>
<rect x="398.0" y="185.8" width="4.5" height="4.5" fill="#ff8000"/>
<rect x="335.0" y="96.9" width="4.5" height="4.5" fill="#ff8000"/>
<rect x="312.2" y="100.8" width="4.5" height="4.5" fill="#ff8000"/>
<rect x="398.7" y="212.5" width="4.5" height="4.5" fill="#00ffff"/>
<rect x="444.7" y="226.4" width="4.5" height="4.5" fill="#00ffff"/>
<rect x="385.2" y="152.8" width="4.5" height="4.5" fill="#ff8000"/>
<rect x="417.5" y="221.9" width="4.5" height="4.5" fill="#00ffff"/>
<rect x="431.8" y="215.9" width="4.5" height="4.5" fill="#ffff00"/>
<rect x="332.9" y="147.7" width="4.5" height="4.5" fill="#ffff00"/>
<rect x="405.7" y="213.9" width="4.5" height="4.5" fill="#80ff80"/>
<rect x="370.2" y="161.3" width="4.5" height="4.5" fill="#ffff00"/>
<rect x="408.2" y="217.0" width="4.5" height="4.5" fill="#00ffff"/>
<rect x="346.1" y="106.7" width="4.5" height="4.5" fill="#ff8000"/>
<rect x="406.1" y="225.7" width="4.5" height="4.5" fill="#80ff80"/>
<rect x="353.6" y="142.5" width="4.5" height="4.5" fill="#ffff00"/>
<rect x="396.2" y="195.2" width="4.5" height="4.5" fill="#ffff00"/>
<rect x="329.1" y="95.3" width="4.5" height="4.5" fill="#ff8000"/>
<rect x="436.1" y="215.1" width="4.5" height="4.5" fill="#ffff00"/>
<rect x="407.2" y="207.9" width="4.5" height="4.5" fill="#80ff80"/>
<rect x="414.6" y="219.1" width="4.5" height="4.5" fill="#80ff80"/>
<rect x="319.4" y="187.8" width="4.5" height="4.5" fill="#80ff80"/>
<rect x="381.8" y="206.9" width="4.5" height="4.5" fill="#00ffff"/>
<rect x="371.0" y="129.3" width="4.5" height="4.5" fill="#ff8000"/>
<rect x="339.5" y="177.3" width="4.5" height="4.5" fill="#80ff80"/>
<rect x="454.6" y="231.2" width="4.5" height="4.5" fill="#80ff80"/>
<rect x="380.3" y="163.9" width="4.5" height="4.5" fill="#ff8000"/>
<rect x="385.1" y="186.8" width="4.5" height="4.5" fill="#ffff00"/>
<rect x="387.2" y="216.1" width="4.5" height="4.5" fill="#ff8000"/>
<rect x="422.7" y="217.6" width="4.5" height="4.5" fill="#00ffff"/>
<rect x="309.1" y="129.7" width="4.5" height="4.5" fill="#ffff00"/>
<rect x="310.7" y="99.2" width="4.5" height="4.5" fill="#ff8000"/>
<rect x="411.9" y="189.9" width="4.5" height="4.5" fill="#ffff00"/>
<rect x="383.8" y="174.2" width="4.5" height="4.5" fill="#ffff00"/>
<rect x="346.9" y="181.8" width="4.5" height="4.5" fill="#80ff80"/>
<rect x="445.1" y="202.1" width="4.5" height="4.5" fill="#ffff00"/>
<rect x="382.1" y="178.7" width="4.5" height="4.5" fill="#ffff00"/>
<rect x="369.1" y="145.8" width="4.5" height="4.5" fill="#ff8000"/>
<rect x="401.9" y="180.0" width="4.5" height="4.5" fill="#ff8000"/>
<rect x="427.0" y="219.1" width="4.5" height="4.5" fill="#80ff80"/>
<rect x="359.7" y="199.3" width="4.5" height="4.5" fill="#ffff00"/>
<rect x="425.7" y="186.2" width="4.5" height="4.5" fill="#ffff00"/>
<rect x="385.2" y="140.4" width="4.5" height="4.5" fill="#ff8000"/>
<rect x="414.8" y="216.3" width="4.5" height="4.5" fill="#80ff80"/>
<rect x="364.9" y="165.1" width="4.5" height="4.5" fill="#ffff00"/>
<rect x="329.3" y="148.0" width="4.5" height="4.5" fill="#ffff00"/>
<rect x="425.9" y="213.7" width="4.5" height="4.5" fill="#80ff80"/>
<rect x="344.5" y="131.4" width="4.5" height="4.5" fill="#ffff00"/>
<rect x="381.6" y="205.5" width="4.5" height="4.5" fill="#80ff80"/>
<rect x="412.6" y="184.0" width="4.5" height="4.5" fill="#ff8000"/>
<rect x="388.0" y="186.7" width="4.5" height="4.5" fill="#ffff00"/>
<rect x="437.4" y="201.9" width="4.5" height="4.5" fill="#80ff80"/>
<rect x="318.8" y="129.5" width="4.5" height="4.5" fill="#ffff00"/>
<rect x="382.2" y="167.2" width="4.5" height="4.5" fill="#ff8000"/>
<rect x="341.1" y="170.8" width="4.5" height="4.5" fill="#80ff80"/>
<rect x="390.1" y="216.4" width="4.5" height="4.5" fill="#00ffff"/>
<rect x="315.2" y="87.8" width="4.5" height="4.5" fill="#ff8000"/>
<rect x="318.2" y="141.3" width="4.5" height="4.5" fill="#ffff00"/>
<rect x="334.4" y="82.2" width="4.5" height="4.5" fill="#ff8000"/>
<rect x="379.8" y="172.4" width="4.5" height="4.5" fill="#ffff00"/>
<rect x="381.4" y="165.4" width="4.5" height="4.5" fill="#ffff00"/>
<rect x="451.6" y="198.7" width="4.5" height="4.5" fill="#ff8000"/>
<rect x="344.9" y="100.7" width="4.5" height="4.5" fill="#ff8000"/>
<rect x="450.3" y="222.1" width="4.5" height="4.5" fill="#80ff80"/>
<rect x="381.7" y="138.0" width="4.5" height="4.5" fill="#ff8000"/>
<rect x="362.9" y="143.7" width="4.5" height="4.5" fill="#ff8000"/>
<rect x="382.4" y="182.9" width="4.5" height="4.5" fill="#ffff00"/>
<rect x="412.4" y="189.3" width="4.5" height="4.5" fill="#ffff00"/>
<rect x="355.7" y="168.0" width="4.5" height="4.5" fill="#ffff00"/>
<rect x="321.2" y="96.7" width="4.5" height="4.5" fill="#ff8000"/>
<rect x="386.0" y="183.6" width="4.5" height="4.5" fill="#ffff00"/>
<rect x="393.5" y="191.5" width="4.5" height="4.5" fill="#ffff00"/>
<rect x="313.4" y="103.2" width="4.5" height="4.5" fill="#ff8000"/>
<rect x="397.4" y="205.4" width="4.5" height="4.5" fill="#80ff80"/>
<rect x="425.2" y="212.5" width="4.5" height="4.5" fill="#ff8000"/>
<rect x="326.2" y="96.9" width="4.5" height="4.5" fill="#ff8000"/>
<rect x="381.1" y="157.5" width="4.5" height="4.5" fill="#ff8000"/>
<rect x="370.7" y="204.5" width="4.5" height="4.5" fill="#80ff80"/>
<rect x="374.9" y="202.8" width="4.5" height="4.5" fill="#80ff80"/>
<rect x="385.1" y="180.3" width="4.5" height="4.5" fill="#ffff00"/>
<rect x="401.0" y="173.1" width="4.5" height="4.5" fill="#ff8000"/>
<rect x="345.1" y="109.3" width="4.5" height="4.5" fill="#ff8000"/>
<rect x="377.5" y="166.5" width="4.5" height="4.5" fill="#ffff00"/>
<rect x="339.1" y="146.7" width="4.5" height="4.5" fill="#ff8000"/>
<rect x="422.9" y="190.8" width="4.5" height="4.5" fill="#ff8000"/>
<rect x="413.2" y="223.3" width="4.5" height="4.5" fill="#00ffff"/>
<rect x="334.7" y="99.8" width="4.5" height="4.5" fill="#ff8000"/>
<rect x="433.5" y="221.5" width="4.5" height="4.5" fill="#80ff80"/>
<rect x="364.8" y="111.2" width="4.5" height="4.5" fill="#ff8000"/>
<rect x="412.4" y="165.5" width="4.5" height="4.5" fill="#ffff00"/>
<rect x="396.3" y="193.4" width="4.5" height="4.5" fill="#ffff00"/>
<rect x="365.3" y="211.7" width="4.5" height="4.5" fill="#00ffff"/>
<rect x="353.9" y="141.1" width="4.5" height="4.5" fill="#ff8000"/>
<rect x="385.0" y="166.1" width="4.5" height="4.5" fill="#ff8000"/>
<rect x="331.0" y="110.6" width="4.5" height="4.5" fill="#ff8000"/>
<rect x="381.8" y="168.0" width="4.5" height="4.5" fill="#ffff00"/>
<rect x="401.3" y="216.9" width="4.5" height="4.5" fill="#00ffff"/>
<rect x="420.9" y="213.9" width="4.5" height="4.5" fill="#00ffff"/>
<rect x="397.8" y="187.1" width="4.5" height="4.5" fill="#ffff00"/>
<rect x="379.4" y="200.8" width="4.5" height="4.5" fill="#80ff80"/>
<rect x="424.3" y="172.9" width="4.5" height="4.5" fill="#ffff00"/>
<rect x="358.9" y="156.2" width="4.5" height="4.5" fill="#ffff00"/>
<rect x="336.3" y="157.0" width="4.5" height="4.5" fill="#ffff00"/>
<rect x="409.4" y="220.4" width="4.5" height="4.5" fill="#00ffff"/>
<rect x="344.7" y="143.3" width="4.5" height="4.5" fill="#ffff00"/>
<rect x="373.6" y="188.8" width="4.5" height="4.5" fill="#80ff80"/>
<rect x="410.4" y="199.2" width="4.5" height="4.5" fill="#ffff00"/>
<rect x="378.0" y="186.0" width="4.5" height="4.5" fill="#ffff00"/>
<rect x="448.4" y="225.7" width="4.5" height="4.5" fill="#ff8000"/>
<rect x="388.7" y="208.2" width="4.5" height="4.5" fill="#00ffff"/>
<rect x="352.0" y="149.2" width="4.5" height="4.5" fill="#ffff00"/>
<rect x="417.3" y="217.6" width="4.5" height="4.5" fill="#80ff80"/>
<rect x="339.6" y="111.6" width="4.5" height="4.5" fill="#ff8000"/>
<rect x="433.8" y="189.4" width="4.5" height="4.5" fill="#ffff00"/>
<rect x="403.3" y="207.6" width="4.5" height="4.5" fill="#80ff80"/>
<rect x="352.3" y="173.5" width="4.5" height="4.5" fill="#ffff00"/>
<rect x="432.6" y="199.7" width="4.5" height="4.5" fill="#ff8000"/>
<rect x="346.8" y="132.8" width="4.5" height="4.5" fill="#ff8000"/>
<rect x="415.8" y="198.8" width="4.5" height="4.5" fill="#80ff80"/>
<rect x="435.3" y="187.5" width="4.5" height="4.5" fill="#ff8000"/>
<rect x="350.0" y="135.5" width="4.5" height="4.5" fill="#ff8000"/>
<rect x="319.0" y="121.0" width="4.5" height="4.5" fill="#ff8000"/>
<rect x="414.8" y="201.0" width="4.5" height="4.5" fill="#ff8000"/>
<rect x="470.2" y="203.2" width="4.5" height="4.5" fill="#ff8000"/>
<rect x="406.8" y="173.2" width="4.5" height="4.5" fill="#ff8000"/>
<rect x="358.3" y="182.8" width="4.5" height="4.5" fill="#80ff80"/>
<rect x="402.0" y="216.1" width="4.5" height="4.5" fill="#00ffff"/>
<rect x="362.7" y="180.8" width="4.5" height="4.5" fill="#ffff00"/>
<rect x="403.3" y="214.2" width="4.5" height="4.5" fill="#00ffff"/>
<rect x="357.5" y="131.4" width="4.5" height="4.5" fill="#ff8000"/>
<rect x="470.2" y="221.8" width="4.5" height="4.5" fill="#00ffff"/>
<rect x="377.3" y="164.5" width="4.5" height="4.5" fill="#ffff00"/>
<rect x="402.3" y="199.9" width="4.5" height="4.5" fill="#ffff00"/>
<rect x="371.9" y="185.5" width="4.5" height="4.5" fill="#80ff80"/>
<rect x="355.6" y="133.6" width="4.5" height="4.5" fill="#ff8000"/>
<rect x="381.9" y="179.6" width="4.5" height="4.5" fill="#ffff00"/>
<rect x="358.8" y="157.5" width="4.5" height="4.5" fill="#ffff00"/>
<rect x="329.1" y="158.1" width="4.5" height="4.5" fill="#80ff80"/>
<rect x="352.0" y="185.2" width="4.5" height="4.5" fill="#80ff80"/>
<rect x="368.6" y="155.9" width="4.5" height="4.5" fill="#ffff00"/>
<rect x="315.2" y="99.8" width="4.5" height="4.5" fill="#ffff00"/>
<rect x="324.4" y="126.6" width="4.5" height="4.5" fill="#ffff00"/>
<rect x="369.3" y="170.4" width="4.5" height="4.5" fill="#ffff00"/>
<rect x="417.6" y="219.2" width="4.5" height="4.5" fill="#80ff80"/>
<rect x="337.1" y="61.0" width="4.5" height="4.5" fill="#ff8000"/>
<rect x="396.8" y="174.7" width="4.5" height="4.5" fill="#ff8000"/>
<rect x="405.4" y="172.4" width="4.5" height="4.5" fill="#ffff00"/>
<rect x="355.2" y="136.9" width="4.5" height="4.5" fill="#ff8000"/>
<rect x="325.6" y="128.5" width="4.5" height="4.5" fill="#ffff00"/>
<rect x="435.7" y="209.5" width="4.5" height="4.5" fill="#ff8000"/>
<rect x="414.5" y="193.3" width="4.5" height="4.5" fill="#ffff00"/>
<rect x="318.0" y="142.9" width="4.5" height="4.5" fill="#ffff00"/>
<rect x="400.0" y="161.1" width="4.5" height="4.5" fill="#ff8000"/>
<rect x="382.5" y="201.8" width="4.5" height="4.5" fill="#00ffff"/>
<rect x="421.2" y="223.7" width="4.5" height="4.5" fill="#00ffff"/>
<rect x="376.0" y="141.5" width="4.5" height="4.5" fill="#ff8000"/>
<rect x="337.9" y="145.4" width="4.5" height="4.5" fill="#ffff00"/>
<rect x="365.1" y="150.4" width="4.5" height="4.5" fill="#ff8000"/>
<rect x="394.2" y="233.4" width="4.5" height="4.5" fill="#80ff80"/>
<rect x="348.9" y="128.7" width="4.5" height="4.5" fill="#ff8000"/>
<rect x="394.1" y="164.1" width="4.5" height="4.5" fill="#ff8000"/>
<rect x="342.4" y="108.5" width="4.5" height="4.5" fill="#ff8000"/>
<rect x="355.8" y="156.9" width="4.5" height="4.5" fill="#ffff00"/>
<rect x="444.5" y="217.7" width="4.5" height="4.5" fill="#80ff80"/>
<rect x="367.6" y="119.7" width="4.5" height="4.5" fill="#ff8000"/>
<rect x="393.8" y="189.8" width="4.5" height="4.5" fill="#80ff80"/>
<rect x="331.6" y="140.8" width="4.5" height="4.5" fill="#ffff00"/>
<rect x="373.3" y="139.3" width="4.5" height="4.5" fill="#ff8000"/>
<rect x="380.2" y="174.8" width="4.5" height="4.5" fill="#ffff00"/>
<rect x="368.9" y="124.9" width="4.5" height="4.5" fill="#ff8000"/>
<rect x="396.0" y="181.6" width="4.5" height="4.5" fill="#ffff00"/>
<rect x="440.7" y="219.2" width="4.5" height="4.5" fill="#ffff00"/>
<rect x="405.1" y="220.9" width="4.5" height="4.5" fill="#00ffff"/>
<rect x="319.2" y="131.5" width="4.5" height="4.5" fill="#ffff00"/>
<rect x="399.6" y="182.3" width="4.5" height="4.5" fill="#ff8000"/>
<rect x="362.9" y="205.1" width="4.5" height="4.5" fill="#ffff00"/>
<rect x="325.1" y="98.9" width="4.5" height="4.5" fill="#ff8000"/>
<rect x="394.9" y="161.3" width="4.5" height="4.5" fill="#ff8000"/>
<rect x="397.8" y="175.3" width="4.5" height="4.5" fill="#ff8000"/>
<rect x="387.3" y="179.6" width="4.5" height="4.5" fill="#ffff00"/>
<rect x="391.3" y="171.2" width="4.5" height="4.5" fill="#ff8000"/>
<rect x="397.7" y="215.7" width="4.5" height="4.5" fill="#00ffff"/>
<rect x="361.6" y="219.2" width="4.5" height="4.5" fill="#80ff80"/>
<rect x="401.2" y="183.5" width="4.5" height="4.5" fill="#ff8000"/>
<rect x="342.9" y="167.8" width="4.5" height="4.5" fill="#ffff00"/>
<rect x="372.9" y="202.4" width="4.5" height="4.5" fill="#80ff80"/>
<rect x="396.1" y="172.9" width="4.5" height="4.5" fill="#ff8000"/>
<rect x="319.3" y="131.4" width="4.5" height="4.5" fill="#ffff00"/>
<rect x="381.4" y="151.6" width="4.5" height="4.5" fill="#ff8000"/>
<rect x="408.6" y="200.5" width="4.5" height="4.5" fill="#ffff00"/>
<rect x="431.4" y="219.8" width="4.5" height="4.5" fill="#00ffff"/>
<rect x="320.3" y="94.5" width="4.5" height="4.5" fill="#ff8000"/>
<rect x="371.4" y="194.6" width="4.5" height="4.5" fill="#80ff80"/>
<rect x="420.5" y="199.7" width="4.5" height="4.5" fill="#80ff80"/>
<rect x="379.2" y="167.9" width="4.5" height="4.5" fill="#ffff00"/>
<rect x="364.3" y="160.8" width="4.5" height="4.5" fill="#ff8000"/>
<rect x="351.4" y="68.6" width="4.5" height="4.5" fill="#ff8000"/>
<rect x="393.9" y="208.8" width="4.5" height="4.5" fill="#80ff80"/>
<rect x="359.7" y="162.0" width="4.5" height="4.5" fill="#ffff00"/>
<rect x="427.9" y="210.9" width="4.5" height="4.5" fill="#ffff00"/>
<rect x="372.5" y="208.1" width="4.5" height="4.5" fill="#00ffff"/>
<rect x="398.6" y="184.5" width="4.5" height="4.5" fill="#ff8000"/>
<rect x="401.4" y="172.4" width="4.5" height="4.5" fill="#ff8000"/>
<rect x="405.1" y="196.5" width="4.5" height="4.5" fill="#ffff00"/>
<rect x="376.6" y="176.2" width="4.5" height="4.5" fill="#ffff00"/>
<rect x="308.5" y="109.5" width="4.5" height="4.5" fill="#ffff00"/>
<rect x="408.4" y="197.1" width="4.5" height="4.5" fill="#ff8000"/>
<rect x="356.9" y="151.6" width="4.5" height="4.5" fill="#ffff00"/>
<rect x="365.6" y="126.7" width="4.5" height="4.5" fill="#ff8000"/>
<rect x="391.1" y="206.6" width="4.5" height="4.5" fill="#80ff80"/>
<rect x="384.0" y="170.3" width="4.5" height="4.5" fill="#ffff00"/>
<rect x="351.4" y="146.3" width="4.5" height="4.5" fill="#ffff00"/>
<rect x="347.0" y="176.3" width="4.5" height="4.5" fill="#80ff80"/>
<rect x="451.2" y="222.0" width="4.5" height="4.5" fill="#ff8000"/>
<rect x="336.8" y="145.9" width="4.5" height="4.5" fill="#ffff00"/>
<rect x="382.3" y="210.5" width="4.5" height="4.5" fill="#80ff80"/>
<rect x="368.9" y="148.7" width="4.5" height="4.5" fill="#ff8000"/>
<rect x="345.5" y="143.8" width="4.5" height="4.5" fill="#ffff00"/>
<rect x="417.8" y="196.8" width="4.5" height="4.5" fill="#ffff00"/>
<rect x="377.9" y="183.7" width="4.5" height="4.5" fill="#ffff00"/>
<rect x="382.2" y="212.8" width="4.5" height="4.5" fill="#00ffff"/>
<rect x="310.2" y="130.4" width="4.5" height="4.5" fill="#ffff00"/>
<rect x="396.7" y="157.7" width="4.5" height="4.5" fill="#ff8000"/>
<rect x="352.3" y="133.1" width="4.5" height="4.5" fill="#ff8000"/>
<rect x="371.0" y="170.9" width="4.5" height="4.5" fill="#ffff00"/>
<rect x="314.8" y="144.0" width="4.5" height="4.5" fill="#ffff00"/>
<rect x="375.9" y="164.9" width="4.5" height="4.5" fill="#ffff00"/>
<rect x="376.9" y="156.6" width="4.5" height="4.5" fill="#ff8000"/>
<rect x="390.7" y="173.2" width="4.5" height="4.5" fill="#ff8000"/>
<rect x="361.9" y="176.7" width="4.5" height="4.5" fill="#ffff00"/>
<rect x="415.2" y="205.4" width="4.5" height="4.5" fill="#ff8000"/>
<rect x="348.4" y="171.1" width="4.5" height="4.5" fill="#ffff00"/>
<rect x="328.8" y="137.6" width="4.5" height="4.5" fill="#ffff00"/>
<rect x="357.0" y="167.1" width="4.5" height="4.5" fill="#ffff00"/>
<rect x="426.5" y="192.1" width="4.5" height="4.5" fill="#ff8000"/>
<rect x="348.7" y="161.1" width="4.5" height="4.5" fill="#ffff00"/>
<rect x="360.2" y="157.2" width="4.5" height="4.5" fill="#ffff00"/>
<rect x="397.1" y="217.7" width="4.5" height="4.5" fill="#0080ff"/>
<rect x="470.2" y="229.9" width="4.5" height="4.5" fill="#80ff80"/>
<rect x="389.7" y="210.3" width="4.5" height="4.5" fill="#00ffff"/>
<rect x="401.8" y="176.3" width="4.5" height="4.5" fill="#ffff00"/>
<rect x="345.1" y="230.4" width="4.5" height="4.5" fill="#ffff00"/>
<rect x="414.9" y="226.9" width="4.5" height="4.5" fill="#ff8000"/>
<rect x="407.2" y="208.1" width="4.5" height="4.5" fill="#80ff80"/>
<rect x="369.3" y="169.9" width="4.5" height="4.5" fill="#ffff00"/>
<rect x="373.1" y="198.6" width="4.5" height="4.5" fill="#80ff80"/>
<rect x="343.6" y="104.5" width="4.5" height="4.5" fill="#ff8000"/>
<rect x="422.2" y="171.3" width="4.5" height="4.5" fill="#ff8000"/>
<rect x="341.6" y="163.6" width="4.5" height="4.5" fill="#ffff00"/>
<rect x="422.9" y="201.6" width="4.5" height="4.5" fill="#ff8000"/>
<rect x="394.4" y="177.4" width="4.5" height="4.5" fill="#ffff00"/>
<rect x="326.1" y="132.5" width="4.5" height="4.5" fill="#ffff00"/>
<rect x="377.1" y="204.8" width="4.5" height="4.5" fill="#80ff80"/>
<rect x="391.6" y="176.6" width="4.5" height="4.5" fill="#ff8000"/>
<rect x="414.1" y="213.3" width="4.5" height="4.5" fill="#0080ff"/>
<rect x="352.9" y="84.8" width="4.5" height="4.5" fill="#ff8000"/>
<rect x="435.9" y="202.7" width="4.5" height="4.5" fill="#ffff00"/>
<rect x="334.6" y="138.0" width="4.5" height="4.5" fill="#ffff00"/>
<rect x="417.6" y="190.2" width="4.5" height="4.5" fill="#ffff00"/>
<rect x="397.8" y="206.3" width="4.5" height="4.5" fill="#00ffff"/>
<rect x="314.7" y="127.9" width="4.5" height="4.5" fill="#ffff00"/>
<rect x="470.2" y="228.8" width="4.5" height="4.5" fill="#ffff00"/>
<rect x="365.9" y="143.2" width="4.5" height="4.5" fill="#ff8000"/>
<rect x="335.4" y="123.6" width="4.5" height="4.5" fill="#ff8000"/>
<rect x="378.3" y="177.1" width="4.5" height="4.5" fill="#ffff00"/>
<rect x="313.8" y="106.6" width="4.5" height="4.5" fill="#ff8000"/>
<rect x="446.4" y="209.5" width="4.5" height="4.5" fill="#ffff00"/>
<rect x="371.2" y="192.9" width="4.5" height="4.5" fill="#80ff80"/>
<rect x="404.0" y="218.8" width="4.5" height="4.5" fill="#00ffff"/>
<rect x="409.9" y="199.0" width="4.5" height="4.5" fill="#80ff80"/>
<rect x="401.4" y="182.3" width="4.5" height="4.5" fill="#ff8000"/>
<rect x="402.9" y="186.7" width="4.5" height="4.5" fill="#ffff00"/>
<rect x="391.0" y="162.8" width="4.5" height="4.5" fill="#ff8000"/>
<rect x="412.6" y="219.3" width="4.5" height="4.5" fill="#00ffff"/>
<rect x="400.0" y="185.5" width="4.5" height="4.5" fill="#ffff00"/>
<rect x="458.1" y="201.8" width="4.5" height="4.5" fill="#ff8000"/>
<rect x="469.1" y="216.6" width="4.5" height="4.5" fill="#80ff80"/>
<rect x="466.6" y="182.4" width="4.5" height="4.5" fill="#ff8000"/>
<rect x="329.6" y="118.0" width="4.5" height="4.5" fill="#ff8000"/>
<rect x="338.6" y="104.0" width="4.5" height="4.5" fill="#ff8000"/>
<rect x="332.0" y="155.4" width="4.5" height="4.5" fill="#ffff00"/>
<rect x="381.4" y="190.3" width="4.5" height="4.5" fill="#80ff80"/>
<rect x="327.4" y="136.1" width="4.5" height="4.5" fill="#ffff00"/>
<rect x="415.3" y="190.6" width="4.5" height="4.5" fill="#ffff00"/>
<rect x="313.6" y="116.6" width="4.5" height="4.5" fill="#ffff00"/>
<rect x="407.9" y="191.4" width="4.5" height="4.5" fill="#ffff00"/>
<rect x="366.3" y="166.2" width="4.5" height="4.5" fill="#ffff00"/>
<rect x="359.8" y="142.2" width="4.5" height="4.5" fill="#ffff00"/>
<rect x="342.4" y="163.1" width="4.5" height="4.5" fill="#ffff00"/>
<rect x="386.0" y="183.1" width="4.5" height="4.5" fill="#ffff00"/>
<rect x="404.6" y="194.3" width="4.5" height="4.5" fill="#ffff00"/>
<rect x="409.3" y="189.5" width="4.5" height="4.5" fill="#ffff00"/>
<rect x="407.8" y="222.6" width="4.5" height="4.5" fill="#00ffff"/>
<rect x="381.6" y="154.8" width="4.5" height="4.5" fill="#ffff00"/>
<rect x="317.8" y="109.5" width="4.5" height="4.5" fill="#ffff00"/>
<rect x="357.6" y="126.4" width="4.5" height="4.5" fill="#ff8000"/>
<rect x="348.3" y="131.9" width="4.5" height="4.5" fill="#ff8000"/>
<rect x="408.9" y="181.2" width="4.5" height="4.5" fill="#ff8000"/>
<rect x="374.1" y="166.9" width="4.5" height="4.5" fill="#ff8000"/>
<rect x="383.6" y="173.0" width="4.5" height="4.5" fill="#ff8000"/>
<rect x="399.4" y="217.4" width="4.5" height="4.5" fill="#00ffff"/>
<rect x="423.0" y="203.4" width="4.5" height="4.5" fill="#80ff80"/>
<rect x="371.4" y="203.0" width="4.5" height="4.5" fill="#80ff80"/>
<rect x="395.2" y="190.9" width="4.5" height="4.5" fill="#ffff00"/>
<rect x="423.0" y="218.1" width="4.5" height="4.5" fill="#0080ff"/>
<rect x="436.7" y="199.2" width="4.5" height="4.5" fill="#ff8000"/>
<rect x="452.8" y="210.1" width="4.5" height="4.5" fill="#ff8000"/>
<rect x="340.3" y="190.9" width="4.5" height="4.5" fill="#80ff80"/>
<rect x="408.9" y="187.5" width="4.5" height="4.5" fill="#ff8000"/>
<rect x="400.4" y="202.3" width="4.5" height="4.5" fill="#ff8000"/>
<rect x="432.4" y="202.3" width="4.5" height="4.5" fill="#ffff00"/>
<rect x="343.0" y="145.5" width="4.5" height="4.5" fill="#ffff00"/>
<rect x="342.0" y="131.5" width="4.5" height="4.5" fill="#ffff00"/>
<rect x="399.9" y="207.7" width="4.5" height="4.5" fill="#80ff80"/>
<rect x="344.6" y="118.7" width="4.5" height="4.5" fill="#ff8000"/>
<rect x="365.4" y="144.5" width="4.5" height="4.5" fill="#ffff00"/>
<rect x="372.1" y="132.1" width="4.5" height="4.5" fill="#ff8000"/>
<rect x="381.6" y="213.1" width="4.5" height="4.5" fill="#00ffff"/>
<rect x="395.2" y="215.8" width="4.5" height="4.5" fill="#00ffff"/>
<rect x="451.7" y="208.0" width="4.5" height="4.5" fill="#ff8000"/>
<rect x="382.8" y="164.7" width="4.5" height="4.5" fill="#ffff00"/>
<rect x="317.1" y="107.3" width="4.5" height="4.5" fill="#ffff00"/>
<rect x="374.6" y="198.7" width="4.5" height="4.5" fill="#80ff80"/>
<rect x="348.6" y="124.3" width="4.5" height="4.5" fill="#ff8000"/>
<rect x="311.5" y="108.9" width="4.5" height="4.5" fill="#ffff00"/>
<rect x="417.6" y="199.3" width="4.5" height="4.5" fill="#ffff00"/>
<rect x="416.7" y="206.0" width="4.5" height="4.5" fill="#ffff00"/>
<rect x="434.6" y="210.3" width="4.5" height="4.5" fill="#ffff00"/>
<rect x="355.0" y="169.2" width="4.5" height="4.5" fill="#ffff00"/>
<rect x="368.4" y="221.1" width="4.5" height="4.5" fill="#0080ff"/>
<rect x="423.7" y="181.9" width="4.5" height="4.5" fill="#ff8000"/>
<rect x="434.6" y="221.6" width="4.5" height="4.5" fill="#0080ff"/>
<rect x="435.0" y="219.7" width="4.5" height="4.5" fill="#80ff80"/>
<rect x="368.2" y="135.1" width="4.5" height="4.5" fill="#ff8000"/>
<rect x="323.3" y="153.1" width="4.5" height="4.5" fill="#ffff00"/>
<rect x="414.4" y="175.7" width="4.5" height="4.5" fill="#ff8000"/>
<rect x="385.2" y="203.4" width="4.5" height="4.5" fill="#00ffff"/>
<rect x="372.7" y="145.9" width="4.5" height="4.5" fill="#ff8000"/>
<rect x="437.4" y="194.0" width="4.5" height="4.5" fill="#ffff00"/>
<rect x="391.7" y="177.1" width="4.5" height="4.5" fill="#ff8000"/>
<rect x="354.2" y="95.3" width="4.5" height="4.5" fill="#ff8000"/>
<rect x="393.7" y="216.1" width="4.5" height="4.5" fill="#00ffff"/>
<rect x="324.9" y="119.5" width="4.5" height="4.5" fill="#ff8000"/>
<rect x="304.1" y="62.3" width="4.5" height="4.5" fill="#ffff00"/>
<rect x="373.8" y="142.2" width="4.5" height="4.5" fill="#ff8000"/>
<rect x="386.3" y="200.5" width="4.5" height="4.5" fill="#80ff80"/>
<rect x="379.0" y="167.4" width="4.5" height="4.5" fill="#ffff00"/>
<rect x="381.2" y="204.2" width="4.5" height="4.5" fill="#80ff80"/>
<rect x="339.5" y="165.0" width="4.5" height="4.5" fill="#ffff00"/>
<rect x="399.7" y="153.9" width="4.5" height="4.5" fill="#ff8000"/>
<rect x="365.3" y="150.8" width="4.5" height="4.5" fill="#ff8000"/>
<rect x="388.8" y="159.6" width="4.5" height="4.5" fill="#ff8000"/>
<rect x="413.2" y="205.9" width="4.5" height="4.5" fill="#80ff80"/>
<rect x="397.6" y="181.8" width="4.5" height="4.5" fill="#ffff00"/>
<rect x="352.6" y="119.4" width="4.5" height="4.5" fill="#ff8000"/>
<rect x="428.5" y="202.7" width="4.5" height="4.5" fill="#ff8000"/>
<rect x="368.3" y="184.4" width="4.5" height="4.5" fill="#ffff00"/>
<rect x="401.3" y="155.8" width="4.5" height="4.5" fill="#ff8000"/>
<rect x="351.4" y="216.3" width="4.5" height="4.5" fill="#80ff80"/>
<rect x="364.5" y="172.5" width="4.5" height="4.5" fill="#ffff00"/>
<rect x="394.6" y="212.6" width="4.5" height="4.5" fill="#ff8000"/>
<rect x="470.2" y="213.8" width="4.5" height="4.5" fill="#80ff80"/>
<rect x="306.5" y="115.6" width="4.5" height="4.5" fill="#ffff00"/>
<rect x="470.2" y="232.2" width="4.5" height="4.5" fill="#ffff00"/>
<rect x="393.9" y="212.3" width="4.5" height="4.5" fill="#80ff80"/>
<rect x="400.1" y="213.1" width="4.5" height="4.5" fill="#00ffff"/>
<rect x="387.7" y="214.7" width="4.5" height="4.5" fill="#80ff80"/>
<rect x="371.8" y="208.9" width="4.5" height="4.5" fill="#00ffff"/>
<rect x="351.0" y="120.5" width="4.5" height="4.5" fill="#ff8000"/>
<rect x="334.4" y="65.0" width="4.5" height="4.5" fill="#ff8000"/>
<rect x="376.5" y="158.5" width="4.5" height="4.5" fill="#ff8000"/>
<rect x="367.6" y="198.6" width="4.5" height="4.5" fill="#ff8000"/>
<rect x="405.2" y="204.9" width="4.5" height="4.5" fill="#80ff80"/>
<rect x="372.4" y="133.7" width="4.5" height="4.5" fill="#ff8000"/>
<rect x="380.8" y="174.1" width="4.5" height="4.5" fill="#ff8000"/>
<rect x="339.6" y="150.4" width="4.5" height="4.5" fill="#ffff00"/>
<rect x="360.6" y="166.2" width="4.5" height="4.5" fill="#ffff00"/>
<rect x="424.1" y="206.8" width="4.5" height="4.5" fill="#ff8000"/>
<rect x="357.7" y="163.4" width="4.5" height="4.5" fill="#ffff00"/>
<rect x="444.6" y="194.2" width="4.5" height="4.5" fill="#ffff00"/>
<rect x="419.7" y="196.0" width="4.5" height="4.5" fill="#ff8000"/>
<rect x="321.6" y="120.3" width="4.5" height="4.5" fill="#ff8000"/>
<rect x="342.7" y="149.7" width="4.5" height="4.5" fill="#ffff00"/>
<rect x="374.9" y="175.2" width="4.5" height="4.5" fill="#ffff00"/>
<rect x="362.4" y="196.3" width="4.5" height="4.5" fill="#00ffff"/>
<rect x="405.3" y="183.6" width="4.5" height="4.5" fill="#ff8000"/>
<rect x="424.5" y="224.6" width="4.5" height="4.5" fill="#00ffff"/>
<rect x="352.9" y="103.2" width="4.5" height="4.5" fill="#ff8000"/>
<rect x="379.5" y="174.0" width="4.5" height="4.5" fill="#ffff00"/>
<rect x="390.6" y="154.6" width="4.5" height="4.5" fill="#ff8000"/>
<rect x="376.1" y="137.7" width="4.5" height="4.5" fill="#ff8000"/>
<rect x="439.4" y="206.5" width="4.5" height="4.5" fill="#ff8000"/>
<rect x="370.3" y="176.0" width="4.5" height="4.5" fill="#ffff00"/>
<rect x="409.6" y="198.2" width="4.5" height="4.5" fill="#80ff80"/>
<rect x="455.4" y="220.9" width="4.5" height="4.5" fill="#80ff80"/>
<rect x="351.0" y="148.3" width="4.5" height="4.5" fill="#ffff00"/>
<rect x="383.8" y="147.7" width="4.5" height="4.5" fill="#ff8000"/>
<rect x="361.1" y="154.6" width="4.5" height="4.5" fill="#ff8000"/>
<rect x="407.9" y="183.6" width="4.5" height="4.5" fill="#ff8000"/>
<rect x="382.5" y="203.9" width="4.5" height="4.5" fill="#00ffff"/>
<rect x="359.4" y="127.4" width="4.5" height="4.5" fill="#ff8000"/>
<rect x="443.8" y="217.2" width="4.5" height="4.5" fill="#ffff00"/>
<rect x="404.0" y="219.1" width="4.5" height="4.5" fill="#00ffff"/>
<rect x="396.9" y="183.0" width="4.5" height="4.5" fill="#ff8000"/>
<rect x="374.3" y="182.0" width="4.5" height="4.5" fill="#ffff00"/>
<rect x="403.0" y="200.9" width="4.5" height="4.5" fill="#80ff80"/>
<rect x="422.9" y="187.4" width="4.5" height="4.5" fill="#ff8000"/>
<rect x="365.1" y="167.7" width="4.5" height="4.5" fill="#ffff00"/>
<rect x="384.0" y="179.0" width="4.5" height="4.5" fill="#ffff00"/>
<rect x="350.9" y="173.3" width="4.5" height="4.5" fill="#ffff00"/>
<rect x="371.5" y="191.5" width="4.5" height="4.5" fill="#80ff80"/>
<rect x="438.3" y="224.9" width="4.5" height="4.5" fill="#80ff80"/>
<rect x="405.1" y="181.3" width="4.5" height="4.5" fill="#ffff00"/>
<rect x="436.8" y="203.6" width="4.5" height="4.5" fill="#ffff00"/>
<rect x="366.1" y="156.3" width="4.5" height="4.5" fill="#ff8000"/>
<rect x="368.7" y="142.0" width="4.5" height="4.5" fill="#ff8000"/>
<rect x="328.1" y="103.5" width="4.5" height="4.5" fill="#ff8000"/>
<rect x="369.4" y="204.3" width="4.5" height="4.5" fill="#00ffff"/>
<rect x="387.4" y="175.3" width="4.5" height="4.5" fill="#ffff00"/>
<rect x="413.4" y="219.4" width="4.5" height="4.5" fill="#80ff80"/>
<rect x="419.0" y="213.8" width="4.5" height="4.5" fill="#80ff80"/>
<rect x="395.9" y="187.7" width="4.5" height="4.5" fill="#ffff00"/>
<rect x="345.5" y="136.6" width="4.5" height="4.5" fill="#ffff00"/>
<rect x="356.8" y="176.1" width="4.5" height="4.5" fill="#80ff80"/>
<rect x="408.6" y="170.6" width="4.5" height="4.5" fill="#ffff00"/>
<rect x="442.1" y="239.4" width="4.5" height="4.5" fill="#00ffff"/>
<rect x="366.9" y="168.6" width="4.5" height="4.5" fill="#ffff00"/>
<rect x="363.1" y="131.6" width="4.5" height="4.5" fill="#ff8000"/>
<rect x="401.0" y="176.4" width="4.5" height="4.5" fill="#ffff00"/>
<rect x="399.1" y="217.2" width="4.5" height="4.5" fill="#00ffff"/>
<rect x="420.5" y="211.4" width="4.5" height="4.5" fill="#ffff00"/>
<rect x="404.0" y="192.6" width="4.5" height="4.5" fill="#ffff00"/>
<rect x="399.7" y="179.5" width="4.5" height="4.5" fill="#ff8000"/>
<rect x="364.7" y="200.9" width="4.5" height="4.5" fill="#00ffff"/>
<rect x="420.7" y="210.7" width="4.5" height="4.5" fill="#80ff80"/>
<rect x="379.7" y="173.0" width="4.5" height="4.5" fill="#ff8000"/>
<rect x="434.8" y="203.8" width="4.5" height="4.5" fill="#ffff00"/>
<rect x="344.2" y="193.1" width="4.5" height="4.5" fill="#80ff80"/>
<rect x="369.4" y="134.2" width="4.5" height="4.5" fill="#ff8000"/>
<rect x="318.0" y="110.0" width="4.5" height="4.5" fill="#ffff00"/>
<rect x="415.9" y="213.1" width="4.5" height="4.5" fill="#00ffff"/>
<rect x="369.2" y="111.0" width="4.5" height="4.5" fill="#ff8000"/>
<rect x="330.4" y="133.3" width="4.5" height="4.5" fill="#ffff00"/>
<rect x="363.5" y="197.7" width="4.5" height="4.5" fill="#00ffff"/>
<rect x="424.5" y="196.3" width="4.5" height="4.5" fill="#ffff00"/>
<rect x="387.9" y="182.9" width="4.5" height="4.5" fill="#ffff00"/>
<rect x="403.5" y="167.9" width="4.5" height="4.5" fill="#ff8000"/>
<rect x="363.3" y="169.0" width="4.5" height="4.5" fill="#ffff00"/>
<rect x="403.7" y="206.9" width="4.5" height="4.5" fill="#ffff00"/>
<rect x="314.6" y="86.8" width="4.5" height="4.5" fill="#ff8000"/>
<rect x="376.1" y="160.6" width="4.5" height="4.5" fill="#ff8000"/>
<rect x="345.7" y="149.6" width="4.5" height="4.5" fill="#ffff00"/>
<rect x="320.5" y="126.0" width="4.5" height="4.5" fill="#ff8000"/>
<rect x="423.8" y="188.3" width="4.5" height="4.5" fill="#ff8000"/>
<rect x="411.6" y="215.8" width="4.5" height="4.5" fill="#00ffff"/>
<rect x="385.8" y="173.2" width="4.5" height="4.5" fill="#ffff00"/>
<rect x="391.4" y="207.3" width="4.5" height="4.5" fill="#00ffff"/>
<rect x="345.4" y="154.0" width="4.5" height="4.5" fill="#ffff00"/>
<rect x="459.9" y="228.6" width="4.5" height="4.5" fill="#ff8000"/>
<rect x="432.3" y="212.1" width="4.5" height="4.5" fill="#ffff00"/>
<rect x="371.8" y="144.5" width="4.5" height="4.5" fill="#ff8000"/>
<rect x="339.6" y="79.5" width="4.5" height="4.5" fill="#ff8000"/>
<rect x="424.5" y="180.1" width="4.5" height="4.5" fill="#ff8000"/>
<rect x="374.7" y="199.5" width="4.5" height="4.5" fill="#00ffff"/>
<rect x="465.6" y="207.7" width="4.5" height="4.5" fill="#ffff00"/>
<rect x="417.3" y="196.5" width="4.5" height="4.5" fill="#ffff00"/>
<rect x="412.2" y="201.0" width="4.5" height="4.5" fill="#80ff80"/>
<rect x="387.2" y="207.7" width="4.5" height="4.5" fill="#80ff80"/>
<rect x="350.3" y="135.1" width="4.5" height="4.5" fill="#ffff00"/>
<rect x="333.4" y="85.7" width="4.5" height="4.5" fill="#ff8000"/>
<rect x="387.3" y="183.3" width="4.5" height="4.5" fill="#ffff00"/>
<rect x="364.4" y="175.6" width="4.5" height="4.5" fill="#ffff00"/>
<rect x="368.6" y="181.0" width="4.5" height="4.5" fill="#ffff00"/>
<rect x="340.9" y="152.3" width="4.5" height="4.5" fill="#ffff00"/>
<rect x="363.4" y="185.2" width="4.5" height="4.5" fill="#80ff80"/>
<rect x="367.8" y="191.5" width="4.5" height="4.5" fill="#80ff80"/>
<rect x="438.4" y="216.3" width="4.5" height="4.5" fill="#80ff80"/>
<rect x="465.2" y="224.7" width="4.5" height="4.5" fill="#80ff80"/>
<rect x="341.8" y="137.8" width="4.5" height="4.5" fill="#ffff00"/>
<rect x="391.2" y="204.5" width="4.5" height="4.5" fill="#ffff00"/>
<rect x="366.8" y="150.6" width="4.5" height="4.5" fill="#ffff00"/>
<rect x="353.3" y="141.2" width="4.5" height="4.5" fill="#ff8000"/>
<rect x="430.7" y="172.7" width="4.5" height="4.5" fill="#ff8000"/>
<rect x="318.6" y="139.2" width="4.5" height="4.5" fill="#ffff00"/>
<rect x="376.3" y="167.3" width="4.5" height="4.5" fill="#ffff00"/>
<rect x="329.4" y="144.0" width="4.5" height="4.5" fill="#ffff00"/>
<rect x="348.4" y="127.9" width="4.5" height="4.5" fill="#ff8000"/>
<rect x="406.5" y="179.4" width="4.5" height="4.5" fill="#ff8000"/>
<rect x="357.4" y="111.8" width="4.5" height="4.5" fill="#ff8000"/>
<rect x="375.9" y="208.3" width="4.5" height="4.5" fill="#0080ff"/>
<rect x="397.1" y="172.9" width="4.5" height="4.5" fill="#ff8000"/>
<rect x="429.3" y="167.2" width="4.5" height="4.5" fill="#ff8000"/>
<rect x="339.6" y="91.3" width="4.5" height="4.5" fill="#ff8000"/>
<rect x="390.9" y="164.6" width="4.5" height="4.5" fill="#ff8000"/>
<rect x="313.4" y="57.0" width="4.5" height="4.5" fill="#ff8000"/>
<rect x="404.3" y="190.4" width="4.5" height="4.5" fill="#ffff00"/>
<rect x="337.5" y="109.5" width="4.5" height="4.5" fill="#ff8000"/>
<rect x="362.3" y="118.3" width="4.5" height="4.5" fill="#ff8000"/>
<rect x="379.6" y="207.2" width="4.5" height="4.5" fill="#00ffff"/>
<rect x="408.8" y="125.8" width="4.5" height="4.5" fill="#ff8000"/>
<rect x="447.6" y="219.1" width="4.5" height="4.5" fill="#0080ff"/>
<rect x="386.1" y="155.2" width="4.5" height="4.5" fill="#ff8000"/>
<rect x="375.3" y="195.4" width="4.5" height="4.5" fill="#80ff80"/>
<rect x="350.5" y="150.5" width="4.5" height="4.5" fill="#ffff00"/>
<rect x="389.9" y="162.2" width="4.5" height="4.5" fill="#ff8000"/>
<rect x="393.2" y="159.2" width="4.5" height="4.5" fill="#ff8000"/>
<rect x="413.6" y="197.9" width="4.5" height="4.5" fill="#ff8000"/>
<rect x="375.4" y="161.8" width="4.5" height="4.5" fill="#ffff00"/>
<rect x="462.4" y="224.8" width="4.5" height="4.5" fill="#0080ff"/>
<rect x="332.1" y="164.6" width="4.5" height="4.5" fill="#80ff80"/>
<rect x="356.5" y="174.6" width="4.5" height="4.5" fill="#ffff00"/>
<rect x="374.8" y="180.8" width="4.5" height="4.5" fill="#ffff00"/>
<rect x="448.5" y="206.6" width="4.5" height="4.5" fill="#80ff80"/>
<rect x="406.0" y="207.3" width="4.5" height="4.5" fill="#ffff00"/>
<rect x="365.7" y="144.4" width="4.5" height="4.5" fill="#ff8000"/>
<rect x="368.1" y="140.6" width="4.5" height="4.5" fill="#ff8000"/>
<rect x="369.6" y="122.0" width="4.5" height="4.5" fill="#ff8000"/>
<rect x="376.6" y="165.4" width="4.5" height="4.5" fill="#ff8000"/>
<rect x="407.2" y="218.3" width="4.5" height="4.5" fill="#00ffff"/>
<rect x="351.8" y="182.3" width="4.5" height="4.5" fill="#80ff80"/>
<rect x="401.3" y="186.5" width="4.5" height="4.5" fill="#ff8000"/>
<rect x="399.8" y="182.8" width="4.5" height="4.5" fill="#ffff00"/>
<rect x="325.9" y="132.8" width="4.5" height="4.5" fill="#ffff00"/>
<rect x="405.4" y="199.7" width="4.5" height="4.5" fill="#ffff00"/>
<rect x="343.4" y="135.0" width="4.5" height="4.5" fill="#ffff00"/>
<rect x="391.3" y="158.7" width="4.5" height="4.5" fill="#ff8000"/>
<rect x="329.0" y="120.8" width="4.5" height="4.5" fill="#ffff00"/>
<rect x="342.9" y="163.2" width="4.5" height="4.5" fill="#ffff00"/>
<rect x="443.8" y="187.1" width="4.5" height="4.5" fill="#ffff00"/>
<rect x="390.6" y="174.7" width="4.5" height="4.5" fill="#ff8000"/>
<rect x="387.6" y="223.4" width="4.5" height="4.5" fill="#ffff00"/>
<rect x="381.2" y="210.4" width="4.5" height="4.5" fill="#00ffff"/>
<rect x="411.8" y="199.5" width="4.5" height="4.5" fill="#ffff00"/>
<rect x="365.7" y="150.8" width="4.5" height="4.5" fill="#ff8000"/>
<rect x="379.7" y="145.7" width="4.5" height="4.5" fill="#ff8000"/>
<rect x="412.2" y="210.6" width="4.5" height="4.5" fill="#80ff80"/>
<rect x="406.1" y="188.3" width="4.5" height="4.5" fill="#ff8000"/>
<rect x="341.3" y="129.6" width="4.5" height="4.5" fill="#ff8000"/>
<rect x="332.3" y="106.1" width="4.5" height="4.5" fill="#ff8000"/>
<rect x="404.1" y="180.6" width="4.5" height="4.5" fill="#ffff00"/>
<rect x="413.8" y="212.3" width="4.5" height="4.5" fill="#80ff80"/>
<rect x="372.6" y="167.2" width="4.5" height="4.5" fill="#ffff00"/>
<rect x="386.6" y="182.4" width="4.5" height="4.5" fill="#ffff00"/>
<rect x="405.2" y="211.9" width="4.5" height="4.5" fill="#00ffff"/>
<rect x="361.9" y="143.4" width="4.5" height="4.5" fill="#ffff00"/>
<rect x="397.3" y="198.3" width="4.5" height="4.5" fill="#ff8000"/>
<rect x="400.0" y="203.9" width="4.5" height="4.5" fill="#ffff00"/>
<rect x="396.4" y="145.2" width="4.5" height="4.5" fill="#ff8000"/>
<rect x="344.6" y="133.6" width="4.5" height="4.5" fill="#ffff00"/>
<rect x="364.3" y="180.1" width="4.5" height="4.5" fill="#80ff80"/>
<rect x="388.8" y="190.3" width="4.5" height="4.5" fill="#ff8000"/>
<rect x="351.7" y="160.6" width="4.5" height="4.5" fill="#ffff00"/>
<rect x="387.0" y="173.4" width="4.5" height="4.5" fill="#ffff00"/>
<rect x="395.8" y="156.2" width="4.5" height="4.5" fill="#ff8000"/>
<rect x="365.6" y="134.5" width="4.5" height="4.5" fill="#ff8000"/>
<rect x="381.5" y="149.9" width="4.5" height="4.5" fill="#ff8000"/>
<rect x="372.6" y="184.4" width="4.5" height="4.5" fill="#ffff00"/>
<rect x="425.9" y="204.3" width="4.5" height="4.5" fill="#ff8000"/>
<rect x="329.1" y="61.5" width="4.5" height="4.5" fill="#ff8000"/>
<rect x="342.1" y="168.9" width="4.5" height="4.5" fill="#ffff00"/>
<rect x="372.5" y="205.2" width="4.5" height="4.5" fill="#80ff80"/>
<rect x="334.9" y="134.3" width="4.5" height="4.5" fill="#ffff00"/>
<rect x="341.0" y="154.4" width="4.5" height="4.5" fill="#ffff00"/>
<rect x="391.1" y="172.3" width="4.5" height="4.5" fill="#ffff00"/>
<rect x="450.6" y="213.5" width="4.5" height="4.5" fill="#80ff80"/>
<rect x="347.3" y="132.7" width="4.5" height="4.5" fill="#ffff00"/>
<rect x="331.8" y="68.5" width="4.5" height="4.5" fill="#ff8000"/>
<rect x="389.1" y="152.9" width="4.5" height="4.5" fill="#ff8000"/>
<rect x="381.9" y="149.7" width="4.5" height="4.5" fill="#ff8000"/>
<rect x="322.7" y="137.4" width="4.5" height="4.5" fill="#ffff00"/>
<rect x="335.9" y="154.9" width="4.5" height="4.5" fill="#ffff00"/>
<rect x="373.3" y="132.9" width="4.5" height="4.5" fill="#ff8000"/>
<rect x="405.0" y="171.5" width="4.5" height="4.5" fill="#ff8000"/>
<rect x="427.0" y="225.4" width="4.5" height="4.5" fill="#00ffff"/>
<rect x="347.6" y="108.5" width="4.5" height="4.5" fill="#ff8000"/>
<rect x="397.1" y="180.2" width="4.5" height="4.5" fill="#ff8000"/>
<rect x="366.8" y="190.6" width="4.5" height="4.5" fill="#80ff80"/>
<rect x="344.1" y="103.7" width="4.5" height="4.5" fill="#ff8000"/>
<rect x="372.4" y="185.4" width="4.5" height="4.5" fill="#ffff00"/>
<rect x="329.9" y="89.6" width="4.5" height="4.5" fill="#ff8000"/>
<rect x="432.8" y="190.0" width="4.5" height="4.5" fill="#ff8000"/>
<rect x="362.4" y="150.9" width="4.5" height="4.5" fill="#ffff00"/>
<rect x="334.8" y="185.8" width="4.5" height="4.5" fill="#ff8000"/>
<rect x="374.5" y="202.6" width="4.5" height="4.5" fill="#80ff80"/>
<rect x="378.1" y="210.3" width="4.5" height="4.5" fill="#00ffff"/>
<rect x="395.6" y="166.4" width="4.5" height="4.5" fill="#ff8000"/>
<rect x="449.9" y="217.8" width="4.5" height="4.5" fill="#ffff00"/>
<rect x="310.9" y="86.3" width="4.5" height="4.5" fill="#ff8000"/>
<rect x="386.8" y="208.1" width="4.5" height="4.5" fill="#00ffff"/>
<rect x="403.3" y="191.9" width="4.5" height="4.5" fill="#ffff00"/>
<rect x="400.1" y="213.9" width="4.5" height="4.5" fill="#80ff80"/>
<rect x="426.3" y="206.0" width="4.5" height="4.5" fill="#ffff00"/>
<rect x="386.8" y="195.5" width="4.5" height="4.5" fill="#ffff00"/>
<rect x="405.0" y="189.3" width="4.5" height="4.5" fill="#ff8000"/>
<rect x="368.5" y="136.9" width="4.5" height="4.5" fill="#ff8000"/>
<rect x="343.3" y="200.9" width="4.5" height="4.5" fill="#80ff80"/>
<rect x="341.8" y="153.0" width="4.5" height="4.5" fill="#ffff00"/>
<rect x="391.9" y="162.6" width="4.5" height="4.5" fill="#ff8000"/>
<rect x="403.6" y="219.2" width="4.5" height="4.5" fill="#00ffff"/>
<rect x="373.8" y="209.3" width="4.5" height="4.5" fill="#00ffff"/>
<rect x="364.5" y="142.7" width="4.5" height="4.5" fill="#ff8000"/>
<rect x="455.8" y="222.3" width="4.5" height="4.5" fill="#0080ff"/>
<rect x="388.8" y="195.0" width="4.5" height="4.5" fill="#80ff80"/>
<rect x="350.7" y="90.3" width="4.5" height="4.5" fill="#ff8000"/>
<rect x="421.5" y="195.8" width="4.5" height="4.5" fill="#ff8000"/>
<rect x="339.6" y="140.5" width="4.5" height="4.5" fill="#ffff00"/>
<rect x="368.8" y="116.5" width="4.5" height="4.5" fill="#ff8000"/>
<rect x="372.9" y="152.0" width="4.5" height="4.5" fill="#ff8000"/>
<rect x="329.6" y="81.4" width="4.5" height="4.5" fill="#ff8000"/>
<rect x="316.8" y="129.0" width="4.5" height="4.5" fill="#ff8000"/>
<rect x="374.1" y="222.3" width="4.5" height="4.5" fill="#ffff00"/>
<rect x="416.7" y="194.0" width="4.5" height="4.5" fill="#ffff00"/>
<rect x="310.5" y="135.5" width="4.5" height="4.5" fill="#ffff00"/>
<rect x="388.3" y="174.0" width="4.5" height="4.5" fill="#ff8000"/>
<rect x="402.2" y="196.3" width="4.5" height="4.5" fill="#80ff80"/>
<rect x="353.2" y="114.4" width="4.5" height="4.5" fill="#ff8000"/>
<rect x="407.8" y="203.0" width="4.5" height="4.5" fill="#ffff00"/>
<rect x="382.4" y="184.8" width="4.5" height="4.5" fill="#ffff00"/>
<rect x="360.3" y="175.0" width="4.5" height="4.5" fill="#ffff00"/>
<rect x="430.7" y="215.4" width="4.5" height="4.5" fill="#80ff80"/>
<rect x="336.1" y="126.4" width="4.5" height="4.5" fill="#ff8000"/>
<rect x="439.3" y="190.9" width="4.5" height="4.5" fill="#ff8000"/>
<rect x="331.2" y="106.0" width="4.5" height="4.5" fill="#ff8000"/>
<rect x="409.8" y="179.0" width="4.5" height="4.5" fill="#ff8000"/>
<rect x="380.4" y="190.6" width="4.5" height="4.5" fill="#ffff00"/>
<rect x="403.2" y="208.6" width="4.5" height="4.5" fill="#00ffff"/>
<rect x="404.2" y="211.2" width="4.5" height="4.5" fill="#ffff00"/>
<rect x="363.5" y="149.2" width="4.5" height="4.5" fill="#ff8000"/>
<rect x="345.3" y="166.0" width="4.5" height="4.5" fill="#ffff00"/>
<rect x="389.0" y="173.3" width="4.5" height="4.5" fill="#ff8000"/>
<rect x="391.9" y="210.4" width="4.5" height="4.5" fill="#00ffff"/>
<rect x="363.7" y="165.0" width="4.5" height="4.5" fill="#ffff00"/>
<rect x="417.1" y="207.2" width="4.5" height="4.5" fill="#ffff00"/>
<rect x="398.6" y="213.1" width="4.5" height="4.5" fill="#00ffff"/>
<rect x="381.5" y="167.2" width="4.5" height="4.5" fill="#ff8000"/>
<rect x="434.5" y="204.3" width="4.5" height="4.5" fill="#ffff00"/>
<rect x="362.2" y="170.2" width="4.5" height="4.5" fill="#ffff00"/>
<rect x="451.6" y="208.2" width="4.5" height="4.5" fill="#ffff00"/>
<rect x="390.0" y="180.8" width="4.5" height="4.5" fill="#ff8000"/>
<rect x="387.6" y="171.8" width="4.5" height="4.5" fill="#ffff00"/>
<rect x="386.9" y="136.0" width="4.5" height="4.5" fill="#ff8000"/>
<rect x="470.2" y="199.8" width="4.5" height="4.5" fill="#ff8000"/>
<rect x="398.6" y="182.6" width="4.5" height="4.5" fill="#ffff00"/>
<rect x="372.9" y="206.6" width="4.5" height="4.5" fill="#00ffff"/>
<rect x="351.9" y="179.6" width="4.5" height="4.5" fill="#80ff80"/>
<rect x="319.6" y="128.0" width="4.5" height="4.5" fill="#ffff00"/>
<rect x="350.7" y="140.9" width="4.5" height="4.5" fill="#ff8000"/>
<rect x="339.9" y="139.2" width="4.5" height="4.5" fill="#ffff00"/>
<rect x="326.7" y="130.9" width="4.5" height="4.5" fill="#ffff00"/>
<rect x="364.4" y="197.1" width="4.5" height="4.5" fill="#80ff80"/>
<rect x="371.1" y="182.5" width="4.5" height="4.5" fill="#ffff00"/>
<rect x="374.3" y="202.7" width="4.5" height="4.5" fill="#00ffff"/>
<rect x="337.5" y="163.6" width="4.5" height="4.5" fill="#ffff00"/>
<rect x="401.9" y="202.4" width="4.5" height="4.5" fill="#ffff00"/>
<rect x="344.6" y="134.4" width="4.5" height="4.5" fill="#ff8000"/>
<rect x="428.6" y="203.7" width="4.5" height="4.5" fill="#ff8000"/>
<rect x="332.2" y="217.8" width="4.5" height="4.5" fill="#ffff00"/>
<rect x="371.8" y="155.5" width="4.5" height="4.5" fill="#ff8000"/>
<rect x="320.8" y="125.8" width="4.5" height="4.5" fill="#ffff00"/>
<rect x="368.9" y="182.2" width="4.5" height="4.5" fill="#ffff00"/>
<rect x="436.8" y="215.8" width="4.5" height="4.5" fill="#80ff80"/>
<rect x="460.2" y="211.2" width="4.5" height="4.5" fill="#ffff00"/>
<rect x="329.6" y="109.7" width="4.5" height="4.5" fill="#ffff00"/>
<rect x="380.4" y="167.9" width="4.5" height="4.5" fill="#ff8000"/>
<rect x="348.2" y="139.6" width="4.5" height="4.5" fill="#ffff00"/>
<rect x="387.5" y="185.9" width="4.5" height="4.5" fill="#ffff00"/>
<rect x="367.4" y="153.8" width="4.5" height="4.5" fill="#ffff00"/>
<rect x="374.2" y="136.6" width="4.5" height="4.5" fill="#ff8000"/>
<rect x="394.4" y="199.2" width="4.5" height="4.5" fill="#80ff80"/>
<rect x="339.7" y="131.1" width="4.5" height="4.5" fill="#ffff00"/>
<rect x="391.4" y="208.7" width="4.5" height="4.5" fill="#80ff80"/>
<rect x="364.7" y="138.6" width="4.5" height="4.5" fill="#ff8000"/>
<rect x="378.9" y="215.0" width="4.5" height="4.5" fill="#00ffff"/>
<rect x="316.4" y="134.5" width="4.5" height="4.5" fill="#ffff00"/>
<rect x="365.2" y="146.2" width="4.5" height="4.5" fill="#ff8000"/>
<rect x="401.9" y="189.8" width="4.5" height="4.5" fill="#ffff00"/>
<rect x="400.3" y="222.1" width="4.5" height="4.5" fill="#80ff80"/>
<rect x="445.7" y="221.5" width="4.5" height="4.5" fill="#ffff00"/>
<rect x="393.8" y="202.7" width="4.5" height="4.5" fill="#ffff00"/>
<rect x="366.8" y="173.4" width="4.5" height="4.5" fill="#ffff00"/>
<rect x="470.6" y="206.1" width="4.5" height="4.5" fill="#ff8000"/>
<rect x="349.3" y="123.5" width="4.5" height="4.5" fill="#ff8000"/>
<rect x="315.8" y="92.5" width="4.5" height="4.5" fill="#ffff00"/>
<rect x="433.5" y="185.9" width="4.5" height="4.5" fill="#ff8000"/>
<rect x="408.7" y="194.5" width="4.5" height="4.5" fill="#ffff00"/>
<rect x="346.8" y="172.0" width="4.5" height="4.5" fill="#ffff00"/>
<rect x="386.9" y="151.9" width="4.5" height="4.5" fill="#ff8000"/>
<rect x="387.6" y="164.7" width="4.5" height="4.5" fill="#ff8000"/>
<rect x="378.5" y="166.6" width="4.5" height="4.5" fill="#ffff00"/>
<rect x="337.1" y="102.0" width="4.5" height="4.5" fill="#ff8000"/>
<rect x="449.2" y="231.8" width="4.5" height="4.5" fill="#ff8000"/>
<rect x="400.3" y="190.2" width="4.5" height="4.5" fill="#ffff00"/>
<rect x="399.3" y="219.9" width="4.5" height="4.5" fill="#80ff80"/>
<rect x="376.5" y="157.9" width="4.5" height="4.5" fill="#ff8000"/>
<rect x="394.8" y="200.9" width="4.5" height="4.5" fill="#80ff80"/>
<rect x="409.2" y="170.2" width="4.5" height="4.5" fill="#ff8000"/>
<rect x="320.7" y="130.5" width="4.5" height="4.5" fill="#ffff00"/>
<rect x="422.8" y="195.5" width="4.5" height="4.5" fill="#ffff00"/>
<rect x="377.5" y="185.0" width="4.5" height="4.5" fill="#ffff00"/>
<rect x="420.7" y="224.7" width="4.5" height="4.5" fill="#00ffff"/>
<rect x="366.8" y="177.1" width="4.5" height="4.5" fill="#ffff00"/>
<rect x="347.1" y="158.8" width="4.5" height="4.5" fill="#ffff00"/>
<rect x="305.7" y="107.8" width="4.5" height="4.5" fill="#ffff00"/>
<rect x="400.3" y="198.7" width="4.5" height="4.5" fill="#ffff00"/>
<rect x="395.7" y="219.6" width="4.5" height="4.5" fill="#0080ff"/>
<rect x="429.6" y="225.7" width="4.5" height="4.5" fill="#80ff80"/>
<rect x="345.9" y="146.4" width="4.5" height="4.5" fill="#ffff00"/>
<rect x="433.8" y="213.2" width="4.5" height="4.5" fill="#ffff00"/>
<rect x="428.0" y="211.5" width="4.5" height="4.5" fill="#80ff80"/>
<rect x="372.6" y="117.8" width="4.5" height="4.5" fill="#ff8000"/>
<rect x="397.3" y="186.3" width="4.5" height="4.5" fill="#ff8000"/>
<rect x="372.5" y="171.6" width="4.5" height="4.5" fill="#ffff00"/>
<rect x="428.5" y="207.2" width="4.5" height="4.5" fill="#ffff00"/>
<rect x="414.1" y="202.3" width="4.5" height="4.5" fill="#ffff00"/>
<rect x="453.4" y="209.4" width="4.5" height="4.5" fill="#ff8000"/>
<rect x="380.7" y="201.1" width="4.5" height="4.5" fill="#00ffff"/>
<rect x="425.6" y="199.1" width="4.5" height="4.5" fill="#80ff80"/>
<rect x="329.1" y="91.3" width="4.5" height="4.5" fill="#ff8000"/>
<rect x="391.4" y="174.2" width="4.5" height="4.5" fill="#ff8000"/>
<rect x="339.9" y="152.6" width="4.5" height="4.5" fill="#ffff00"/>
<rect x="350.1" y="138.7" width="4.5" height="4.5" fill="#ffff00"/>
<rect x="388.9" y="221.1" width="4.5" height="4.5" fill="#0080ff"/>
<rect x="411.5" y="203.8" width="4.5" height="4.5" fill="#80ff80"/>
<rect x="311.4" y="94.5" width="4.5" height="4.5" fill="#ff8000"/>
<rect x="376.3" y="175.9" width="4.5" height="4.5" fill="#ffff00"/>
<rect x="400.6" y="199.7" width="4.5" height="4.5" fill="#ffff00"/>
<rect x="398.6" y="228.6" width="4.5" height="4.5" fill="#80ff80"/>
<rect x="348.8" y="175.0" width="4.5" height="4.5" fill="#80ff80"/>
<rect x="369.0" y="138.0" width="4.5" height="4.5" fill="#ff8000"/>
<rect x="367.9" y="134.2" width="4.5" height="4.5" fill="#ff8000"/>
<rect x="314.9" y="114.9" width="4.5" height="4.5" fill="#ffff00"/>
<rect x="335.3" y="120.6" width="4.5" height="4.5" fill="#ff8000"/>
<rect x="327.9" y="76.8" width="4.5" height="4.5" fill="#ff8000"/>
<rect x="322.0" y="126.4" width="4.5" height="4.5" fill="#ffff00"/>
<rect x="367.8" y="138.1" width="4.5" height="4.5" fill="#ff8000"/>
<rect x="323.8" y="134.2" width="4.5" height="4.5" fill="#ffff00"/>
<rect x="370.1" y="175.9" width="4.5" height="4.5" fill="#ffff00"/>
<rect x="430.3" y="205.1" width="4.5" height="4.5" fill="#80ff80"/>
<rect x="373.0" y="129.7" width="4.5" height="4.5" fill="#ff8000"/>
<rect x="343.4" y="131.7" width="4.5" height="4.5" fill="#ff8000"/>
<rect x="314.8" y="113.9" width="4.5" height="4.5" fill="#ffff00"/>
<rect x="387.5" y="203.9" width="4.5" height="4.5" fill="#ffff00"/>
<rect x="317.5" y="146.7" width="4.5" height="4.5" fill="#ffff00"/>
<rect x="405.4" y="190.6" width="4.5" height="4.5" fill="#ffff00"/>
<rect x="330.6" y="181.2" width="4.5" height="4.5" fill="#ffff00"/>
<rect x="392.7" y="177.5" width="4.5" height="4.5" fill="#ffff00"/>
<rect x="357.1" y="164.6" width="4.5" height="4.5" fill="#ffff00"/>
<rect x="339.9" y="180.3" width="4.5" height="4.5" fill="#80ff80"/>
<rect x="404.1" y="143.1" width="4.5" height="4.5" fill="#ff8000"/>
<rect x="362.5" y="117.2" width="4.5" height="4.5" fill="#ff8000"/>
<rect x="382.4" y="181.9" width="4.5" height="4.5" fill="#ffff00"/>
<rect x="363.6" y="127.6" width="4.5" height="4.5" fill="#ff8000"/>
<rect x="330.4" y="112.0" width="4.5" height="4.5" fill="#ff8000"/>
<rect x="328.6" y="87.5" width="4.5" height="4.5" fill="#ff8000"/>
<rect x="372.6" y="167.2" width="4.5" height="4.5" fill="#ffff00"/>
<rect x="392.6" y="183.4" width="4.5" height="4.5" fill="#ff8000"/>
<rect x="387.1" y="219.4" width="4.5" height="4.5" fill="#80ff80"/>
<rect x="395.9" y="212.7" width="4.5" height="4.5" fill="#80ff80"/>
<rect x="418.8" y="188.9" width="4.5" height="4.5" fill="#ff8000"/>
<rect x="418.9" y="209.2" width="4.5" height="4.5" fill="#ffff00"/>
<rect x="404.7" y="167.0" width="4.5" height="4.5" fill="#ff8000"/>
<rect x="397.5" y="218.1" width="4.5" height="4.5" fill="#00ffff"/>
<rect x="417.9" y="222.9" width="4.5" height="4.5" fill="#0080ff"/>
<rect x="340.1" y="196.1" width="4.5" height="4.5" fill="#80ff80"/>
<rect x="377.7" y="200.8" width="4.5" height="4.5" fill="#80ff80"/>
<rect x="359.1" y="164.4" width="4.5" height="4.5" fill="#ffff00"/>
<rect x="390.6" y="176.6" width="4.5" height="4.5" fill="#ff8000"/>
<rect x="386.1" y="193.9" width="4.5" height="4.5" fill="#ffff00"/>
<rect x="401.5" y="220.8" width="4.5" height="4.5" fill="#00ffff"/>
<rect x="413.7" y="219.1" width="4.5" height="4.5" fill="#00ffff"/>
<rect x="382.2" y="205.3" width="4.5" height="4.5" fill="#00ffff"/>
<rect x="338.0" y="127.4" width="4.5" height="4.5" fill="#ff8000"/>
<rect x="462.9" y="207.1" width="4.5" height="4.5" fill="#ffff00"/>
<rect x="344.1" y="157.9" width="4.5" height="4.5" fill="#ffff00"/>
<rect x="395.3" y="210.3" width="4.5" height="4.5" fill="#00ffff"/>
<rect x="355.2" y="122.1" width="4.5" height="4.5" fill="#ff8000"/>
<rect x="399.6" y="216.5" width="4.5" height="4.5" fill="#80ff80"/>
<rect x="337.9" y="114.3" width="4.5" height="4.5" fill="#ff8000"/>
<rect x="357.0" y="186.8" width="4.5" height="4.5" fill="#80ff80"/>
<rect x="368.5" y="173.9" width="4.5" height="4.5" fill="#ffff00"/>
<rect x="392.4" y="160.7" width="4.5" height="4.5" fill="#ff8000"/>
<rect x="317.8" y="122.8" width="4.5" height="4.5" fill="#ffff00"/>
<rect x="445.7" y="224.4" width="4.5" height="4.5" fill="#00ffff"/>
<rect x="329.2" y="140.8" width="4.5" height="4.5" fill="#ffff00"/>
<rect x="431.4" y="217.8" width="4.5" height="4.5" fill="#80ff80"/>
<rect x="392.7" y="189.2" width="4.5" height="4.5" fill="#80ff80"/>
<rect x="435.3" y="194.1" width="4.5" height="4.5" fill="#ffff00"/>
<rect x="363.5" y="148.5" width="4.5" height="4.5" fill="#ffff00"/>
<rect x="377.9" y="177.3" width="4.5" height="4.5" fill="#ffff00"/>
<rect x="407.8" y="217.8" width="4.5" height="4.5" fill="#00ffff"/>
<rect x="459.1" y="218.9" width="4.5" height="4.5" fill="#80ff80"/>
<rect x="385.8" y="172.9" width="4.5" height="4.5" fill="#ff8000"/>
<rect x="384.7" y="138.6" width="4.5" height="4.5" fill="#ff8000"/>
<rect x="337.5" y="182.5" width="4.5" height="4.5" fill="#80ff80"/>
<rect x="385.7" y="171.4" width="4.5" height="4.5" fill="#ff8000"/>
<rect x="384.5" y="163.2" width="4.5" height="4.5" fill="#ff8000"/>
<rect x="398.6" y="178.1" width="4.5" height="4.5" fill="#ffff00"/>
<rect x="415.6" y="184.4" width="4.5" height="4.5" fill="#ff8000"/>
<rect x="434.6" y="196.6" width="4.5" height="4.5" fill="#ff8000"/>
<rect x="391.2" y="204.0" width="4.5" height="4.5" fill="#80ff80"/>
<rect x="374.4" y="163.1" width="4.5" height="4.5" fill="#ff8000"/>
<rect x="387.9" y="174.0" width="4.5" height="4.5" fill="#ffff00"/>
<rect x="323.9" y="141.2" width="4.5" height="4.5" fill="#ffff00"/>
<rect x="382.6" y="166.9" width="4.5" height="4.5" fill="#ffff00"/>
<rect x="412.9" y="174.9" width="4.5" height="4.5" fill="#ff8000"/>
<rect x="322.3" y="112.1" width="4.5" height="4.5" fill="#ffff00"/>
<rect x="430.3" y="215.7" width="4.5" height="4.5" fill="#80ff80"/>
<rect x="359.6" y="141.3" width="4.5" height="4.5" fill="#ffff00"/>
<rect x="470.2" y="217.2" width="4.5" height="4.5" fill="#ffff00"/>
<rect x="383.7" y="197.7" width="4.5" height="4.5" fill="#ffff00"/>
<rect x="437.1" y="206.7" width="4.5" height="4.5" fill="#ff8000"/>
<rect x="390.9" y="197.0" width="4.5" height="4.5" fill="#80ff80"/>
<rect x="427.6" y="204.8" width="4.5" height="4.5" fill="#ff8000"/>
<rect x="343.1" y="141.9" width="4.5" height="4.5" fill="#ffff00"/>
<rect x="317.6" y="104.9" width="4.5" height="4.5" fill="#ff8000"/>
<rect x="380.2" y="196.3" width="4.5" height="4.5" fill="#ffff00"/>
<rect x="395.0" y="205.5" width="4.5" height="4.5" fill="#ffff00"/>
<rect x="412.9" y="213.2" width="4.5" height="4.5" fill="#00ffff"/>
<rect x="380.1" y="185.1" width="4.5" height="4.5" fill="#ffff00"/>
<rect x="395.2" y="189.4" width="4.5" height="4.5" fill="#ffff00"/>
<rect x="438.5" y="211.5" width="4.5" height="4.5" fill="#ffff00"/>
<rect x="364.8" y="124.1" width="4.5" height="4.5" fill="#ff8000"/>
<rect x="360.1" y="189.2" width="4.5" height="4.5" fill="#80ff80"/>
<rect x="358.7" y="157.2" width="4.5" height="4.5" fill="#ffff00"/>
<rect x="394.6" y="166.9" width="4.5" height="4.5" fill="#ffff00"/>
<rect x="431.7" y="184.9" width="4.5" height="4.5" fill="#ffff00"/>
<rect x="434.8" y="226.8" width="4.5" height="4.5" fill="#80ff80"/>
<rect x="330.6" y="133.9" width="4.5" height="4.5" fill="#ffff00"/>
<rect x="470.2" y="225.2" width="4.5" height="4.5" fill="#0080ff"/>
<rect x="455.4" y="61.5" width="4.5" height="4.5" fill="#ff8000"/>
<rect x="359.4" y="104.5" width="4.5" height="4.5" fill="#ff8000"/>
<rect x="373.3" y="195.0" width="4.5" height="4.5" fill="#80ff80"/>
<rect x="405.7" y="218.8" width="4.5" height="4.5" fill="#00ffff"/>
<rect x="383.2" y="197.0" width="4.5" height="4.5" fill="#80ff80"/>
<rect x="419.3" y="214.1" width="4.5" height="4.5" fill="#80ff80"/>
<rect x="315.3" y="165.4" width="4.5" height="4.5" fill="#ffff00"/>
</g>
<g fill="none" stroke-linejoin="round" stroke-linecap="butt" clip-path="url(#cp1)">
<path d="M305.0 111.5 L311.6 119.8 L316.5 124.0 L324.8 132.0 L333.0 139.5 L344.5 153.2 L354.4 161.4 L362.7 168.8 L370.9 176.2 L377.1 180.5 L386.2 188.2 L394.4 195.7 L402.7 203.1 L409.3 208.8 L411.0 210.5" stroke="#2f8f2f" stroke-width="0.9"/>
<path d="M316.5 107.4 L324.8 109.4 L333.0 111.5 L339.6 114.0 L344.5 118.1 L351.1 124.7 L357.7 131.3 L364.3 137.9 L370.1 144.0 L374.2 149.1 L382.4 158.9 L390.7 169.7 L398.9 177.1 L403.5 180.5 L410.9 184.9 L419.1 189.9 L427.4 194.0 L437.3 198.1 L447.1 201.4 L457.0 204.4 L465.0 206.4 L469.5 208.0" stroke="#00beff" stroke-width="2.7"/>
<path d="M341.0 115.2 L344.5 118.1 L351.1 124.7 L357.7 131.3 L364.3 137.9 L370.1 144.0 L374.2 149.1 L382.4 158.9 L390.7 169.7 L398.9 177.1 L403.5 180.5 L410.9 184.9 L419.1 189.9 L427.4 194.0 L437.3 198.1 L447.1 201.4 L457.0 204.4 L465.0 206.4 L469.5 208.0" stroke="#4a3a66" stroke-width="0.8" transform="translate(0.45 -0.45)"/>
<path d="M316.5 124.7 L324.8 132.9 L333.0 140.4 L341.2 149.1 L351.1 157.3 L361.0 164.7 L370.9 172.1 L380.8 178.7 L384.5 180.5 L394.4 186.6 L402.7 192.4 L410.9 197.3 L419.1 200.6 L427.4 203.1 L437.3 206.4 L447.1 209.3 L457.0 212.1 L466.3 214.5" stroke="#4068ee" stroke-width="2.5"/>
<path d="M314.1 155.7 L321.5 157.8 L329.7 160.6 L336.3 164.7 L342.9 171.5 L349.5 178.2 L351.6 180.0 L361.5 187.4 L369.7 194.0 L377.9 198.9 L386.2 203.1 L394.4 206.4 L402.7 208.8 L410.9 211.0 L419.1 212.6 L427.4 214.1 L437.3 215.4 L447.1 217.1 L457.0 219.5 L465.0 222.0 L471.4 224.7" stroke="#0b0b7c" stroke-width="2.6"/>
<path d="M323.1 105.8 L329.7 106.1 L336.3 109.1 L341.2 113.5 L345.5 117.8 L351.9 124.0 L358.5 130.6 L365.1 137.2" stroke="#e02020" stroke-width="0.8"/>
<path d="M321.5 156.8 L329.7 159.6 L336.3 163.5 L342.9 170.3 L349.5 177.0 L361.5 186.2 L369.7 192.8 L377.9 197.7" stroke="#e02020" stroke-width="0.8"/>
<path d="M457.0 203.6 L465.0 205.8 L469.5 207.4 L472.5 210.5" stroke="#e02020" stroke-width="0.8"/>
</g>
<rect x="304.7" y="57.6" width="179.8" height="180.4" fill="none" stroke="#000" stroke-width="2.1"/>
<path d="M364.59999999999997 57.6v7.2M364.59999999999997 238v-7.2M424.6 57.6v7.2M424.6 238v-7.2M304.7 109.1h7.2M484.5 109.1h-7.2M304.7 160.7h7.2M484.5 160.7h-7.2M304.7 212.2h7.2M484.5 212.2h-7.2" stroke="#000" stroke-width="2.1"/>
<rect x="553.2" y="14.0" width="36.2" height="24.9" fill="#0080ff"/>
<rect x="589.2" y="14.0" width="36.2" height="24.9" fill="#00ffff"/>
<rect x="625.2" y="14.0" width="36.2" height="24.9" fill="#80ff80"/>
<rect x="661.2" y="14.0" width="36.2" height="24.9" fill="#ffff00"/>
<rect x="697.2" y="14.0" width="36.2" height="24.9" fill="#ff8000"/>
<rect x="553.2" y="14.0" width="180" height="24.9" fill="none" stroke="#000" stroke-opacity="0.45" stroke-width="0.7"/>
<path d="M571.2 14.0v2M571.2 38.9v-2" stroke="#000" stroke-width="0.7"/>
<path d="M607.2 14.0v2M607.2 38.9v-2" stroke="#000" stroke-width="0.7"/>
<path d="M643.2 14.0v2M643.2 38.9v-2" stroke="#000" stroke-width="0.7"/>
<path d="M679.2 14.0v2M679.2 38.9v-2" stroke="#000" stroke-width="0.7"/>
<path d="M715.2 14.0v2M715.2 38.9v-2" stroke="#000" stroke-width="0.7"/>
<g clip-path="url(#cp2)" shape-rendering="auto">
<rect x="642.7" y="175.6" width="4.5" height="4.5" fill="#ffff00"/>
<rect x="616.1" y="175.4" width="4.5" height="4.5" fill="#ffff00"/>
<rect x="655.0" y="199.7" width="4.5" height="4.5" fill="#ffff00"/>
<rect x="639.8" y="156.5" width="4.5" height="4.5" fill="#ff8000"/>
<rect x="604.2" y="179.6" width="4.5" height="4.5" fill="#ffff00"/>
<rect x="670.5" y="185.5" width="4.5" height="4.5" fill="#ffff00"/>
<rect x="672.4" y="204.5" width="4.5" height="4.5" fill="#ff8000"/>
<rect x="633.4" y="176.4" width="4.5" height="4.5" fill="#ffff00"/>
<rect x="604.2" y="190.0" width="4.5" height="4.5" fill="#00ffff"/>
<rect x="589.6" y="160.2" width="4.5" height="4.5" fill="#ffff00"/>
<rect x="650.4" y="188.5" width="4.5" height="4.5" fill="#ffff00"/>
<rect x="634.7" y="205.1" width="4.5" height="4.5" fill="#80ff80"/>
<rect x="608.9" y="190.4" width="4.5" height="4.5" fill="#ffff00"/>
<rect x="569.9" y="71.5" width="4.5" height="4.5" fill="#ff8000"/>
<rect x="608.9" y="144.3" width="4.5" height="4.5" fill="#ff8000"/>
<rect x="632.1" y="219.1" width="4.5" height="4.5" fill="#0080ff"/>
<rect x="611.2" y="109.8" width="4.5" height="4.5" fill="#ff8000"/>
<rect x="633.5" y="141.2" width="4.5" height="4.5" fill="#ff8000"/>
<rect x="629.4" y="210.8" width="4.5" height="4.5" fill="#80ff80"/>
<rect x="676.4" y="210.8" width="4.5" height="4.5" fill="#80ff80"/>
<rect x="586.1" y="128.4" width="4.5" height="4.5" fill="#ff8000"/>
<rect x="622.0" y="162.2" width="4.5" height="4.5" fill="#ffff00"/>
<rect x="646.7" y="172.9" width="4.5" height="4.5" fill="#ffff00"/>
<rect x="608.4" y="192.0" width="4.5" height="4.5" fill="#80ff80"/>
<rect x="597.0" y="146.2" width="4.5" height="4.5" fill="#ffff00"/>
<rect x="628.9" y="159.3" width="4.5" height="4.5" fill="#ffff00"/>
<rect x="571.6" y="55.5" width="4.5" height="4.5" fill="#ff8000"/>
<rect x="683.9" y="224.3" width="4.5" height="4.5" fill="#80ff80"/>
<rect x="689.3" y="210.6" width="4.5" height="4.5" fill="#80ff80"/>
<rect x="675.6" y="210.1" width="4.5" height="4.5" fill="#80ff80"/>
<rect x="643.3" y="147.8" width="4.5" height="4.5" fill="#ff8000"/>
<rect x="669.7" y="190.3" width="4.5" height="4.5" fill="#ff8000"/>
<rect x="591.2" y="164.9" width="4.5" height="4.5" fill="#ffff00"/>
<rect x="654.2" y="210.6" width="4.5" height="4.5" fill="#80ff80"/>
<rect x="580.4" y="153.2" width="4.5" height="4.5" fill="#ffff00"/>
<rect x="558.9" y="108.7" width="4.5" height="4.5" fill="#ffff00"/>
<rect x="642.0" y="196.0" width="4.5" height="4.5" fill="#80ff80"/>
<rect x="586.1" y="127.1" width="4.5" height="4.5" fill="#ffff00"/>
<rect x="643.1" y="165.0" width="4.5" height="4.5" fill="#ff8000"/>
<rect x="575.7" y="164.1" width="4.5" height="4.5" fill="#80ff80"/>
<rect x="690.0" y="201.2" width="4.5" height="4.5" fill="#ffff00"/>
<rect x="606.2" y="203.8" width="4.5" height="4.5" fill="#80ff80"/>
<rect x="658.9" y="177.5" width="4.5" height="4.5" fill="#ff8000"/>
<rect x="692.4" y="199.3" width="4.5" height="4.5" fill="#ff8000"/>
<rect x="644.2" y="165.3" width="4.5" height="4.5" fill="#ff8000"/>
<rect x="567.3" y="98.3" width="4.5" height="4.5" fill="#ff8000"/>
<rect x="585.6" y="201.7" width="4.5" height="4.5" fill="#80ff80"/>
<rect x="648.2" y="214.7" width="4.5" height="4.5" fill="#00ffff"/>
<rect x="642.6" y="202.8" width="4.5" height="4.5" fill="#80ff80"/>
<rect x="609.7" y="159.9" width="4.5" height="4.5" fill="#ff8000"/>
<rect x="629.7" y="151.8" width="4.5" height="4.5" fill="#ff8000"/>
<rect x="601.9" y="123.3" width="4.5" height="4.5" fill="#ff8000"/>
<rect x="596.3" y="159.8" width="4.5" height="4.5" fill="#ffff00"/>
<rect x="593.1" y="168.2" width="4.5" height="4.5" fill="#ffff00"/>
<rect x="622.9" y="155.5" width="4.5" height="4.5" fill="#ff8000"/>
<rect x="646.1" y="185.0" width="4.5" height="4.5" fill="#ff8000"/>
<rect x="638.2" y="176.5" width="4.5" height="4.5" fill="#ffff00"/>
<rect x="657.3" y="213.2" width="4.5" height="4.5" fill="#00ffff"/>
<rect x="615.5" y="139.7" width="4.5" height="4.5" fill="#ff8000"/>
<rect x="664.2" y="195.6" width="4.5" height="4.5" fill="#ff8000"/>
<rect x="687.1" y="213.6" width="4.5" height="4.5" fill="#80ff80"/>
<rect x="653.9" y="210.2" width="4.5" height="4.5" fill="#80ff80"/>
<rect x="664.7" y="226.8" width="4.5" height="4.5" fill="#00ffff"/>
<rect x="653.8" y="181.4" width="4.5" height="4.5" fill="#ff8000"/>
<rect x="631.3" y="165.3" width="4.5" height="4.5" fill="#ffff00"/>
<rect x="702.6" y="203.9" width="4.5" height="4.5" fill="#80ff80"/>
<rect x="683.6" y="204.6" width="4.5" height="4.5" fill="#ff8000"/>
<rect x="653.0" y="218.4" width="4.5" height="4.5" fill="#00ffff"/>
<rect x="618.3" y="161.3" width="4.5" height="4.5" fill="#ff8000"/>
<rect x="673.0" y="169.6" width="4.5" height="4.5" fill="#ff8000"/>
<rect x="653.6" y="204.4" width="4.5" height="4.5" fill="#80ff80"/>
<rect x="673.6" y="210.6" width="4.5" height="4.5" fill="#ffff00"/>
<rect x="682.8" y="225.7" width="4.5" height="4.5" fill="#80ff80"/>
<rect x="607.6" y="161.5" width="4.5" height="4.5" fill="#ff8000"/>
<rect x="568.7" y="142.1" width="4.5" height="4.5" fill="#ffff00"/>
<rect x="688.8" y="227.2" width="4.5" height="4.5" fill="#0080ff"/>
<rect x="627.2" y="232.9" width="4.5" height="4.5" fill="#0080ff"/>
<rect x="644.8" y="169.4" width="4.5" height="4.5" fill="#ff8000"/>
<rect x="680.7" y="220.6" width="4.5" height="4.5" fill="#ffff00"/>
<rect x="696.2" y="221.2" width="4.5" height="4.5" fill="#ff8000"/>
<rect x="584.0" y="107.2" width="4.5" height="4.5" fill="#ff8000"/>
<rect x="647.4" y="187.9" width="4.5" height="4.5" fill="#ff8000"/>
<rect x="642.9" y="192.2" width="4.5" height="4.5" fill="#ffff00"/>
<rect x="720.2" y="211.8" width="4.5" height="4.5" fill="#ffff00"/>
<rect x="684.1" y="227.6" width="4.5" height="4.5" fill="#00ffff"/>
<rect x="617.1" y="201.6" width="4.5" height="4.5" fill="#80ff80"/>
<rect x="661.1" y="216.7" width="4.5" height="4.5" fill="#80ff80"/>
<rect x="608.2" y="150.5" width="4.5" height="4.5" fill="#ff8000"/>
<rect x="647.0" y="184.1" width="4.5" height="4.5" fill="#ffff00"/>
<rect x="621.0" y="154.1" width="4.5" height="4.5" fill="#ffff00"/>
<rect x="594.0" y="114.5" width="4.5" height="4.5" fill="#ff8000"/>
<rect x="662.0" y="221.3" width="4.5" height="4.5" fill="#00ffff"/>
<rect x="641.4" y="198.0" width="4.5" height="4.5" fill="#ffff00"/>
<rect x="615.5" y="161.1" width="4.5" height="4.5" fill="#ff8000"/>
<rect x="694.0" y="217.4" width="4.5" height="4.5" fill="#80ff80"/>
<rect x="664.2" y="219.5" width="4.5" height="4.5" fill="#00ffff"/>
<rect x="650.0" y="204.8" width="4.5" height="4.5" fill="#ffff00"/>
<rect x="605.6" y="145.3" width="4.5" height="4.5" fill="#ffff00"/>
<rect x="562.4" y="134.3" width="4.5" height="4.5" fill="#ffff00"/>
<rect x="606.0" y="151.3" width="4.5" height="4.5" fill="#ffff00"/>
<rect x="654.5" y="224.0" width="4.5" height="4.5" fill="#ffff00"/>
<rect x="675.4" y="207.8" width="4.5" height="4.5" fill="#80ff80"/>
<rect x="590.5" y="118.4" width="4.5" height="4.5" fill="#ff8000"/>
<rect x="630.5" y="167.9" width="4.5" height="4.5" fill="#ff8000"/>
<rect x="616.5" y="146.8" width="4.5" height="4.5" fill="#ff8000"/>
<rect x="613.1" y="153.4" width="4.5" height="4.5" fill="#ffff00"/>
<rect x="559.0" y="174.2" width="4.5" height="4.5" fill="#ff8000"/>
<rect x="563.4" y="120.0" width="4.5" height="4.5" fill="#ffff00"/>
<rect x="656.5" y="205.0" width="4.5" height="4.5" fill="#80ff80"/>
<rect x="577.3" y="132.4" width="4.5" height="4.5" fill="#ff8000"/>
<rect x="667.3" y="218.0" width="4.5" height="4.5" fill="#80ff80"/>
<rect x="604.0" y="153.2" width="4.5" height="4.5" fill="#ff8000"/>
<rect x="646.6" y="226.3" width="4.5" height="4.5" fill="#ffff00"/>
<rect x="654.6" y="169.3" width="4.5" height="4.5" fill="#ff8000"/>
<rect x="655.8" y="206.1" width="4.5" height="4.5" fill="#ffff00"/>
<rect x="579.0" y="98.2" width="4.5" height="4.5" fill="#ff8000"/>
<rect x="625.5" y="164.9" width="4.5" height="4.5" fill="#ff8000"/>
<rect x="641.6" y="138.2" width="4.5" height="4.5" fill="#ff8000"/>
<rect x="583.7" y="100.4" width="4.5" height="4.5" fill="#ff8000"/>
<rect x="619.2" y="139.0" width="4.5" height="4.5" fill="#ff8000"/>
<rect x="634.9" y="195.1" width="4.5" height="4.5" fill="#80ff80"/>
<rect x="671.5" y="212.6" width="4.5" height="4.5" fill="#00ffff"/>
<rect x="664.8" y="183.8" width="4.5" height="4.5" fill="#ffff00"/>
<rect x="609.5" y="151.6" width="4.5" height="4.5" fill="#ff8000"/>
<rect x="668.7" y="197.6" width="4.5" height="4.5" fill="#ffff00"/>
<rect x="609.5" y="75.3" width="4.5" height="4.5" fill="#ff8000"/>
<rect x="645.5" y="188.6" width="4.5" height="4.5" fill="#ffff00"/>
<rect x="591.4" y="108.1" width="4.5" height="4.5" fill="#ff8000"/>
<rect x="642.5" y="181.5" width="4.5" height="4.5" fill="#ffff00"/>
<rect x="567.2" y="89.0" width="4.5" height="4.5" fill="#ffff00"/>
<rect x="700.7" y="214.6" width="4.5" height="4.5" fill="#00ffff"/>
<rect x="630.0" y="201.3" width="4.5" height="4.5" fill="#80ff80"/>
<rect x="636.6" y="188.8" width="4.5" height="4.5" fill="#ffff00"/>
<rect x="663.8" y="218.7" width="4.5" height="4.5" fill="#00ffff"/>
<rect x="585.2" y="110.8" width="4.5" height="4.5" fill="#ff8000"/>
<rect x="610.5" y="147.8" width="4.5" height="4.5" fill="#ff8000"/>
<rect x="662.4" y="209.9" width="4.5" height="4.5" fill="#ffff00"/>
<rect x="665.1" y="208.3" width="4.5" height="4.5" fill="#ffff00"/>
<rect x="653.1" y="201.3" width="4.5" height="4.5" fill="#ffff00"/>
<rect x="644.0" y="200.0" width="4.5" height="4.5" fill="#ffff00"/>
<rect x="653.4" y="170.7" width="4.5" height="4.5" fill="#ffff00"/>
<rect x="616.7" y="157.2" width="4.5" height="4.5" fill="#ffff00"/>
<rect x="619.7" y="153.4" width="4.5" height="4.5" fill="#ffff00"/>
<rect x="645.3" y="177.9" width="4.5" height="4.5" fill="#ff8000"/>
<rect x="682.2" y="219.5" width="4.5" height="4.5" fill="#ff8000"/>
<rect x="650.3" y="173.3" width="4.5" height="4.5" fill="#ff8000"/>
<rect x="631.7" y="207.8" width="4.5" height="4.5" fill="#00ffff"/>
<rect x="643.7" y="163.3" width="4.5" height="4.5" fill="#ff8000"/>
<rect x="603.5" y="162.5" width="4.5" height="4.5" fill="#ffff00"/>
<rect x="590.6" y="157.5" width="4.5" height="4.5" fill="#ffff00"/>
<rect x="597.1" y="120.2" width="4.5" height="4.5" fill="#ff8000"/>
<rect x="587.7" y="154.7" width="4.5" height="4.5" fill="#ffff00"/>
<rect x="577.8" y="123.7" width="4.5" height="4.5" fill="#ffff00"/>
<rect x="646.6" y="168.0" width="4.5" height="4.5" fill="#ff8000"/>
<rect x="585.0" y="131.1" width="4.5" height="4.5" fill="#ffff00"/>
<rect x="633.5" y="208.2" width="4.5" height="4.5" fill="#00ffff"/>
<rect x="607.5" y="128.3" width="4.5" height="4.5" fill="#ff8000"/>
<rect x="681.9" y="192.6" width="4.5" height="4.5" fill="#ffff00"/>
<rect x="632.9" y="179.0" width="4.5" height="4.5" fill="#ffff00"/>
<rect x="662.7" y="194.4" width="4.5" height="4.5" fill="#ff8000"/>
<rect x="696.6" y="221.6" width="4.5" height="4.5" fill="#80ff80"/>
<rect x="634.7" y="218.0" width="4.5" height="4.5" fill="#ff8000"/>
<rect x="617.8" y="205.6" width="4.5" height="4.5" fill="#80ff80"/>
<rect x="639.5" y="175.8" width="4.5" height="4.5" fill="#ff8000"/>
<rect x="646.4" y="220.8" width="4.5" height="4.5" fill="#00ffff"/>
<rect x="700.0" y="193.3" width="4.5" height="4.5" fill="#ff8000"/>
<rect x="584.0" y="127.5" width="4.5" height="4.5" fill="#ff8000"/>
<rect x="670.0" y="210.2" width="4.5" height="4.5" fill="#00ffff"/>
<rect x="629.7" y="204.4" width="4.5" height="4.5" fill="#00ffff"/>
<rect x="613.8" y="142.7" width="4.5" height="4.5" fill="#ff8000"/>
<rect x="591.9" y="80.8" width="4.5" height="4.5" fill="#ff8000"/>
<rect x="674.1" y="212.0" width="4.5" height="4.5" fill="#80ff80"/>
<rect x="658.3" y="201.2" width="4.5" height="4.5" fill="#ffff00"/>
<rect x="649.3" y="174.4" width="4.5" height="4.5" fill="#ff8000"/>
<rect x="646.4" y="200.4" width="4.5" height="4.5" fill="#ffff00"/>
<rect x="601.7" y="154.2" width="4.5" height="4.5" fill="#ffff00"/>
<rect x="589.8" y="156.2" width="4.5" height="4.5" fill="#ffff00"/>
<rect x="649.6" y="171.6" width="4.5" height="4.5" fill="#ffff00"/>
<rect x="589.9" y="150.2" width="4.5" height="4.5" fill="#ffff00"/>
<rect x="573.8" y="111.0" width="4.5" height="4.5" fill="#ff8000"/>
<rect x="622.8" y="212.2" width="4.5" height="4.5" fill="#80ff80"/>
<rect x="648.7" y="169.1" width="4.5" height="4.5" fill="#ff8000"/>
<rect x="660.9" y="184.3" width="4.5" height="4.5" fill="#ff8000"/>
<rect x="628.4" y="169.9" width="4.5" height="4.5" fill="#ff8000"/>
<rect x="661.0" y="205.5" width="4.5" height="4.5" fill="#ffff00"/>
<rect x="650.7" y="215.9" width="4.5" height="4.5" fill="#00ffff"/>
<rect x="649.8" y="195.3" width="4.5" height="4.5" fill="#ff8000"/>
<rect x="582.8" y="58.6" width="4.5" height="4.5" fill="#ff8000"/>
<rect x="688.7" y="211.1" width="4.5" height="4.5" fill="#80ff80"/>
<rect x="639.1" y="182.3" width="4.5" height="4.5" fill="#ffff00"/>
<rect x="638.7" y="204.3" width="4.5" height="4.5" fill="#80ff80"/>
<rect x="711.3" y="195.2" width="4.5" height="4.5" fill="#ffff00"/>
<rect x="625.0" y="162.2" width="4.5" height="4.5" fill="#ff8000"/>
<rect x="698.0" y="196.1" width="4.5" height="4.5" fill="#ffff00"/>
<rect x="620.8" y="211.8" width="4.5" height="4.5" fill="#ff8000"/>
<rect x="677.2" y="183.1" width="4.5" height="4.5" fill="#ffff00"/>
<rect x="711.0" y="219.3" width="4.5" height="4.5" fill="#ffff00"/>
<rect x="607.0" y="135.9" width="4.5" height="4.5" fill="#ff8000"/>
<rect x="663.5" y="198.4" width="4.5" height="4.5" fill="#ff8000"/>
<rect x="655.8" y="193.7" width="4.5" height="4.5" fill="#ffff00"/>
<rect x="691.1" y="228.0" width="4.5" height="4.5" fill="#0080ff"/>
<rect x="628.7" y="213.8" width="4.5" height="4.5" fill="#ffff00"/>
<rect x="688.8" y="218.0" width="4.5" height="4.5" fill="#80ff80"/>
<rect x="598.9" y="157.0" width="4.5" height="4.5" fill="#ffff00"/>
<rect x="640.2" y="183.9" width="4.5" height="4.5" fill="#ffff00"/>
<rect x="648.2" y="179.9" width="4.5" height="4.5" fill="#ff8000"/>
<rect x="554.4" y="103.2" width="4.5" height="4.5" fill="#ffff00"/>
<rect x="609.5" y="191.0" width="4.5" height="4.5" fill="#80ff80"/>
<rect x="661.0" y="206.4" width="4.5" height="4.5" fill="#ffff00"/>
<rect x="572.9" y="171.6" width="4.5" height="4.5" fill="#80ff80"/>
<rect x="674.7" y="205.2" width="4.5" height="4.5" fill="#ffff00"/>
<rect x="603.9" y="146.9" width="4.5" height="4.5" fill="#ff8000"/>
<rect x="655.9" y="227.2" width="4.5" height="4.5" fill="#00ffff"/>
<rect x="629.7" y="165.2" width="4.5" height="4.5" fill="#ffff00"/>
<rect x="653.6" y="195.1" width="4.5" height="4.5" fill="#ffff00"/>
<rect x="558.2" y="80.8" width="4.5" height="4.5" fill="#ff8000"/>
<rect x="612.0" y="139.2" width="4.5" height="4.5" fill="#ff8000"/>
<rect x="654.2" y="210.7" width="4.5" height="4.5" fill="#ffff00"/>
<rect x="568.5" y="141.9" width="4.5" height="4.5" fill="#ffff00"/>
<rect x="654.5" y="179.6" width="4.5" height="4.5" fill="#ffff00"/>
<rect x="667.5" y="208.3" width="4.5" height="4.5" fill="#80ff80"/>
<rect x="720.2" y="227.2" width="4.5" height="4.5" fill="#0080ff"/>
<rect x="568.5" y="103.2" width="4.5" height="4.5" fill="#ff8000"/>
<rect x="663.7" y="189.1" width="4.5" height="4.5" fill="#ff8000"/>
<rect x="654.4" y="176.0" width="4.5" height="4.5" fill="#ffff00"/>
<rect x="676.9" y="199.7" width="4.5" height="4.5" fill="#ff8000"/>
<rect x="623.3" y="168.3" width="4.5" height="4.5" fill="#ffff00"/>
<rect x="641.0" y="214.3" width="4.5" height="4.5" fill="#00ffff"/>
<rect x="663.5" y="220.8" width="4.5" height="4.5" fill="#80ff80"/>
<rect x="654.7" y="215.1" width="4.5" height="4.5" fill="#00ffff"/>
<rect x="596.7" y="155.7" width="4.5" height="4.5" fill="#80ff80"/>
<rect x="606.5" y="193.8" width="4.5" height="4.5" fill="#80ff80"/>
<rect x="568.2" y="177.4" width="4.5" height="4.5" fill="#ffff00"/>
<rect x="598.5" y="158.4" width="4.5" height="4.5" fill="#ffff00"/>
<rect x="654.5" y="218.8" width="4.5" height="4.5" fill="#00ffff"/>
<rect x="608.9" y="111.7" width="4.5" height="4.5" fill="#ff8000"/>
<rect x="663.7" y="197.6" width="4.5" height="4.5" fill="#ff8000"/>
<rect x="666.7" y="196.4" width="4.5" height="4.5" fill="#ffff00"/>
<rect x="660.4" y="206.1" width="4.5" height="4.5" fill="#ffff00"/>
<rect x="645.1" y="191.5" width="4.5" height="4.5" fill="#ffff00"/>
<rect x="632.9" y="146.0" width="4.5" height="4.5" fill="#ff8000"/>
<rect x="650.9" y="203.0" width="4.5" height="4.5" fill="#80ff80"/>
<rect x="603.6" y="185.8" width="4.5" height="4.5" fill="#00ffff"/>
<rect x="558.2" y="108.5" width="4.5" height="4.5" fill="#ffff00"/>
<rect x="623.6" y="180.6" width="4.5" height="4.5" fill="#ffff00"/>
<rect x="663.0" y="187.7" width="4.5" height="4.5" fill="#ff8000"/>
<rect x="636.6" y="192.1" width="4.5" height="4.5" fill="#ffff00"/>
<rect x="630.0" y="183.9" width="4.5" height="4.5" fill="#ff8000"/>
<rect x="658.5" y="220.8" width="4.5" height="4.5" fill="#80ff80"/>
<rect x="657.5" y="225.8" width="4.5" height="4.5" fill="#00ffff"/>
<rect x="653.6" y="214.1" width="4.5" height="4.5" fill="#80ff80"/>
<rect x="607.4" y="135.4" width="4.5" height="4.5" fill="#ff8000"/>
<rect x="609.7" y="173.4" width="4.5" height="4.5" fill="#ffff00"/>
<rect x="678.5" y="208.5" width="4.5" height="4.5" fill="#80ff80"/>
<rect x="601.9" y="164.6" width="4.5" height="4.5" fill="#ffff00"/>
<rect x="653.5" y="194.2" width="4.5" height="4.5" fill="#ffff00"/>
<rect x="619.2" y="197.6" width="4.5" height="4.5" fill="#80ff80"/>
<rect x="659.8" y="197.9" width="4.5" height="4.5" fill="#ffff00"/>
<rect x="596.8" y="120.8" width="4.5" height="4.5" fill="#ff8000"/>
<rect x="673.2" y="205.8" width="4.5" height="4.5" fill="#ff8000"/>
<rect x="637.3" y="212.9" width="4.5" height="4.5" fill="#00ffff"/>
<rect x="660.8" y="233.4" width="4.5" height="4.5" fill="#0080ff"/>
<rect x="634.7" y="190.4" width="4.5" height="4.5" fill="#ffff00"/>
<rect x="602.9" y="148.5" width="4.5" height="4.5" fill="#ffff00"/>
<rect x="591.4" y="80.8" width="4.5" height="4.5" fill="#ff8000"/>
<rect x="689.4" y="224.1" width="4.5" height="4.5" fill="#ffff00"/>
<rect x="686.3" y="224.7" width="4.5" height="4.5" fill="#00ffff"/>
<rect x="615.5" y="171.0" width="4.5" height="4.5" fill="#ffff00"/>
<rect x="636.2" y="177.1" width="4.5" height="4.5" fill="#ff8000"/>
<rect x="696.7" y="221.6" width="4.5" height="4.5" fill="#ff8000"/>
<rect x="638.0" y="191.3" width="4.5" height="4.5" fill="#80ff80"/>
<rect x="645.4" y="184.5" width="4.5" height="4.5" fill="#ff8000"/>
<rect x="579.0" y="113.7" width="4.5" height="4.5" fill="#ffff00"/>
<rect x="657.1" y="195.4" width="4.5" height="4.5" fill="#ff8000"/>
<rect x="609.1" y="183.8" width="4.5" height="4.5" fill="#80ff80"/>
<rect x="567.9" y="94.0" width="4.5" height="4.5" fill="#ff8000"/>
<rect x="594.2" y="141.5" width="4.5" height="4.5" fill="#ffff00"/>
<rect x="562.1" y="132.0" width="4.5" height="4.5" fill="#ffff00"/>
<rect x="620.7" y="140.8" width="4.5" height="4.5" fill="#ff8000"/>
<rect x="634.0" y="182.4" width="4.5" height="4.5" fill="#ffff00"/>
<rect x="580.5" y="143.5" width="4.5" height="4.5" fill="#ffff00"/>
<rect x="648.6" y="214.5" width="4.5" height="4.5" fill="#00ffff"/>
<rect x="629.6" y="190.5" width="4.5" height="4.5" fill="#80ff80"/>
<rect x="613.1" y="171.9" width="4.5" height="4.5" fill="#ffff00"/>
<rect x="626.7" y="208.3" width="4.5" height="4.5" fill="#00ffff"/>
<rect x="635.2" y="172.8" width="4.5" height="4.5" fill="#ff8000"/>
<rect x="665.7" y="192.0" width="4.5" height="4.5" fill="#ff8000"/>
<rect x="590.8" y="119.7" width="4.5" height="4.5" fill="#ff8000"/>
<rect x="588.3" y="162.1" width="4.5" height="4.5" fill="#80ff80"/>
<rect x="646.9" y="201.8" width="4.5" height="4.5" fill="#80ff80"/>
<rect x="650.3" y="223.4" width="4.5" height="4.5" fill="#00ffff"/>
<rect x="591.7" y="128.4" width="4.5" height="4.5" fill="#ff8000"/>
<rect x="605.9" y="158.3" width="4.5" height="4.5" fill="#ff8000"/>
<rect x="629.8" y="226.9" width="4.5" height="4.5" fill="#ffff00"/>
<rect x="620.5" y="199.9" width="4.5" height="4.5" fill="#80ff80"/>
<rect x="591.4" y="158.4" width="4.5" height="4.5" fill="#ffff00"/>
<rect x="562.5" y="159.9" width="4.5" height="4.5" fill="#80ff80"/>
<rect x="600.7" y="155.5" width="4.5" height="4.5" fill="#ffff00"/>
<rect x="589.8" y="186.7" width="4.5" height="4.5" fill="#ff8000"/>
<rect x="653.9" y="191.8" width="4.5" height="4.5" fill="#ffff00"/>
<rect x="613.4" y="160.3" width="4.5" height="4.5" fill="#ffff00"/>
<rect x="661.9" y="201.3" width="4.5" height="4.5" fill="#ffff00"/>
<rect x="660.9" y="218.4" width="4.5" height="4.5" fill="#00ffff"/>
<rect x="592.8" y="132.8" width="4.5" height="4.5" fill="#ff8000"/>
<rect x="637.6" y="195.2" width="4.5" height="4.5" fill="#ffff00"/>
<rect x="689.8" y="221.2" width="4.5" height="4.5" fill="#80ff80"/>
<rect x="568.4" y="124.7" width="4.5" height="4.5" fill="#ffff00"/>
<rect x="615.0" y="152.4" width="4.5" height="4.5" fill="#ff8000"/>
<rect x="623.4" y="221.3" width="4.5" height="4.5" fill="#80ff80"/>
<rect x="687.8" y="212.7" width="4.5" height="4.5" fill="#ffff00"/>
<rect x="613.6" y="153.7" width="4.5" height="4.5" fill="#ff8000"/>
<rect x="718.5" y="222.9" width="4.5" height="4.5" fill="#80ff80"/>
<rect x="710.5" y="230.6" width="4.5" height="4.5" fill="#ff8000"/>
<rect x="658.0" y="175.8" width="4.5" height="4.5" fill="#ff8000"/>
<rect x="656.4" y="195.2" width="4.5" height="4.5" fill="#ff8000"/>
<rect x="663.5" y="215.4" width="4.5" height="4.5" fill="#80ff80"/>
<rect x="567.2" y="91.2" width="4.5" height="4.5" fill="#ff8000"/>
<rect x="603.9" y="140.5" width="4.5" height="4.5" fill="#ff8000"/>
<rect x="700.6" y="211.9" width="4.5" height="4.5" fill="#ffff00"/>
<rect x="720.2" y="197.2" width="4.5" height="4.5" fill="#ff8000"/>
<rect x="650.8" y="212.6" width="4.5" height="4.5" fill="#80ff80"/>
<rect x="659.3" y="226.8" width="4.5" height="4.5" fill="#00ffff"/>
<rect x="628.0" y="171.7" width="4.5" height="4.5" fill="#ffff00"/>
<rect x="625.9" y="183.9" width="4.5" height="4.5" fill="#ffff00"/>
<rect x="658.5" y="206.4" width="4.5" height="4.5" fill="#80ff80"/>
<rect x="664.9" y="188.5" width="4.5" height="4.5" fill="#ff8000"/>
<rect x="646.8" y="214.2" width="4.5" height="4.5" fill="#00ffff"/>
<rect x="601.7" y="135.9" width="4.5" height="4.5" fill="#ff8000"/>
<rect x="641.8" y="208.2" width="4.5" height="4.5" fill="#80ff80"/>
<rect x="575.8" y="135.5" width="4.5" height="4.5" fill="#ffff00"/>
<rect x="581.5" y="86.5" width="4.5" height="4.5" fill="#ff8000"/>
<rect x="609.7" y="137.6" width="4.5" height="4.5" fill="#ff8000"/>
<rect x="616.7" y="184.1" width="4.5" height="4.5" fill="#80ff80"/>
<rect x="640.6" y="127.5" width="4.5" height="4.5" fill="#ff8000"/>
<rect x="677.4" y="195.1" width="4.5" height="4.5" fill="#ff8000"/>
<rect x="616.4" y="168.7" width="4.5" height="4.5" fill="#ffff00"/>
<rect x="597.7" y="153.8" width="4.5" height="4.5" fill="#ffff00"/>
<rect x="596.1" y="158.0" width="4.5" height="4.5" fill="#ffff00"/>
<rect x="689.7" y="213.0" width="4.5" height="4.5" fill="#80ff80"/>
<rect x="631.5" y="199.5" width="4.5" height="4.5" fill="#80ff80"/>
<rect x="643.8" y="185.7" width="4.5" height="4.5" fill="#ff8000"/>
<rect x="666.6" y="222.7" width="4.5" height="4.5" fill="#80ff80"/>
<rect x="660.8" y="201.1" width="4.5" height="4.5" fill="#ff8000"/>
<rect x="649.9" y="187.2" width="4.5" height="4.5" fill="#ff8000"/>
<rect x="567.2" y="109.8" width="4.5" height="4.5" fill="#ff8000"/>
<rect x="643.0" y="183.9" width="4.5" height="4.5" fill="#ffff00"/>
<rect x="589.2" y="84.0" width="4.5" height="4.5" fill="#ff8000"/>
<rect x="653.5" y="213.8" width="4.5" height="4.5" fill="#80ff80"/>
<rect x="617.0" y="156.3" width="4.5" height="4.5" fill="#ffff00"/>
<rect x="589.2" y="99.7" width="4.5" height="4.5" fill="#ff8000"/>
<rect x="632.0" y="164.4" width="4.5" height="4.5" fill="#ff8000"/>
<rect x="648.0" y="185.2" width="4.5" height="4.5" fill="#ff8000"/>
<rect x="710.9" y="198.4" width="4.5" height="4.5" fill="#ff8000"/>
<rect x="604.5" y="166.2" width="4.5" height="4.5" fill="#ffff00"/>
<rect x="663.8" y="230.3" width="4.5" height="4.5" fill="#0080ff"/>
<rect x="689.2" y="189.1" width="4.5" height="4.5" fill="#ffff00"/>
<rect x="601.0" y="156.7" width="4.5" height="4.5" fill="#ffff00"/>
<rect x="613.5" y="157.7" width="4.5" height="4.5" fill="#ff8000"/>
<rect x="621.0" y="175.7" width="4.5" height="4.5" fill="#ffff00"/>
<rect x="644.0" y="152.1" width="4.5" height="4.5" fill="#ff8000"/>
<rect x="681.7" y="193.3" width="4.5" height="4.5" fill="#ffff00"/>
<rect x="584.9" y="96.7" width="4.5" height="4.5" fill="#ff8000"/>
<rect x="605.6" y="157.8" width="4.5" height="4.5" fill="#ffff00"/>
<rect x="579.1" y="129.9" width="4.5" height="4.5" fill="#ffff00"/>
<rect x="632.6" y="211.6" width="4.5" height="4.5" fill="#00ffff"/>
<rect x="651.6" y="188.7" width="4.5" height="4.5" fill="#ff8000"/>
<rect x="598.6" y="175.9" width="4.5" height="4.5" fill="#ffff00"/>
<rect x="601.4" y="135.3" width="4.5" height="4.5" fill="#ff8000"/>
<rect x="625.4" y="209.3" width="4.5" height="4.5" fill="#00ffff"/>
<rect x="656.0" y="207.0" width="4.5" height="4.5" fill="#80ff80"/>
<rect x="619.4" y="184.9" width="4.5" height="4.5" fill="#80ff80"/>
<rect x="590.7" y="110.9" width="4.5" height="4.5" fill="#ff8000"/>
<rect x="590.5" y="98.2" width="4.5" height="4.5" fill="#ff8000"/>
<rect x="628.6" y="211.4" width="4.5" height="4.5" fill="#0080ff"/>
<rect x="637.0" y="170.7" width="4.5" height="4.5" fill="#ffff00"/>
<rect x="647.5" y="214.8" width="4.5" height="4.5" fill="#00ffff"/>
<rect x="611.9" y="159.5" width="4.5" height="4.5" fill="#ffff00"/>
<rect x="604.1" y="163.3" width="4.5" height="4.5" fill="#ffff00"/>
<rect x="604.5" y="152.8" width="4.5" height="4.5" fill="#ffff00"/>
<rect x="674.2" y="180.2" width="4.5" height="4.5" fill="#ff8000"/>
<rect x="655.3" y="204.8" width="4.5" height="4.5" fill="#80ff80"/>
<rect x="593.0" y="198.9" width="4.5" height="4.5" fill="#80ff80"/>
<rect x="638.7" y="195.2" width="4.5" height="4.5" fill="#ffff00"/>
<rect x="597.6" y="151.4" width="4.5" height="4.5" fill="#ffff00"/>
<rect x="588.3" y="154.1" width="4.5" height="4.5" fill="#ffff00"/>
<rect x="639.7" y="185.9" width="4.5" height="4.5" fill="#ffff00"/>
<rect x="598.2" y="86.0" width="4.5" height="4.5" fill="#ff8000"/>
<rect x="634.3" y="155.7" width="4.5" height="4.5" fill="#ff8000"/>
<rect x="590.7" y="158.4" width="4.5" height="4.5" fill="#ffff00"/>
<rect x="569.4" y="120.6" width="4.5" height="4.5" fill="#ff8000"/>
<rect x="569.1" y="106.4" width="4.5" height="4.5" fill="#ff8000"/>
<rect x="607.3" y="159.0" width="4.5" height="4.5" fill="#ffff00"/>
<rect x="581.9" y="165.9" width="4.5" height="4.5" fill="#80ff80"/>
<rect x="595.2" y="143.1" width="4.5" height="4.5" fill="#ff8000"/>
<rect x="642.9" y="183.6" width="4.5" height="4.5" fill="#ff8000"/>
<rect x="554.4" y="95.5" width="4.5" height="4.5" fill="#ffff00"/>
<rect x="703.6" y="204.7" width="4.5" height="4.5" fill="#80ff80"/>
<rect x="581.5" y="103.2" width="4.5" height="4.5" fill="#ff8000"/>
<rect x="628.7" y="179.8" width="4.5" height="4.5" fill="#ffff00"/>
<rect x="595.6" y="148.6" width="4.5" height="4.5" fill="#ffff00"/>
<rect x="719.5" y="232.9" width="4.5" height="4.5" fill="#ff8000"/>
<rect x="606.7" y="178.9" width="4.5" height="4.5" fill="#ffff00"/>
<rect x="657.4" y="194.8" width="4.5" height="4.5" fill="#ffff00"/>
<rect x="632.0" y="203.3" width="4.5" height="4.5" fill="#ffff00"/>
<rect x="571.5" y="133.8" width="4.5" height="4.5" fill="#ffff00"/>
<rect x="589.2" y="104.5" width="4.5" height="4.5" fill="#ffff00"/>
<rect x="618.3" y="155.8" width="4.5" height="4.5" fill="#ff8000"/>
<rect x="602.2" y="159.9" width="4.5" height="4.5" fill="#ffff00"/>
<rect x="680.0" y="189.4" width="4.5" height="4.5" fill="#ffff00"/>
<rect x="702.5" y="203.2" width="4.5" height="4.5" fill="#80ff80"/>
<rect x="654.3" y="194.2" width="4.5" height="4.5" fill="#ff8000"/>
<rect x="714.2" y="195.5" width="4.5" height="4.5" fill="#ffff00"/>
<rect x="647.8" y="180.9" width="4.5" height="4.5" fill="#ffff00"/>
<rect x="643.1" y="180.5" width="4.5" height="4.5" fill="#ffff00"/>
<rect x="558.1" y="117.0" width="4.5" height="4.5" fill="#ffff00"/>
<rect x="654.5" y="207.4" width="4.5" height="4.5" fill="#80ff80"/>
<rect x="610.6" y="149.9" width="4.5" height="4.5" fill="#ff8000"/>
<rect x="575.0" y="88.5" width="4.5" height="4.5" fill="#ff8000"/>
<rect x="620.4" y="182.2" width="4.5" height="4.5" fill="#ffff00"/>
<rect x="598.8" y="104.4" width="4.5" height="4.5" fill="#ff8000"/>
<rect x="601.2" y="203.8" width="4.5" height="4.5" fill="#00ffff"/>
<rect x="620.7" y="92.5" width="4.5" height="4.5" fill="#ff8000"/>
<rect x="609.6" y="133.4" width="4.5" height="4.5" fill="#ff8000"/>
<rect x="635.1" y="179.5" width="4.5" height="4.5" fill="#ffff00"/>
<rect x="618.3" y="168.6" width="4.5" height="4.5" fill="#ff8000"/>
<rect x="606.4" y="141.8" width="4.5" height="4.5" fill="#ffff00"/>
<rect x="667.0" y="205.0" width="4.5" height="4.5" fill="#80ff80"/>
<rect x="681.1" y="222.1" width="4.5" height="4.5" fill="#0080ff"/>
<rect x="670.7" y="203.9" width="4.5" height="4.5" fill="#80ff80"/>
<rect x="679.9" y="212.0" width="4.5" height="4.5" fill="#ffff00"/>
<rect x="676.5" y="208.5" width="4.5" height="4.5" fill="#80ff80"/>
<rect x="561.6" y="162.7" width="4.5" height="4.5" fill="#80ff80"/>
<rect x="588.6" y="146.2" width="4.5" height="4.5" fill="#ffff00"/>
<rect x="601.2" y="171.7" width="4.5" height="4.5" fill="#ffff00"/>
<rect x="618.8" y="199.7" width="4.5" height="4.5" fill="#00ffff"/>
<rect x="605.5" y="147.7" width="4.5" height="4.5" fill="#ffff00"/>
<rect x="620.0" y="160.9" width="4.5" height="4.5" fill="#ff8000"/>
<rect x="641.8" y="189.9" width="4.5" height="4.5" fill="#ffff00"/>
<rect x="629.4" y="226.9" width="4.5" height="4.5" fill="#ffff00"/>
<rect x="591.6" y="129.4" width="4.5" height="4.5" fill="#ffff00"/>
<rect x="601.5" y="159.2" width="4.5" height="4.5" fill="#ff8000"/>
<rect x="642.9" y="183.9" width="4.5" height="4.5" fill="#ff8000"/>
<rect x="627.4" y="172.5" width="4.5" height="4.5" fill="#ffff00"/>
<rect x="629.6" y="204.6" width="4.5" height="4.5" fill="#80ff80"/>
<rect x="624.9" y="166.1" width="4.5" height="4.5" fill="#ffff00"/>
<rect x="720.2" y="181.8" width="4.5" height="4.5" fill="#ff8000"/>
<rect x="587.0" y="112.6" width="4.5" height="4.5" fill="#ff8000"/>
<rect x="658.2" y="172.2" width="4.5" height="4.5" fill="#ff8000"/>
<rect x="596.0" y="131.4" width="4.5" height="4.5" fill="#ff8000"/>
<rect x="630.6" y="194.8" width="4.5" height="4.5" fill="#ff8000"/>
<rect x="614.7" y="182.8" width="4.5" height="4.5" fill="#ffff00"/>
<rect x="653.7" y="222.2" width="4.5" height="4.5" fill="#00ffff"/>
<rect x="574.2" y="130.3" width="4.5" height="4.5" fill="#ffff00"/>
<rect x="625.4" y="165.1" width="4.5" height="4.5" fill="#ffff00"/>
<rect x="602.1" y="103.2" width="4.5" height="4.5" fill="#ff8000"/>
<rect x="679.4" y="221.1" width="4.5" height="4.5" fill="#80ff80"/>
<rect x="604.0" y="156.7" width="4.5" height="4.5" fill="#ffff00"/>
<rect x="649.0" y="169.3" width="4.5" height="4.5" fill="#ff8000"/>
<rect x="682.1" y="225.1" width="4.5" height="4.5" fill="#00ffff"/>
<rect x="581.5" y="103.6" width="4.5" height="4.5" fill="#ff8000"/>
<rect x="632.6" y="172.5" width="4.5" height="4.5" fill="#ff8000"/>
<rect x="558.2" y="77.5" width="4.5" height="4.5" fill="#ff8000"/>
<rect x="648.2" y="209.9" width="4.5" height="4.5" fill="#ffff00"/>
<rect x="645.5" y="217.9" width="4.5" height="4.5" fill="#00ffff"/>
<rect x="701.5" y="223.9" width="4.5" height="4.5" fill="#ff8000"/>
<rect x="637.2" y="161.4" width="4.5" height="4.5" fill="#ff8000"/>
<rect x="623.2" y="202.1" width="4.5" height="4.5" fill="#00ffff"/>
<rect x="689.7" y="218.1" width="4.5" height="4.5" fill="#80ff80"/>
<rect x="597.8" y="131.6" width="4.5" height="4.5" fill="#ff8000"/>
<rect x="629.2" y="108.5" width="4.5" height="4.5" fill="#ff8000"/>
<rect x="640.0" y="174.0" width="4.5" height="4.5" fill="#ffff00"/>
<rect x="675.1" y="185.6" width="4.5" height="4.5" fill="#ff8000"/>
<rect x="625.4" y="132.1" width="4.5" height="4.5" fill="#ff8000"/>
<rect x="588.5" y="136.5" width="4.5" height="4.5" fill="#ffff00"/>
<rect x="662.4" y="219.0" width="4.5" height="4.5" fill="#80ff80"/>
<rect x="632.0" y="188.3" width="4.5" height="4.5" fill="#ffff00"/>
<rect x="656.6" y="222.1" width="4.5" height="4.5" fill="#80ff80"/>
<rect x="656.4" y="197.7" width="4.5" height="4.5" fill="#ffff00"/>
<rect x="572.5" y="61.1" width="4.5" height="4.5" fill="#ff8000"/>
<rect x="559.5" y="100.8" width="4.5" height="4.5" fill="#ff8000"/>
<rect x="583.9" y="145.0" width="4.5" height="4.5" fill="#ffff00"/>
<rect x="699.4" y="201.9" width="4.5" height="4.5" fill="#ffff00"/>
<rect x="682.2" y="211.2" width="4.5" height="4.5" fill="#80ff80"/>
<rect x="659.6" y="204.0" width="4.5" height="4.5" fill="#ffff00"/>
<rect x="556.5" y="140.1" width="4.5" height="4.5" fill="#ffff00"/>
<rect x="664.0" y="219.1" width="4.5" height="4.5" fill="#0080ff"/>
<rect x="653.8" y="194.7" width="4.5" height="4.5" fill="#ffff00"/>
<rect x="644.1" y="216.6" width="4.5" height="4.5" fill="#80ff80"/>
<rect x="566.5" y="102.5" width="4.5" height="4.5" fill="#ff8000"/>
<rect x="610.0" y="157.3" width="4.5" height="4.5" fill="#ff8000"/>
<rect x="628.1" y="207.7" width="4.5" height="4.5" fill="#00ffff"/>
<rect x="685.4" y="223.2" width="4.5" height="4.5" fill="#80ff80"/>
<rect x="627.6" y="213.8" width="4.5" height="4.5" fill="#00ffff"/>
<rect x="647.4" y="188.2" width="4.5" height="4.5" fill="#ffff00"/>
<rect x="685.9" y="218.6" width="4.5" height="4.5" fill="#ffff00"/>
<rect x="665.3" y="212.8" width="4.5" height="4.5" fill="#80ff80"/>
<rect x="637.7" y="184.4" width="4.5" height="4.5" fill="#ff8000"/>
<rect x="644.5" y="185.7" width="4.5" height="4.5" fill="#ffff00"/>
<rect x="597.0" y="108.5" width="4.5" height="4.5" fill="#ffff00"/>
<rect x="656.9" y="198.6" width="4.5" height="4.5" fill="#ff8000"/>
<rect x="624.4" y="154.6" width="4.5" height="4.5" fill="#ffff00"/>
<rect x="646.3" y="178.4" width="4.5" height="4.5" fill="#ffff00"/>
<rect x="621.6" y="212.1" width="4.5" height="4.5" fill="#00ffff"/>
<rect x="635.3" y="190.9" width="4.5" height="4.5" fill="#ffff00"/>
<rect x="604.1" y="151.8" width="4.5" height="4.5" fill="#ff8000"/>
<rect x="559.4" y="131.4" width="4.5" height="4.5" fill="#ffff00"/>
<rect x="653.2" y="187.3" width="4.5" height="4.5" fill="#ffff00"/>
<rect x="661.5" y="225.7" width="4.5" height="4.5" fill="#ffff00"/>
<rect x="574.5" y="114.6" width="4.5" height="4.5" fill="#ff8000"/>
<rect x="683.5" y="200.5" width="4.5" height="4.5" fill="#ff8000"/>
<rect x="664.0" y="216.0" width="4.5" height="4.5" fill="#80ff80"/>
<rect x="584.8" y="180.8" width="4.5" height="4.5" fill="#80ff80"/>
<rect x="649.4" y="218.4" width="4.5" height="4.5" fill="#00ffff"/>
<rect x="663.8" y="216.9" width="4.5" height="4.5" fill="#80ff80"/>
<rect x="571.4" y="84.5" width="4.5" height="4.5" fill="#ff8000"/>
<rect x="625.3" y="156.0" width="4.5" height="4.5" fill="#ff8000"/>
<rect x="664.0" y="221.3" width="4.5" height="4.5" fill="#ffff00"/>
<rect x="705.5" y="221.4" width="4.5" height="4.5" fill="#ff8000"/>
<rect x="682.4" y="198.7" width="4.5" height="4.5" fill="#ff8000"/>
<rect x="678.5" y="230.8" width="4.5" height="4.5" fill="#00ffff"/>
<rect x="630.1" y="214.7" width="4.5" height="4.5" fill="#00ffff"/>
<rect x="601.1" y="137.4" width="4.5" height="4.5" fill="#ff8000"/>
<rect x="637.8" y="183.3" width="4.5" height="4.5" fill="#ffff00"/>
<rect x="611.8" y="155.9" width="4.5" height="4.5" fill="#ff8000"/>
<rect x="600.8" y="166.7" width="4.5" height="4.5" fill="#ffff00"/>
<rect x="614.6" y="187.9" width="4.5" height="4.5" fill="#80ff80"/>
<rect x="648.6" y="209.7" width="4.5" height="4.5" fill="#ffff00"/>
<rect x="620.7" y="198.9" width="4.5" height="4.5" fill="#80ff80"/>
<rect x="583.2" y="105.5" width="4.5" height="4.5" fill="#ff8000"/>
<rect x="654.6" y="211.5" width="4.5" height="4.5" fill="#80ff80"/>
<rect x="631.6" y="206.1" width="4.5" height="4.5" fill="#80ff80"/>
<rect x="677.8" y="207.6" width="4.5" height="4.5" fill="#80ff80"/>
<rect x="643.7" y="199.1" width="4.5" height="4.5" fill="#ffff00"/>
<rect x="720.2" y="215.8" width="4.5" height="4.5" fill="#ff8000"/>
<rect x="620.3" y="130.5" width="4.5" height="4.5" fill="#ff8000"/>
<rect x="666.6" y="204.6" width="4.5" height="4.5" fill="#80ff80"/>
<rect x="639.9" y="203.0" width="4.5" height="4.5" fill="#ffff00"/>
<rect x="690.4" y="212.5" width="4.5" height="4.5" fill="#ff8000"/>
<rect x="632.6" y="218.8" width="4.5" height="4.5" fill="#0080ff"/>
<rect x="673.9" y="197.3" width="4.5" height="4.5" fill="#ffff00"/>
<rect x="589.3" y="154.5" width="4.5" height="4.5" fill="#ffff00"/>
<rect x="602.6" y="169.7" width="4.5" height="4.5" fill="#ffff00"/>
<rect x="720.2" y="230.8" width="4.5" height="4.5" fill="#0080ff"/>
<rect x="673.5" y="196.6" width="4.5" height="4.5" fill="#ffff00"/>
<rect x="580.7" y="137.5" width="4.5" height="4.5" fill="#ffff00"/>
<rect x="610.7" y="154.7" width="4.5" height="4.5" fill="#ffff00"/>
<rect x="684.1" y="226.5" width="4.5" height="4.5" fill="#00ffff"/>
<rect x="635.4" y="220.9" width="4.5" height="4.5" fill="#00ffff"/>
<rect x="647.3" y="190.2" width="4.5" height="4.5" fill="#ffff00"/>
<rect x="626.8" y="200.4" width="4.5" height="4.5" fill="#ffff00"/>
<rect x="609.7" y="158.8" width="4.5" height="4.5" fill="#ff8000"/>
<rect x="632.4" y="183.5" width="4.5" height="4.5" fill="#ffff00"/>
<rect x="580.1" y="160.8" width="4.5" height="4.5" fill="#80ff80"/>
<rect x="602.1" y="164.6" width="4.5" height="4.5" fill="#ffff00"/>
<rect x="576.2" y="139.7" width="4.5" height="4.5" fill="#ffff00"/>
<rect x="648.2" y="173.0" width="4.5" height="4.5" fill="#ff8000"/>
<rect x="602.0" y="144.8" width="4.5" height="4.5" fill="#ff8000"/>
<rect x="707.1" y="213.4" width="4.5" height="4.5" fill="#80ff80"/>
<rect x="602.1" y="109.8" width="4.5" height="4.5" fill="#ff8000"/>
<rect x="602.0" y="149.1" width="4.5" height="4.5" fill="#ff8000"/>
<rect x="656.6" y="211.6" width="4.5" height="4.5" fill="#ffff00"/>
<rect x="654.5" y="219.0" width="4.5" height="4.5" fill="#00ffff"/>
<rect x="635.3" y="158.8" width="4.5" height="4.5" fill="#ff8000"/>
<rect x="684.5" y="227.2" width="4.5" height="4.5" fill="#0080ff"/>
<rect x="618.7" y="167.6" width="4.5" height="4.5" fill="#ffff00"/>
<rect x="562.9" y="99.9" width="4.5" height="4.5" fill="#ff8000"/>
<rect x="664.4" y="197.2" width="4.5" height="4.5" fill="#ffff00"/>
<rect x="564.3" y="108.9" width="4.5" height="4.5" fill="#ffff00"/>
<rect x="635.3" y="182.0" width="4.5" height="4.5" fill="#ffff00"/>
<rect x="564.8" y="74.2" width="4.5" height="4.5" fill="#ffff00"/>
<rect x="559.0" y="134.1" width="4.5" height="4.5" fill="#ffff00"/>
<rect x="655.7" y="196.5" width="4.5" height="4.5" fill="#ff8000"/>
<rect x="648.1" y="186.8" width="4.5" height="4.5" fill="#ffff00"/>
<rect x="614.7" y="181.3" width="4.5" height="4.5" fill="#ffff00"/>
<rect x="622.9" y="182.7" width="4.5" height="4.5" fill="#ffff00"/>
<rect x="671.3" y="212.6" width="4.5" height="4.5" fill="#80ff80"/>
<rect x="637.1" y="172.6" width="4.5" height="4.5" fill="#ffff00"/>
<rect x="641.5" y="193.6" width="4.5" height="4.5" fill="#ffff00"/>
<rect x="672.6" y="204.6" width="4.5" height="4.5" fill="#ffff00"/>
<rect x="644.7" y="157.5" width="4.5" height="4.5" fill="#ffff00"/>
<rect x="554.4" y="87.0" width="4.5" height="4.5" fill="#ff8000"/>
<rect x="668.1" y="196.4" width="4.5" height="4.5" fill="#ff8000"/>
<rect x="659.3" y="215.7" width="4.5" height="4.5" fill="#00ffff"/>
<rect x="639.1" y="217.5" width="4.5" height="4.5" fill="#00ffff"/>
<rect x="629.8" y="194.5" width="4.5" height="4.5" fill="#ffff00"/>
<rect x="635.2" y="189.2" width="4.5" height="4.5" fill="#ffff00"/>
<rect x="633.5" y="214.5" width="4.5" height="4.5" fill="#80ff80"/>
<rect x="621.7" y="152.5" width="4.5" height="4.5" fill="#ff8000"/>
<rect x="577.4" y="128.2" width="4.5" height="4.5" fill="#ffff00"/>
<rect x="679.3" y="216.9" width="4.5" height="4.5" fill="#80ff80"/>
<rect x="620.1" y="190.4" width="4.5" height="4.5" fill="#80ff80"/>
<rect x="635.5" y="162.5" width="4.5" height="4.5" fill="#ff8000"/>
<rect x="626.3" y="163.8" width="4.5" height="4.5" fill="#ff8000"/>
<rect x="606.2" y="146.9" width="4.5" height="4.5" fill="#ff8000"/>
<rect x="620.5" y="145.8" width="4.5" height="4.5" fill="#ff8000"/>
<rect x="637.7" y="172.7" width="4.5" height="4.5" fill="#ff8000"/>
<rect x="636.4" y="181.2" width="4.5" height="4.5" fill="#ff8000"/>
<rect x="579.3" y="126.7" width="4.5" height="4.5" fill="#ffff00"/>
<rect x="622.7" y="170.2" width="4.5" height="4.5" fill="#ffff00"/>
<rect x="595.5" y="160.3" width="4.5" height="4.5" fill="#ffff00"/>
<rect x="603.1" y="147.9" width="4.5" height="4.5" fill="#ff8000"/>
<rect x="558.4" y="175.8" width="4.5" height="4.5" fill="#ffff00"/>
<rect x="673.3" y="202.7" width="4.5" height="4.5" fill="#80ff80"/>
<rect x="617.6" y="177.0" width="4.5" height="4.5" fill="#ffff00"/>
<rect x="574.9" y="190.7" width="4.5" height="4.5" fill="#ffff00"/>
<rect x="611.6" y="180.2" width="4.5" height="4.5" fill="#ffff00"/>
<rect x="612.8" y="160.5" width="4.5" height="4.5" fill="#ffff00"/>
<rect x="700.5" y="169.1" width="4.5" height="4.5" fill="#ff8000"/>
<rect x="651.4" y="221.5" width="4.5" height="4.5" fill="#00ffff"/>
<rect x="569.6" y="110.7" width="4.5" height="4.5" fill="#ff8000"/>
<rect x="630.3" y="135.9" width="4.5" height="4.5" fill="#ff8000"/>
<rect x="576.5" y="167.6" width="4.5" height="4.5" fill="#ffff00"/>
<rect x="621.8" y="164.1" width="4.5" height="4.5" fill="#ff8000"/>
<rect x="610.3" y="157.6" width="4.5" height="4.5" fill="#ff8000"/>
<rect x="633.7" y="206.3" width="4.5" height="4.5" fill="#80ff80"/>
<rect x="701.5" y="228.2" width="4.5" height="4.5" fill="#ff8000"/>
<rect x="576.5" y="102.9" width="4.5" height="4.5" fill="#ff8000"/>
<rect x="616.9" y="176.6" width="4.5" height="4.5" fill="#ffff00"/>
<rect x="575.5" y="122.0" width="4.5" height="4.5" fill="#ffff00"/>
<rect x="576.8" y="116.6" width="4.5" height="4.5" fill="#ff8000"/>
<rect x="720.2" y="204.8" width="4.5" height="4.5" fill="#ff8000"/>
<rect x="666.4" y="217.5" width="4.5" height="4.5" fill="#00ffff"/>
<rect x="585.4" y="81.3" width="4.5" height="4.5" fill="#ff8000"/>
<rect x="635.9" y="177.3" width="4.5" height="4.5" fill="#ff8000"/>
<rect x="625.0" y="167.9" width="4.5" height="4.5" fill="#ffff00"/>
<rect x="574.8" y="120.4" width="4.5" height="4.5" fill="#ffff00"/>
<rect x="574.6" y="113.7" width="4.5" height="4.5" fill="#ff8000"/>
<rect x="672.0" y="187.8" width="4.5" height="4.5" fill="#ff8000"/>
<rect x="669.3" y="218.1" width="4.5" height="4.5" fill="#00ffff"/>
<rect x="607.6" y="133.0" width="4.5" height="4.5" fill="#ff8000"/>
<rect x="635.6" y="209.4" width="4.5" height="4.5" fill="#80ff80"/>
<rect x="594.0" y="125.9" width="4.5" height="4.5" fill="#ff8000"/>
<rect x="586.5" y="163.1" width="4.5" height="4.5" fill="#ffff00"/>
<rect x="614.2" y="175.0" width="4.5" height="4.5" fill="#ffff00"/>
<rect x="619.5" y="135.8" width="4.5" height="4.5" fill="#ff8000"/>
<rect x="625.2" y="210.4" width="4.5" height="4.5" fill="#00ffff"/>
<rect x="555.9" y="147.4" width="4.5" height="4.5" fill="#ffff00"/>
<rect x="604.7" y="164.9" width="4.5" height="4.5" fill="#ffff00"/>
<rect x="607.8" y="161.7" width="4.5" height="4.5" fill="#ffff00"/>
<rect x="567.2" y="95.5" width="4.5" height="4.5" fill="#ffff00"/>
<rect x="686.3" y="206.2" width="4.5" height="4.5" fill="#ff8000"/>
<rect x="667.3" y="195.5" width="4.5" height="4.5" fill="#ffff00"/>
<rect x="619.2" y="167.2" width="4.5" height="4.5" fill="#ffff00"/>
<rect x="616.2" y="178.2" width="4.5" height="4.5" fill="#ffff00"/>
<rect x="623.5" y="206.1" width="4.5" height="4.5" fill="#00ffff"/>
<rect x="693.6" y="203.7" width="4.5" height="4.5" fill="#ffff00"/>
<rect x="572.3" y="131.0" width="4.5" height="4.5" fill="#ffff00"/>
<rect x="596.7" y="145.8" width="4.5" height="4.5" fill="#ffff00"/>
<rect x="574.6" y="138.3" width="4.5" height="4.5" fill="#ffff00"/>
<rect x="586.3" y="111.8" width="4.5" height="4.5" fill="#ff8000"/>
<rect x="588.8" y="123.6" width="4.5" height="4.5" fill="#ff8000"/>
<rect x="621.3" y="155.3" width="4.5" height="4.5" fill="#ff8000"/>
<rect x="704.8" y="214.0" width="4.5" height="4.5" fill="#ffff00"/>
<rect x="645.9" y="185.7" width="4.5" height="4.5" fill="#ffff00"/>
<rect x="581.2" y="122.0" width="4.5" height="4.5" fill="#ffff00"/>
<rect x="584.0" y="66.3" width="4.5" height="4.5" fill="#ff8000"/>
<rect x="715.9" y="220.5" width="4.5" height="4.5" fill="#80ff80"/>
<rect x="583.0" y="132.4" width="4.5" height="4.5" fill="#ff8000"/>
<rect x="686.0" y="222.2" width="4.5" height="4.5" fill="#00ffff"/>
<rect x="645.8" y="214.3" width="4.5" height="4.5" fill="#00ffff"/>
<rect x="621.4" y="205.5" width="4.5" height="4.5" fill="#00ffff"/>
<rect x="673.6" y="202.5" width="4.5" height="4.5" fill="#80ff80"/>
<rect x="701.5" y="223.9" width="4.5" height="4.5" fill="#ffff00"/>
<rect x="644.7" y="169.6" width="4.5" height="4.5" fill="#ff8000"/>
<rect x="656.7" y="201.4" width="4.5" height="4.5" fill="#ffff00"/>
<rect x="587.7" y="112.9" width="4.5" height="4.5" fill="#ff8000"/>
<rect x="566.9" y="86.2" width="4.5" height="4.5" fill="#ff8000"/>
<rect x="597.9" y="163.4" width="4.5" height="4.5" fill="#ffff00"/>
<rect x="563.5" y="111.0" width="4.5" height="4.5" fill="#ffff00"/>
<rect x="612.1" y="149.6" width="4.5" height="4.5" fill="#ffff00"/>
<rect x="592.1" y="153.5" width="4.5" height="4.5" fill="#ffff00"/>
<rect x="639.4" y="183.3" width="4.5" height="4.5" fill="#ffff00"/>
<rect x="669.6" y="220.9" width="4.5" height="4.5" fill="#00ffff"/>
<rect x="566.6" y="187.3" width="4.5" height="4.5" fill="#80ff80"/>
<rect x="688.1" y="227.3" width="4.5" height="4.5" fill="#80ff80"/>
<rect x="690.2" y="219.5" width="4.5" height="4.5" fill="#00ffff"/>
<rect x="655.9" y="205.4" width="4.5" height="4.5" fill="#ffff00"/>
<rect x="554.4" y="66.3" width="4.5" height="4.5" fill="#ff8000"/>
<rect x="609.3" y="157.4" width="4.5" height="4.5" fill="#ffff00"/>
<rect x="659.8" y="194.2" width="4.5" height="4.5" fill="#ffff00"/>
<rect x="636.0" y="177.9" width="4.5" height="4.5" fill="#ff8000"/>
<rect x="673.5" y="223.4" width="4.5" height="4.5" fill="#00ffff"/>
<rect x="586.5" y="196.6" width="4.5" height="4.5" fill="#80ff80"/>
<rect x="614.3" y="172.1" width="4.5" height="4.5" fill="#ffff00"/>
<rect x="636.0" y="158.0" width="4.5" height="4.5" fill="#ff8000"/>
<rect x="699.6" y="204.4" width="4.5" height="4.5" fill="#ffff00"/>
<rect x="634.6" y="187.7" width="4.5" height="4.5" fill="#ffff00"/>
<rect x="678.1" y="216.3" width="4.5" height="4.5" fill="#ffff00"/>
<rect x="673.7" y="220.8" width="4.5" height="4.5" fill="#00ffff"/>
<rect x="625.6" y="171.0" width="4.5" height="4.5" fill="#ff8000"/>
<rect x="670.2" y="202.3" width="4.5" height="4.5" fill="#80ff80"/>
<rect x="649.5" y="177.4" width="4.5" height="4.5" fill="#ffff00"/>
<rect x="599.4" y="101.8" width="4.5" height="4.5" fill="#ff8000"/>
<rect x="720.2" y="185.2" width="4.5" height="4.5" fill="#ff8000"/>
<rect x="627.9" y="167.4" width="4.5" height="4.5" fill="#ff8000"/>
<rect x="621.7" y="174.6" width="4.5" height="4.5" fill="#ffff00"/>
<rect x="682.0" y="194.9" width="4.5" height="4.5" fill="#ffff00"/>
<rect x="658.3" y="191.5" width="4.5" height="4.5" fill="#ffff00"/>
<rect x="589.3" y="138.1" width="4.5" height="4.5" fill="#ff8000"/>
<rect x="642.2" y="189.9" width="4.5" height="4.5" fill="#ffff00"/>
<rect x="631.6" y="183.3" width="4.5" height="4.5" fill="#ff8000"/>
<rect x="692.6" y="213.0" width="4.5" height="4.5" fill="#80ff80"/>
<rect x="655.0" y="171.8" width="4.5" height="4.5" fill="#ff8000"/>
<rect x="634.9" y="172.1" width="4.5" height="4.5" fill="#ff8000"/>
<rect x="576.4" y="102.0" width="4.5" height="4.5" fill="#ff8000"/>
<rect x="710.5" y="196.3" width="4.5" height="4.5" fill="#ffff00"/>
<rect x="624.1" y="116.2" width="4.5" height="4.5" fill="#ff8000"/>
<rect x="691.1" y="222.5" width="4.5" height="4.5" fill="#00ffff"/>
<rect x="689.9" y="208.0" width="4.5" height="4.5" fill="#ffff00"/>
<rect x="635.1" y="164.2" width="4.5" height="4.5" fill="#ff8000"/>
<rect x="676.5" y="206.4" width="4.5" height="4.5" fill="#80ff80"/>
<rect x="615.0" y="232.9" width="4.5" height="4.5" fill="#ffff00"/>
<rect x="627.2" y="168.2" width="4.5" height="4.5" fill="#ff8000"/>
<rect x="642.3" y="216.9" width="4.5" height="4.5" fill="#00ffff"/>
<rect x="622.4" y="207.1" width="4.5" height="4.5" fill="#00ffff"/>
<rect x="657.3" y="194.6" width="4.5" height="4.5" fill="#80ff80"/>
<rect x="631.2" y="181.9" width="4.5" height="4.5" fill="#ffff00"/>
<rect x="629.3" y="165.7" width="4.5" height="4.5" fill="#ff8000"/>
<rect x="668.1" y="199.3" width="4.5" height="4.5" fill="#ff8000"/>
<rect x="597.4" y="170.7" width="4.5" height="4.5" fill="#ffff00"/>
<rect x="720.2" y="188.8" width="4.5" height="4.5" fill="#ff8000"/>
<rect x="681.4" y="211.5" width="4.5" height="4.5" fill="#ffff00"/>
<rect x="606.2" y="208.8" width="4.5" height="4.5" fill="#00ffff"/>
<rect x="688.5" y="215.8" width="4.5" height="4.5" fill="#00ffff"/>
<rect x="667.1" y="190.3" width="4.5" height="4.5" fill="#ff8000"/>
<rect x="662.0" y="196.2" width="4.5" height="4.5" fill="#ff8000"/>
<rect x="656.8" y="165.3" width="4.5" height="4.5" fill="#ff8000"/>
<rect x="655.2" y="191.6" width="4.5" height="4.5" fill="#ffff00"/>
<rect x="655.8" y="182.2" width="4.5" height="4.5" fill="#ff8000"/>
<rect x="619.8" y="167.6" width="4.5" height="4.5" fill="#ff8000"/>
<rect x="583.1" y="141.0" width="4.5" height="4.5" fill="#ffff00"/>
<rect x="573.8" y="95.5" width="4.5" height="4.5" fill="#ff8000"/>
<rect x="579.3" y="127.8" width="4.5" height="4.5" fill="#ffff00"/>
<rect x="586.2" y="154.2" width="4.5" height="4.5" fill="#ffff00"/>
<rect x="628.0" y="191.3" width="4.5" height="4.5" fill="#ffff00"/>
<rect x="613.5" y="184.0" width="4.5" height="4.5" fill="#80ff80"/>
<rect x="645.3" y="189.5" width="4.5" height="4.5" fill="#80ff80"/>
<rect x="639.4" y="190.7" width="4.5" height="4.5" fill="#ffff00"/>
<rect x="558.2" y="132.6" width="4.5" height="4.5" fill="#ffff00"/>
<rect x="566.9" y="136.5" width="4.5" height="4.5" fill="#ffff00"/>
<rect x="661.0" y="210.0" width="4.5" height="4.5" fill="#80ff80"/>
<rect x="559.1" y="107.8" width="4.5" height="4.5" fill="#ff8000"/>
<rect x="631.4" y="176.3" width="4.5" height="4.5" fill="#ff8000"/>
<rect x="613.1" y="190.3" width="4.5" height="4.5" fill="#80ff80"/>
<rect x="581.7" y="106.4" width="4.5" height="4.5" fill="#ff8000"/>
<rect x="589.1" y="163.4" width="4.5" height="4.5" fill="#ffff00"/>
<rect x="655.4" y="186.9" width="4.5" height="4.5" fill="#ffff00"/>
<rect x="589.0" y="147.4" width="4.5" height="4.5" fill="#ffff00"/>
<rect x="618.3" y="220.4" width="4.5" height="4.5" fill="#80ff80"/>
<rect x="643.0" y="174.1" width="4.5" height="4.5" fill="#ff8000"/>
<rect x="586.4" y="132.1" width="4.5" height="4.5" fill="#ff8000"/>
<rect x="647.2" y="212.9" width="4.5" height="4.5" fill="#00ffff"/>
<rect x="646.8" y="216.3" width="4.5" height="4.5" fill="#00ffff"/>
<rect x="640.7" y="192.3" width="4.5" height="4.5" fill="#ffff00"/>
<rect x="669.1" y="192.5" width="4.5" height="4.5" fill="#ff8000"/>
<rect x="655.8" y="192.4" width="4.5" height="4.5" fill="#80ff80"/>
<rect x="564.2" y="110.0" width="4.5" height="4.5" fill="#ff8000"/>
<rect x="592.5" y="129.4" width="4.5" height="4.5" fill="#ff8000"/>
<rect x="668.0" y="211.6" width="4.5" height="4.5" fill="#80ff80"/>
<rect x="693.4" y="224.8" width="4.5" height="4.5" fill="#0080ff"/>
<rect x="582.9" y="141.4" width="4.5" height="4.5" fill="#ffff00"/>
<rect x="575.4" y="149.1" width="4.5" height="4.5" fill="#80ff80"/>
<rect x="655.7" y="205.8" width="4.5" height="4.5" fill="#80ff80"/>
<rect x="590.5" y="91.7" width="4.5" height="4.5" fill="#ff8000"/>
<rect x="686.3" y="214.6" width="4.5" height="4.5" fill="#80ff80"/>
<rect x="653.4" y="206.9" width="4.5" height="4.5" fill="#80ff80"/>
<rect x="614.6" y="171.6" width="4.5" height="4.5" fill="#ff8000"/>
<rect x="652.4" y="184.4" width="4.5" height="4.5" fill="#ff8000"/>
<rect x="589.0" y="114.7" width="4.5" height="4.5" fill="#ff8000"/>
<rect x="697.2" y="215.2" width="4.5" height="4.5" fill="#80ff80"/>
<rect x="678.7" y="224.8" width="4.5" height="4.5" fill="#00ffff"/>
<rect x="712.5" y="220.6" width="4.5" height="4.5" fill="#ffff00"/>
<rect x="604.6" y="173.2" width="4.5" height="4.5" fill="#80ff80"/>
<rect x="592.8" y="155.9" width="4.5" height="4.5" fill="#ffff00"/>
<rect x="641.2" y="199.3" width="4.5" height="4.5" fill="#80ff80"/>
<rect x="595.4" y="155.1" width="4.5" height="4.5" fill="#ffff00"/>
<rect x="688.3" y="215.7" width="4.5" height="4.5" fill="#ffff00"/>
<rect x="687.9" y="229.0" width="4.5" height="4.5" fill="#00ffff"/>
<rect x="573.6" y="120.3" width="4.5" height="4.5" fill="#ff8000"/>
<rect x="573.0" y="107.4" width="4.5" height="4.5" fill="#ff8000"/>
<rect x="654.0" y="215.0" width="4.5" height="4.5" fill="#80ff80"/>
<rect x="588.3" y="120.8" width="4.5" height="4.5" fill="#ff8000"/>
<rect x="627.2" y="196.9" width="4.5" height="4.5" fill="#ffff00"/>
<rect x="564.1" y="106.4" width="4.5" height="4.5" fill="#ff8000"/>
<rect x="650.8" y="190.6" width="4.5" height="4.5" fill="#ffff00"/>
<rect x="582.8" y="142.9" width="4.5" height="4.5" fill="#ffff00"/>
<rect x="619.8" y="127.6" width="4.5" height="4.5" fill="#ff8000"/>
<rect x="564.9" y="164.0" width="4.5" height="4.5" fill="#80ff80"/>
<rect x="675.9" y="214.1" width="4.5" height="4.5" fill="#ffff00"/>
<rect x="611.8" y="164.4" width="4.5" height="4.5" fill="#ff8000"/>
<rect x="592.6" y="131.3" width="4.5" height="4.5" fill="#ffff00"/>
<rect x="652.4" y="189.4" width="4.5" height="4.5" fill="#ffff00"/>
<rect x="608.7" y="183.3" width="4.5" height="4.5" fill="#80ff80"/>
<rect x="654.0" y="204.0" width="4.5" height="4.5" fill="#ffff00"/>
<rect x="698.0" y="200.6" width="4.5" height="4.5" fill="#ffff00"/>
<rect x="636.0" y="181.5" width="4.5" height="4.5" fill="#ffff00"/>
<rect x="701.7" y="226.8" width="4.5" height="4.5" fill="#0080ff"/>
<rect x="639.3" y="202.8" width="4.5" height="4.5" fill="#80ff80"/>
<rect x="582.8" y="90.3" width="4.5" height="4.5" fill="#ff8000"/>
<rect x="683.9" y="203.9" width="4.5" height="4.5" fill="#ffff00"/>
<rect x="720.2" y="208.2" width="4.5" height="4.5" fill="#ff8000"/>
<rect x="574.3" y="138.6" width="4.5" height="4.5" fill="#ffff00"/>
<rect x="697.5" y="204.5" width="4.5" height="4.5" fill="#ffff00"/>
<rect x="620.0" y="147.6" width="4.5" height="4.5" fill="#ff8000"/>
<rect x="623.2" y="158.2" width="4.5" height="4.5" fill="#ff8000"/>
<rect x="590.7" y="123.3" width="4.5" height="4.5" fill="#ff8000"/>
<rect x="639.6" y="173.8" width="4.5" height="4.5" fill="#ffff00"/>
<rect x="600.6" y="145.2" width="4.5" height="4.5" fill="#ff8000"/>
<rect x="566.3" y="144.9" width="4.5" height="4.5" fill="#ffff00"/>
<rect x="579.9" y="159.9" width="4.5" height="4.5" fill="#ffff00"/>
<rect x="624.3" y="155.3" width="4.5" height="4.5" fill="#ffff00"/>
<rect x="640.9" y="162.6" width="4.5" height="4.5" fill="#ff8000"/>
<rect x="583.7" y="129.2" width="4.5" height="4.5" fill="#ff8000"/>
<rect x="679.8" y="194.7" width="4.5" height="4.5" fill="#ffff00"/>
<rect x="650.9" y="180.4" width="4.5" height="4.5" fill="#ff8000"/>
<rect x="638.4" y="183.5" width="4.5" height="4.5" fill="#ff8000"/>
<rect x="651.1" y="192.5" width="4.5" height="4.5" fill="#ff8000"/>
<rect x="646.7" y="183.5" width="4.5" height="4.5" fill="#ff8000"/>
<rect x="688.5" y="205.0" width="4.5" height="4.5" fill="#ff8000"/>
<rect x="688.7" y="192.7" width="4.5" height="4.5" fill="#ffff00"/>
<rect x="637.9" y="167.3" width="4.5" height="4.5" fill="#ff8000"/>
<rect x="622.9" y="202.0" width="4.5" height="4.5" fill="#80ff80"/>
<rect x="704.3" y="197.8" width="4.5" height="4.5" fill="#ffff00"/>
<rect x="598.0" y="208.8" width="4.5" height="4.5" fill="#00ffff"/>
<rect x="568.5" y="76.7" width="4.5" height="4.5" fill="#ff8000"/>
<rect x="579.7" y="133.1" width="4.5" height="4.5" fill="#ffff00"/>
<rect x="554.4" y="65.3" width="4.5" height="4.5" fill="#ffff00"/>
<rect x="652.3" y="174.3" width="4.5" height="4.5" fill="#ff8000"/>
<rect x="604.0" y="157.7" width="4.5" height="4.5" fill="#ffff00"/>
<rect x="680.1" y="195.5" width="4.5" height="4.5" fill="#ffff00"/>
<rect x="683.8" y="196.4" width="4.5" height="4.5" fill="#ff8000"/>
<rect x="646.0" y="216.7" width="4.5" height="4.5" fill="#0080ff"/>
<rect x="624.0" y="168.5" width="4.5" height="4.5" fill="#ff8000"/>
<rect x="641.3" y="183.4" width="4.5" height="4.5" fill="#ff8000"/>
<rect x="660.1" y="200.3" width="4.5" height="4.5" fill="#ffff00"/>
<rect x="609.7" y="153.7" width="4.5" height="4.5" fill="#ffff00"/>
<rect x="674.8" y="228.4" width="4.5" height="4.5" fill="#ffff00"/>
<rect x="648.0" y="196.2" width="4.5" height="4.5" fill="#ffff00"/>
<rect x="600.4" y="151.0" width="4.5" height="4.5" fill="#ffff00"/>
<rect x="646.8" y="190.8" width="4.5" height="4.5" fill="#ffff00"/>
<rect x="628.8" y="154.7" width="4.5" height="4.5" fill="#ffff00"/>
<rect x="599.4" y="133.0" width="4.5" height="4.5" fill="#ff8000"/>
<rect x="588.1" y="124.7" width="4.5" height="4.5" fill="#ffff00"/>
<rect x="616.4" y="116.2" width="4.5" height="4.5" fill="#ff8000"/>
<rect x="611.6" y="172.7" width="4.5" height="4.5" fill="#ffff00"/>
<rect x="661.0" y="189.9" width="4.5" height="4.5" fill="#ffff00"/>
<rect x="569.3" y="98.3" width="4.5" height="4.5" fill="#ff8000"/>
<rect x="642.1" y="216.7" width="4.5" height="4.5" fill="#00ffff"/>
<rect x="649.3" y="192.1" width="4.5" height="4.5" fill="#ffff00"/>
<rect x="629.0" y="167.0" width="4.5" height="4.5" fill="#ff8000"/>
<rect x="720.2" y="223.8" width="4.5" height="4.5" fill="#00ffff"/>
<rect x="555.6" y="116.7" width="4.5" height="4.5" fill="#ffff00"/>
<rect x="620.1" y="196.3" width="4.5" height="4.5" fill="#80ff80"/>
<rect x="608.4" y="173.8" width="4.5" height="4.5" fill="#ffff00"/>
<rect x="603.2" y="147.5" width="4.5" height="4.5" fill="#ffff00"/>
<rect x="610.3" y="180.1" width="4.5" height="4.5" fill="#ffff00"/>
<rect x="681.6" y="203.4" width="4.5" height="4.5" fill="#ff8000"/>
<rect x="603.3" y="191.3" width="4.5" height="4.5" fill="#00ffff"/>
<rect x="632.3" y="155.5" width="4.5" height="4.5" fill="#ffff00"/>
<rect x="606.9" y="206.1" width="4.5" height="4.5" fill="#80ff80"/>
<rect x="621.1" y="167.4" width="4.5" height="4.5" fill="#ffff00"/>
<rect x="624.2" y="153.0" width="4.5" height="4.5" fill="#ffff00"/>
<rect x="619.1" y="159.0" width="4.5" height="4.5" fill="#ffff00"/>
<rect x="647.7" y="221.4" width="4.5" height="4.5" fill="#00ffff"/>
<rect x="594.5" y="105.8" width="4.5" height="4.5" fill="#ff8000"/>
<rect x="654.5" y="182.0" width="4.5" height="4.5" fill="#ff8000"/>
<rect x="719.5" y="223.2" width="4.5" height="4.5" fill="#ff8000"/>
<rect x="687.3" y="222.0" width="4.5" height="4.5" fill="#ffff00"/>
<rect x="584.1" y="129.1" width="4.5" height="4.5" fill="#ffff00"/>
<rect x="686.2" y="155.8" width="4.5" height="4.5" fill="#ff8000"/>
<rect x="633.6" y="165.9" width="4.5" height="4.5" fill="#ff8000"/>
<rect x="594.4" y="132.3" width="4.5" height="4.5" fill="#ff8000"/>
<rect x="621.6" y="171.4" width="4.5" height="4.5" fill="#ffff00"/>
<rect x="601.1" y="138.0" width="4.5" height="4.5" fill="#ff8000"/>
<rect x="592.0" y="112.4" width="4.5" height="4.5" fill="#ff8000"/>
<rect x="631.3" y="207.2" width="4.5" height="4.5" fill="#80ff80"/>
<rect x="561.8" y="119.9" width="4.5" height="4.5" fill="#ffff00"/>
<rect x="609.9" y="199.1" width="4.5" height="4.5" fill="#00ffff"/>
<rect x="637.0" y="117.0" width="4.5" height="4.5" fill="#ff8000"/>
<rect x="639.0" y="178.2" width="4.5" height="4.5" fill="#ff8000"/>
<rect x="634.2" y="185.5" width="4.5" height="4.5" fill="#ffff00"/>
<rect x="632.4" y="216.8" width="4.5" height="4.5" fill="#ff8000"/>
<rect x="605.5" y="193.8" width="4.5" height="4.5" fill="#00ffff"/>
<rect x="591.6" y="154.7" width="4.5" height="4.5" fill="#ffff00"/>
<rect x="640.5" y="178.6" width="4.5" height="4.5" fill="#ff8000"/>
<rect x="565.2" y="143.5" width="4.5" height="4.5" fill="#ffff00"/>
<rect x="604.7" y="172.5" width="4.5" height="4.5" fill="#ffff00"/>
<rect x="610.1" y="182.0" width="4.5" height="4.5" fill="#ffff00"/>
<rect x="597.4" y="108.9" width="4.5" height="4.5" fill="#ff8000"/>
<rect x="638.2" y="177.7" width="4.5" height="4.5" fill="#ffff00"/>
<rect x="613.0" y="181.6" width="4.5" height="4.5" fill="#80ff80"/>
<rect x="673.7" y="185.1" width="4.5" height="4.5" fill="#ffff00"/>
<rect x="652.7" y="203.5" width="4.5" height="4.5" fill="#ffff00"/>
<rect x="607.0" y="199.2" width="4.5" height="4.5" fill="#80ff80"/>
<rect x="602.6" y="176.0" width="4.5" height="4.5" fill="#ffff00"/>
<rect x="591.6" y="95.8" width="4.5" height="4.5" fill="#ff8000"/>
<rect x="657.4" y="168.8" width="4.5" height="4.5" fill="#ff8000"/>
<rect x="568.3" y="134.3" width="4.5" height="4.5" fill="#ffff00"/>
<rect x="652.5" y="184.8" width="4.5" height="4.5" fill="#ffff00"/>
<rect x="630.5" y="177.7" width="4.5" height="4.5" fill="#ffff00"/>
<rect x="675.7" y="199.6" width="4.5" height="4.5" fill="#ffff00"/>
<rect x="696.7" y="209.3" width="4.5" height="4.5" fill="#ff8000"/>
<rect x="626.1" y="160.4" width="4.5" height="4.5" fill="#ff8000"/>
<rect x="634.1" y="168.5" width="4.5" height="4.5" fill="#ffff00"/>
<rect x="696.9" y="220.6" width="4.5" height="4.5" fill="#00ffff"/>
<rect x="665.8" y="213.5" width="4.5" height="4.5" fill="#80ff80"/>
<rect x="666.0" y="220.3" width="4.5" height="4.5" fill="#00ffff"/>
<rect x="636.8" y="146.9" width="4.5" height="4.5" fill="#ff8000"/>
<rect x="699.9" y="181.7" width="4.5" height="4.5" fill="#ff8000"/>
<rect x="655.7" y="219.8" width="4.5" height="4.5" fill="#ff8000"/>
<rect x="661.1" y="190.3" width="4.5" height="4.5" fill="#ff8000"/>
<rect x="642.3" y="182.3" width="4.5" height="4.5" fill="#ff8000"/>
<rect x="640.2" y="193.0" width="4.5" height="4.5" fill="#ffff00"/>
<rect x="583.6" y="136.4" width="4.5" height="4.5" fill="#ffff00"/>
<rect x="630.5" y="167.5" width="4.5" height="4.5" fill="#ff8000"/>
<rect x="611.0" y="147.6" width="4.5" height="4.5" fill="#ffff00"/>
<rect x="678.0" y="192.4" width="4.5" height="4.5" fill="#ff8000"/>
<rect x="646.6" y="162.6" width="4.5" height="4.5" fill="#ff8000"/>
<rect x="587.2" y="159.2" width="4.5" height="4.5" fill="#ffff00"/>
<rect x="663.8" y="204.7" width="4.5" height="4.5" fill="#80ff80"/>
<rect x="596.0" y="171.4" width="4.5" height="4.5" fill="#80ff80"/>
<rect x="567.6" y="98.9" width="4.5" height="4.5" fill="#ff8000"/>
<rect x="670.2" y="224.5" width="4.5" height="4.5" fill="#00ffff"/>
<rect x="635.1" y="150.8" width="4.5" height="4.5" fill="#ff8000"/>
<rect x="609.5" y="195.1" width="4.5" height="4.5" fill="#80ff80"/>
<rect x="662.4" y="211.9" width="4.5" height="4.5" fill="#80ff80"/>
<rect x="644.1" y="196.0" width="4.5" height="4.5" fill="#ff8000"/>
<rect x="642.4" y="190.1" width="4.5" height="4.5" fill="#ffff00"/>
<rect x="626.6" y="177.9" width="4.5" height="4.5" fill="#ffff00"/>
<rect x="579.8" y="179.2" width="4.5" height="4.5" fill="#80ff80"/>
<rect x="597.4" y="154.5" width="4.5" height="4.5" fill="#ffff00"/>
<rect x="643.5" y="202.8" width="4.5" height="4.5" fill="#ffff00"/>
<rect x="604.5" y="176.3" width="4.5" height="4.5" fill="#ffff00"/>
<rect x="597.0" y="140.3" width="4.5" height="4.5" fill="#ffff00"/>
<rect x="708.4" y="200.7" width="4.5" height="4.5" fill="#ff8000"/>
<rect x="642.6" y="176.6" width="4.5" height="4.5" fill="#ff8000"/>
<rect x="577.1" y="158.5" width="4.5" height="4.5" fill="#ffff00"/>
<rect x="720.2" y="219.8" width="4.5" height="4.5" fill="#ff8000"/>
<rect x="591.5" y="164.0" width="4.5" height="4.5" fill="#ffff00"/>
<rect x="652.7" y="216.4" width="4.5" height="4.5" fill="#00ffff"/>
<rect x="619.5" y="157.0" width="4.5" height="4.5" fill="#ffff00"/>
<rect x="662.7" y="221.9" width="4.5" height="4.5" fill="#00ffff"/>
<rect x="622.4" y="139.1" width="4.5" height="4.5" fill="#ff8000"/>
<rect x="587.3" y="149.4" width="4.5" height="4.5" fill="#ffff00"/>
<rect x="602.6" y="134.7" width="4.5" height="4.5" fill="#ff8000"/>
<rect x="625.0" y="170.1" width="4.5" height="4.5" fill="#ffff00"/>
<rect x="648.1" y="182.1" width="4.5" height="4.5" fill="#ffff00"/>
<rect x="622.2" y="148.2" width="4.5" height="4.5" fill="#ff8000"/>
<rect x="615.4" y="124.1" width="4.5" height="4.5" fill="#ff8000"/>
<rect x="675.7" y="225.4" width="4.5" height="4.5" fill="#00ffff"/>
<rect x="574.3" y="113.8" width="4.5" height="4.5" fill="#ff8000"/>
<rect x="688.8" y="218.7" width="4.5" height="4.5" fill="#80ff80"/>
<rect x="568.6" y="127.3" width="4.5" height="4.5" fill="#ffff00"/>
<rect x="654.8" y="188.3" width="4.5" height="4.5" fill="#ffff00"/>
<rect x="639.6" y="156.0" width="4.5" height="4.5" fill="#ff8000"/>
<rect x="698.6" y="196.0" width="4.5" height="4.5" fill="#ffff00"/>
<rect x="601.1" y="178.5" width="4.5" height="4.5" fill="#ffff00"/>
<rect x="560.8" y="137.1" width="4.5" height="4.5" fill="#ffff00"/>
<rect x="720.2" y="200.8" width="4.5" height="4.5" fill="#ff8000"/>
<rect x="625.2" y="173.3" width="4.5" height="4.5" fill="#ff8000"/>
<rect x="579.7" y="150.0" width="4.5" height="4.5" fill="#ffff00"/>
<rect x="622.8" y="217.1" width="4.5" height="4.5" fill="#00ffff"/>
<rect x="652.6" y="183.3" width="4.5" height="4.5" fill="#ffff00"/>
<rect x="627.5" y="191.9" width="4.5" height="4.5" fill="#ffff00"/>
<rect x="601.9" y="178.9" width="4.5" height="4.5" fill="#ffff00"/>
<rect x="603.1" y="163.8" width="4.5" height="4.5" fill="#ffff00"/>
<rect x="629.2" y="192.1" width="4.5" height="4.5" fill="#ffff00"/>
<rect x="699.0" y="221.5" width="4.5" height="4.5" fill="#00ffff"/>
<rect x="593.0" y="210.4" width="4.5" height="4.5" fill="#ff8000"/>
<rect x="706.1" y="204.9" width="4.5" height="4.5" fill="#ffff00"/>
<rect x="617.8" y="174.2" width="4.5" height="4.5" fill="#ff8000"/>
<rect x="674.3" y="196.8" width="4.5" height="4.5" fill="#ff8000"/>
<rect x="641.5" y="153.6" width="4.5" height="4.5" fill="#ff8000"/>
<rect x="597.9" y="152.5" width="4.5" height="4.5" fill="#ff8000"/>
<rect x="589.2" y="63.8" width="4.5" height="4.5" fill="#ff8000"/>
<rect x="675.7" y="186.9" width="4.5" height="4.5" fill="#ffff00"/>
<rect x="630.3" y="196.0" width="4.5" height="4.5" fill="#80ff80"/>
<rect x="684.1" y="198.6" width="4.5" height="4.5" fill="#ff8000"/>
<rect x="623.5" y="179.5" width="4.5" height="4.5" fill="#ffff00"/>
<rect x="607.7" y="139.5" width="4.5" height="4.5" fill="#ff8000"/>
<rect x="584.8" y="123.5" width="4.5" height="4.5" fill="#ff8000"/>
<rect x="597.5" y="158.3" width="4.5" height="4.5" fill="#ffff00"/>
<rect x="573.4" y="120.8" width="4.5" height="4.5" fill="#ff8000"/>
<rect x="623.8" y="163.2" width="4.5" height="4.5" fill="#ff8000"/>
<rect x="666.6" y="196.4" width="4.5" height="4.5" fill="#ff8000"/>
<rect x="670.3" y="202.5" width="4.5" height="4.5" fill="#ffff00"/>
<rect x="576.9" y="134.8" width="4.5" height="4.5" fill="#ff8000"/>
<rect x="635.4" y="208.8" width="4.5" height="4.5" fill="#80ff80"/>
<rect x="621.7" y="197.1" width="4.5" height="4.5" fill="#80ff80"/>
<rect x="690.3" y="233.2" width="4.5" height="4.5" fill="#00ffff"/>
<rect x="693.0" y="204.1" width="4.5" height="4.5" fill="#ff8000"/>
<rect x="714.2" y="215.1" width="4.5" height="4.5" fill="#80ff80"/>
<rect x="629.9" y="156.2" width="4.5" height="4.5" fill="#ff8000"/>
<rect x="687.8" y="201.9" width="4.5" height="4.5" fill="#ff8000"/>
<rect x="580.8" y="90.7" width="4.5" height="4.5" fill="#ff8000"/>
<rect x="644.5" y="220.2" width="4.5" height="4.5" fill="#00ffff"/>
<rect x="704.0" y="217.9" width="4.5" height="4.5" fill="#ffff00"/>
<rect x="628.4" y="174.2" width="4.5" height="4.5" fill="#ffff00"/>
<rect x="660.9" y="205.9" width="4.5" height="4.5" fill="#ffff00"/>
<rect x="647.0" y="185.6" width="4.5" height="4.5" fill="#ffff00"/>
<rect x="663.8" y="222.5" width="4.5" height="4.5" fill="#ffff00"/>
<rect x="647.0" y="211.0" width="4.5" height="4.5" fill="#80ff80"/>
<rect x="600.9" y="140.3" width="4.5" height="4.5" fill="#ff8000"/>
<rect x="607.2" y="167.7" width="4.5" height="4.5" fill="#ff8000"/>
<rect x="661.5" y="194.2" width="4.5" height="4.5" fill="#ffff00"/>
<rect x="578.6" y="142.1" width="4.5" height="4.5" fill="#ffff00"/>
<rect x="602.4" y="153.6" width="4.5" height="4.5" fill="#ffff00"/>
<rect x="656.3" y="220.1" width="4.5" height="4.5" fill="#00ffff"/>
<rect x="653.0" y="191.5" width="4.5" height="4.5" fill="#ff8000"/>
<rect x="600.2" y="141.3" width="4.5" height="4.5" fill="#ff8000"/>
<rect x="677.0" y="164.9" width="4.5" height="4.5" fill="#ffff00"/>
<rect x="626.3" y="194.3" width="4.5" height="4.5" fill="#80ff80"/>
<rect x="614.5" y="233.6" width="4.5" height="4.5" fill="#ffff00"/>
<rect x="683.3" y="215.3" width="4.5" height="4.5" fill="#ff8000"/>
<rect x="586.8" y="146.6" width="4.5" height="4.5" fill="#ffff00"/>
<rect x="709.4" y="187.6" width="4.5" height="4.5" fill="#ff8000"/>
<rect x="627.0" y="187.0" width="4.5" height="4.5" fill="#ffff00"/>
<rect x="597.9" y="141.6" width="4.5" height="4.5" fill="#ff8000"/>
<rect x="606.9" y="152.1" width="4.5" height="4.5" fill="#ffff00"/>
<rect x="608.4" y="167.6" width="4.5" height="4.5" fill="#ffff00"/>
<rect x="592.8" y="147.9" width="4.5" height="4.5" fill="#ffff00"/>
<rect x="602.7" y="122.0" width="4.5" height="4.5" fill="#ff8000"/>
<rect x="712.4" y="209.7" width="4.5" height="4.5" fill="#ff8000"/>
<rect x="614.9" y="185.4" width="4.5" height="4.5" fill="#ffff00"/>
<rect x="620.2" y="146.1" width="4.5" height="4.5" fill="#ff8000"/>
<rect x="666.5" y="234.6" width="4.5" height="4.5" fill="#ffff00"/>
<rect x="678.0" y="219.9" width="4.5" height="4.5" fill="#80ff80"/>
<rect x="652.2" y="185.2" width="4.5" height="4.5" fill="#ff8000"/>
<rect x="623.2" y="159.6" width="4.5" height="4.5" fill="#ff8000"/>
<rect x="599.5" y="73.5" width="4.5" height="4.5" fill="#ff8000"/>
<rect x="665.0" y="217.1" width="4.5" height="4.5" fill="#00ffff"/>
<rect x="630.6" y="185.4" width="4.5" height="4.5" fill="#ffff00"/>
<rect x="581.4" y="144.6" width="4.5" height="4.5" fill="#ffff00"/>
<rect x="582.4" y="143.3" width="4.5" height="4.5" fill="#ffff00"/>
<rect x="609.6" y="197.3" width="4.5" height="4.5" fill="#00ffff"/>
<rect x="625.9" y="162.0" width="4.5" height="4.5" fill="#ff8000"/>
<rect x="695.6" y="213.1" width="4.5" height="4.5" fill="#ffff00"/>
<rect x="636.9" y="157.2" width="4.5" height="4.5" fill="#ff8000"/>
<rect x="634.1" y="166.4" width="4.5" height="4.5" fill="#ffff00"/>
<rect x="596.6" y="129.1" width="4.5" height="4.5" fill="#ff8000"/>
<rect x="617.4" y="152.5" width="4.5" height="4.5" fill="#ffff00"/>
<rect x="649.4" y="157.7" width="4.5" height="4.5" fill="#ff8000"/>
<rect x="677.6" y="221.1" width="4.5" height="4.5" fill="#80ff80"/>
<rect x="634.7" y="160.5" width="4.5" height="4.5" fill="#ffff00"/>
<rect x="614.2" y="132.6" width="4.5" height="4.5" fill="#ffff00"/>
<rect x="579.9" y="132.1" width="4.5" height="4.5" fill="#ffff00"/>
<rect x="619.2" y="161.4" width="4.5" height="4.5" fill="#ff8000"/>
<rect x="586.5" y="153.0" width="4.5" height="4.5" fill="#ffff00"/>
<rect x="633.8" y="167.7" width="4.5" height="4.5" fill="#ff8000"/>
<rect x="609.4" y="165.1" width="4.5" height="4.5" fill="#ffff00"/>
<rect x="633.3" y="165.4" width="4.5" height="4.5" fill="#ffff00"/>
<rect x="633.2" y="184.1" width="4.5" height="4.5" fill="#ffff00"/>
<rect x="692.2" y="198.7" width="4.5" height="4.5" fill="#ffff00"/>
<rect x="584.8" y="121.7" width="4.5" height="4.5" fill="#ff8000"/>
<rect x="604.0" y="130.0" width="4.5" height="4.5" fill="#ff8000"/>
<rect x="606.8" y="176.1" width="4.5" height="4.5" fill="#ffff00"/>
<rect x="580.2" y="93.8" width="4.5" height="4.5" fill="#ff8000"/>
<rect x="594.6" y="208.8" width="4.5" height="4.5" fill="#ff8000"/>
<rect x="608.9" y="166.3" width="4.5" height="4.5" fill="#ffff00"/>
<rect x="625.0" y="143.0" width="4.5" height="4.5" fill="#ff8000"/>
<rect x="564.9" y="100.5" width="4.5" height="4.5" fill="#ffff00"/>
<rect x="659.4" y="173.7" width="4.5" height="4.5" fill="#ff8000"/>
<rect x="590.1" y="153.2" width="4.5" height="4.5" fill="#ffff00"/>
<rect x="633.2" y="169.6" width="4.5" height="4.5" fill="#ffff00"/>
<rect x="634.0" y="192.6" width="4.5" height="4.5" fill="#ffff00"/>
<rect x="595.2" y="144.6" width="4.5" height="4.5" fill="#ff8000"/>
<rect x="607.5" y="117.1" width="4.5" height="4.5" fill="#ff8000"/>
<rect x="712.1" y="226.4" width="4.5" height="4.5" fill="#00ffff"/>
</g>
<g fill="none" stroke-linejoin="round" stroke-linecap="butt" clip-path="url(#cp2)">
<path d="M554.0 109.0 L562.2 119.7 L570.5 127.9 L578.7 135.4 L582.4 137.5 L591.9 144.9 L601.8 154.8 L610.0 163.0 L616.6 170.4 L620.0 175.0 L626.9 182.4 L635.2 190.7 L643.4 198.1 L650.0 203.8 L655.0 206.3 L661.5 207.1 L668.1 207.1 L674.7 207.1 L679.7 209.6 L684.6 214.5" stroke="#2f8f2f" stroke-width="0.9"/>
<path d="M566.4 104.1 L573.8 107.4 L582.0 111.5 L588.6 114.8 L593.5 120.5 L598.5 127.9 L603.4 134.5 L610.0 142.4 L616.6 149.0 L624.8 156.4 L633.1 163.0 L641.3 169.2 L648.0 175.2 L655.0 181.2 L663.2 187.4 L671.4 192.3 L679.7 197.2 L687.9 201.4 L696.1 204.3 L706.0 207.1 L716.0 209.0" stroke="#00beff" stroke-width="2.7"/>
<path d="M570.9 106.1 L573.8 107.4 L582.0 111.5 L588.6 114.8 L593.5 120.5 L598.5 127.9 L603.4 134.5 L610.0 142.4 L616.6 149.0 L624.8 156.4 L633.1 163.0 L641.3 169.2 L648.0 175.2 L655.0 181.2 L663.2 187.4 L671.4 192.3 L679.7 197.2 L687.9 201.4 L696.1 204.3 L706.0 207.1 L716.0 209.0" stroke="#4a3a66" stroke-width="0.8" transform="translate(0.45 -0.45)"/>
<path d="M566.4 127.1 L573.8 133.7 L580.4 139.5 L583.7 143.2 L591.9 150.7 L600.1 158.1 L608.4 164.7 L616.6 170.4 L624.8 175.4 L631.4 179.5 L635.2 182.4 L643.4 188.2 L651.7 193.9 L661.5 201.0 L671.4 203.0 L681.3 205.5 L692.8 208.8 L702.7 211.2 L715.8 214.2" stroke="#4068ee" stroke-width="2.5"/>
<path d="M563.1 153.9 L570.5 156.4 L578.7 158.4 L583.7 161.4 L588.6 167.1 L593.5 172.1 L597.3 175.5 L605.5 182.4 L613.8 189.8 L623.7 197.2 L633.5 203.0 L643.4 207.1 L653.3 211.2 L663.2 212.1 L673.1 213.2 L683.0 214.5 L692.8 216.2 L702.7 217.5 L713.9 219.2 L721.4 221.6" stroke="#0b0b7c" stroke-width="2.6"/>
<path d="M570.0 104.4 L574.8 106.2 L583.0 110.3 L589.6 113.6 L594.5 119.3 L599.5 126.7 L604.4 133.3 L611.0 141.2 L617.6 147.8 L625.8 155.2 L634.1 161.8 L642.3 168.0 L649.0 174.0 L656.0 180.0" stroke="#e02020" stroke-width="0.8"/>
<path d="M696.1 203.5 L706.0 206.3 L716.0 208.4 L721.0 210.3" stroke="#e02020" stroke-width="0.8"/>
</g>
<rect x="554.0" y="57.6" width="179.8" height="180.4" fill="none" stroke="#000" stroke-width="2.1"/>
<path d="M613.9 57.6v7.2M613.9 238v-7.2M673.9 57.6v7.2M673.9 238v-7.2M554.0 109.1h7.2M733.8 109.1h-7.2M554.0 160.7h7.2M733.8 160.7h-7.2M554.0 212.2h7.2M733.8 212.2h-7.2" stroke="#000" stroke-width="2.1"/>
<g transform="scale(1 1.045)">
<text class="t" x="69.4" y="10.14" text-anchor="middle">−0.2</text>
<text class="t" x="108.6" y="10.14" text-anchor="middle">0</text>
<text class="t" x="144.6" y="10.14" text-anchor="middle">0.2</text>
<text class="t" x="180.6" y="10.14" text-anchor="middle">0.4</text>
<text class="t" x="216.6" y="10.14" text-anchor="middle">0.6</text>
<text class="t" x="51.6" y="60.57" text-anchor="end">0.2</text>
<text class="t" x="51.6" y="110.05" text-anchor="end">0</text>
<text class="t" x="51.6" y="159.43" text-anchor="end">−0.2</text>
<text class="t" x="51.6" y="208.71" text-anchor="end">−0.4</text>
<text class="t" x="51.2" y="245.17" text-anchor="middle">−0.5</text>
<text class="t" x="115.3" y="245.17" text-anchor="middle">0</text>
<text class="t" x="175.3" y="245.17" text-anchor="middle">0.5</text>
<text class="t" x="235.2" y="245.17" text-anchor="middle">1</text>
<text class="xl" x="145.4" y="258.56" text-anchor="middle">log(n)</text>
<text class="z" x="175.9" y="77.13">0.5&lt;z&lt; 0.8</text>
<text class="t" x="318.7" y="10.14" text-anchor="middle">−0.2</text>
<text class="t" x="357.9" y="10.14" text-anchor="middle">0</text>
<text class="t" x="393.9" y="10.14" text-anchor="middle">0.2</text>
<text class="t" x="429.9" y="10.14" text-anchor="middle">0.4</text>
<text class="t" x="465.9" y="10.14" text-anchor="middle">0.6</text>
<text class="t" x="300.9" y="60.57" text-anchor="end">0.2</text>
<text class="t" x="300.9" y="110.05" text-anchor="end">0</text>
<text class="t" x="300.9" y="159.43" text-anchor="end">−0.2</text>
<text class="t" x="300.9" y="208.71" text-anchor="end">−0.4</text>
<text class="t" x="300.5" y="245.17" text-anchor="middle">−0.5</text>
<text class="t" x="364.6" y="245.17" text-anchor="middle">0</text>
<text class="t" x="424.6" y="245.17" text-anchor="middle">0.5</text>
<text class="t" x="484.5" y="245.17" text-anchor="middle">1</text>
<text class="xl" x="394.7" y="258.56" text-anchor="middle">log(n)</text>
<text class="z" x="425.2" y="77.13">0.8&lt;z&lt; 1.5</text>
<text class="t" x="568.0" y="10.14" text-anchor="middle">−0.2</text>
<text class="t" x="607.2" y="10.14" text-anchor="middle">0</text>
<text class="t" x="643.2" y="10.14" text-anchor="middle">0.2</text>
<text class="t" x="679.2" y="10.14" text-anchor="middle">0.4</text>
<text class="t" x="715.2" y="10.14" text-anchor="middle">0.6</text>
<text class="t" x="550.2" y="60.57" text-anchor="end">0.2</text>
<text class="t" x="550.2" y="110.05" text-anchor="end">0</text>
<text class="t" x="550.2" y="159.43" text-anchor="end">−0.2</text>
<text class="t" x="550.2" y="208.71" text-anchor="end">−0.4</text>
<text class="t" x="549.8" y="245.17" text-anchor="middle">−0.5</text>
<text class="t" x="613.9" y="245.17" text-anchor="middle">0</text>
<text class="t" x="673.9" y="245.17" text-anchor="middle">0.5</text>
<text class="t" x="733.8" y="245.17" text-anchor="middle">1</text>
<text class="xl" x="644.0" y="258.56" text-anchor="middle">log(n)</text>
<text class="z" x="674.5" y="77.13">1.5&lt;z&lt; 3.0</text>
</g>
<text class="yl" transform="translate(9.2 148.3) rotate(-90)" text-anchor="middle" word-spacing="-2">Δ Σ<tspan font-size="10.5" dy="3.8" dx="-0.3">1</tspan></text>
<text class="yl" transform="translate(258.5 148.3) rotate(-90)" text-anchor="middle" word-spacing="-2">Δ Σ<tspan font-size="10.5" dy="3.8" dx="-0.3">1</tspan></text>
<text class="yl" transform="translate(507.8 148.3) rotate(-90)" text-anchor="middle" word-spacing="-2">Δ Σ<tspan font-size="10.5" dy="3.8" dx="-0.3">1</tspan></text>
</svg>
</body></html>
